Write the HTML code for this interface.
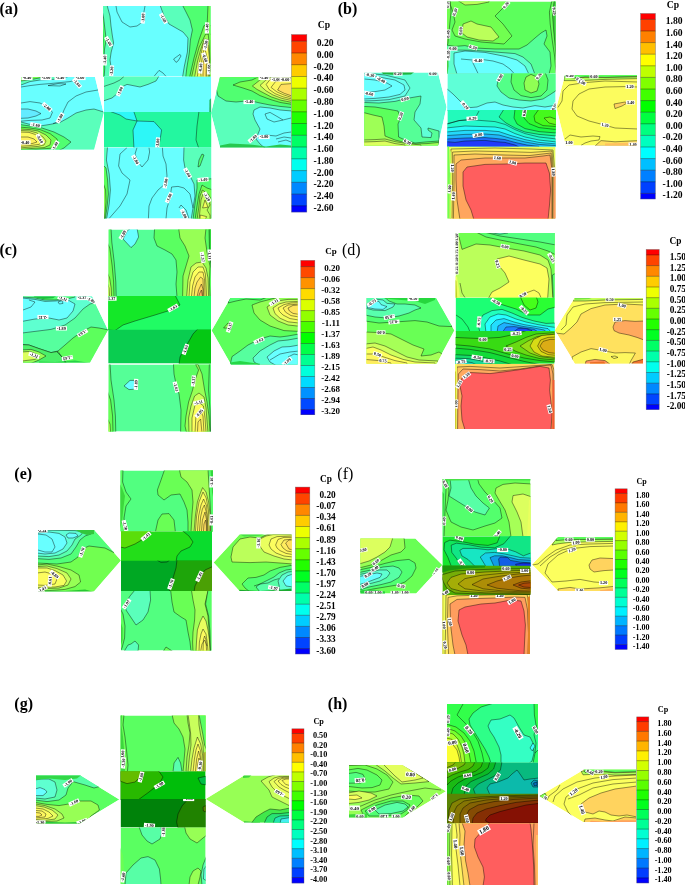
<!DOCTYPE html>
<html><head><meta charset="utf-8"><title>Cp contours</title>
<style>
html,body{margin:0;padding:0;background:#fff;}
body{width:685px;height:885px;overflow:hidden;}
svg{display:block;font-family:"Liberation Serif","DejaVu Serif",serif;}
</style></head><body>
<svg width="685" height="885" viewBox="0 0 685 885" shape-rendering="geometricPrecision">
<defs>
<filter id="bl" x="-30%" y="-30%" width="160%" height="160%"><feGaussianBlur stdDeviation="0.7"/></filter>
<clipPath id="c1"><polygon points="103,6 210.4,6 210.4,76.4 103,76.4"/></clipPath>
<clipPath id="c2"><polygon points="104,76.4 211.2,76.4 211.2,112.7 104,112.7"/></clipPath>
<clipPath id="c3"><polygon points="104,112 211.2,112 211.2,147.6 104,147.6"/></clipPath>
<clipPath id="c4"><polygon points="104,147.6 211.2,147.6 211.2,218.6 104,218.6"/></clipPath>
<clipPath id="c5"><polygon points="21,77 95,77 103.6,113 94,149.4 21,149.4"/></clipPath>
<clipPath id="c6"><polygon points="211,113 220,77 291,77 291,147.4 220,147.4"/></clipPath>
<clipPath id="c7"><polygon points="447,1.6 555.6,1.6 555.6,73.5 447,73.5"/></clipPath>
<clipPath id="c8"><polygon points="447.4,73.5 555.6,73.5 555.6,110.7 447.4,110.7"/></clipPath>
<clipPath id="c9"><polygon points="447.4,110 555.6,110 555.6,146.5 447.4,146.5"/></clipPath>
<clipPath id="c10"><polygon points="447.4,146.5 555.6,146.5 555.6,218.6 447.4,218.6"/></clipPath>
<clipPath id="c11"><polygon points="364.4,72.4 438,72.4 446.6,107 438,145.6 364.4,145.6"/></clipPath>
<clipPath id="c12"><polygon points="556.4,107.4 565,75 637,75 637,145.4 565.6,145.4"/></clipPath>
<clipPath id="c13"><polygon points="108.6,229.4 211,229.4 211,296 108.6,296"/></clipPath>
<clipPath id="c14"><polygon points="108.2,296 211,296 211,330.1 108.2,330.1"/></clipPath>
<clipPath id="c15"><polygon points="108.2,329.4 211,329.4 211,363.6 108.2,363.6"/></clipPath>
<clipPath id="c16"><polygon points="108.6,364.4 211,364.4 211,431.6 108.6,431.6"/></clipPath>
<clipPath id="c17"><polygon points="23,296.4 92,296.4 108,330 90,362.6 23,362.6"/></clipPath>
<clipPath id="c18"><polygon points="211.6,330.6 230.4,298 297.6,298 297.6,364.4 231,364.4"/></clipPath>
<clipPath id="c19"><polygon points="455.6,233 554.6,233 554.6,297.8 455.6,297.8"/></clipPath>
<clipPath id="c20"><polygon points="455.6,297.8 554.6,297.8 554.6,331.7 455.6,331.7"/></clipPath>
<clipPath id="c21"><polygon points="455.6,331 554.6,331 554.6,363.7 455.6,363.7"/></clipPath>
<clipPath id="c22"><polygon points="455.2,364 554.4,364 554.4,429 455.2,429"/></clipPath>
<clipPath id="c23"><polygon points="366.6,298 436,298 454.4,330.6 436.6,363.4 366.6,363.4"/></clipPath>
<clipPath id="c24"><polygon points="555,330.6 574.6,298.2 643,298.2 643,363.4 575,363.4"/></clipPath>
<clipPath id="c25"><polygon points="120.4,470.6 213,470.6 213,531.2 120.4,531.2"/></clipPath>
<clipPath id="c26"><polygon points="121,531.2 212,531.2 212,561.1 121,561.1"/></clipPath>
<clipPath id="c27"><polygon points="121,560.4 212,560.4 212,591 121,591"/></clipPath>
<clipPath id="c28"><polygon points="121,591 211.4,591 211.4,650.6 121,650.6"/></clipPath>
<clipPath id="c29"><polygon points="38,530 94,530 121,560.6 94,591.4 38,591.4"/></clipPath>
<clipPath id="c30"><polygon points="213.6,562.4 239.4,534.4 291.6,534.4 291.6,591 239.4,591"/></clipPath>
<clipPath id="c31"><polygon points="442.6,479 530.4,479 530.4,536.2 442.6,536.2"/></clipPath>
<clipPath id="c32"><polygon points="442.4,536.2 530.4,536.2 530.4,566.2 442.4,566.2"/></clipPath>
<clipPath id="c33"><polygon points="442.4,565.6 530.4,565.6 530.4,595 442.4,595"/></clipPath>
<clipPath id="c34"><polygon points="442.4,595 530,595 530,654 442.4,654"/></clipPath>
<clipPath id="c35"><polygon points="360.4,538.6 415.4,538.6 442.4,565 416.2,593.4 360.4,593.4"/></clipPath>
<clipPath id="c36"><polygon points="532,564.4 558,537 613,537 613,591 558,591"/></clipPath>
<clipPath id="c37"><polygon points="120.6,715.4 205.6,715.4 205.6,771.2 120.6,771.2"/></clipPath>
<clipPath id="c38"><polygon points="120.6,771.2 205.6,771.2 205.6,799.7 120.6,799.7"/></clipPath>
<clipPath id="c39"><polygon points="120.6,799 205.6,799 205.6,827.6 120.6,827.6"/></clipPath>
<clipPath id="c40"><polygon points="120.6,827.6 205.6,827.6 205.6,884 120.6,884"/></clipPath>
<clipPath id="c41"><polygon points="36,775.6 80.4,775.6 119.3,799.6 79.6,823.4 36,823.4"/></clipPath>
<clipPath id="c42"><polygon points="205.6,799 244,775.6 289,775.6 289,822.4 244,822.4"/></clipPath>
<clipPath id="c43"><polygon points="447,704 538,704 538,762.6 447,762.6"/></clipPath>
<clipPath id="c44"><polygon points="447,762.6 538,762.6 538,794 447,794"/></clipPath>
<clipPath id="c45"><polygon points="447,793.4 538,793.4 538,823.6 447,823.6"/></clipPath>
<clipPath id="c46"><polygon points="447,823.6 538,823.6 538,885 447,885"/></clipPath>
<clipPath id="c47"><polygon points="349,765 402,765 446,791.3 402.8,817.4 349,817.4"/></clipPath>
<clipPath id="c48"><polygon points="539.4,796 584,769.6 636,769.6 636,822 583,822"/></clipPath>
</defs>
<rect width="685" height="885" fill="#fff"/>
<text x="-0.6" y="14" font-size="16" font-weight="bold">(a)</text>
<g clip-path="url(#c1)">
<polygon points="103,6 210.4,6 210.4,76.4 103,76.4" fill="#68ffff"/>
<polygon points="102,5 107,5 110,16 111,26 112.4,36 113.6,43 111.2,52 110,60 111.2,68 110,78 102,78" fill="#5affbb" stroke="#000" stroke-opacity="0.85" stroke-width="0.5" stroke-linejoin="round"/>
<polygon points="102,10 103.6,18 104.8,28 106,38 105.6,43 104.4,50 104,60 104.8,68 104,78 102,78" fill="#50ff71" stroke="#000" stroke-opacity="0.85" stroke-width="0.5" stroke-linejoin="round"/>
<polygon points="102,22 103.2,30 104,40 103.2,50 102.8,60 103.2,78 102,78" fill="#28d750" filter="url(#bl)"/>
<polygon points="160,5 164,16 169,24 176,28 183,32 188,38 187.4,52 184.4,66 182.4,78 212,78 212,5" fill="#5affbb" stroke="#000" stroke-opacity="0.85" stroke-width="0.5" stroke-linejoin="round"/>
<polygon points="182.4,5 186,12 190,20 192.4,30 190.4,40 189.4,52 186.8,68 185.6,78 212,78 212,5" fill="#50ff71" stroke="#000" stroke-opacity="0.85" stroke-width="0.5" stroke-linejoin="round"/>
<polygon points="204,25.6 199,40 194,58 189.4,78 212,78 212,25.6" fill="#71ff50" stroke="#000" stroke-opacity="0.85" stroke-width="0.5" stroke-linejoin="round"/>
<polygon points="205.6,34.2 199.2,47 195.2,61 191.4,78 212,78 212,34.2" fill="#97ff55" stroke="#000" stroke-opacity="0.85" stroke-width="0.5" stroke-linejoin="round"/>
<polygon points="204.4,39 200.6,50 197.6,61 194.4,78 211,78 210,40" fill="#d3ff5d" stroke="#000" stroke-opacity="0.85" stroke-width="0.5" stroke-linejoin="round"/>
<polygon points="203.6,43 201,54 199.2,64 197.2,78 208.4,78 209.6,60 208,45" fill="#fcfd5e" stroke="#000" stroke-opacity="0.85" stroke-width="0.5" stroke-linejoin="round"/>
<polygon points="204.4,47 202,59 200.4,70 201.2,78 206.8,78 207.6,60" fill="#fdf65e" stroke="#000" stroke-opacity="0.85" stroke-width="0.5" stroke-linejoin="round"/>
<polygon points="204.8,54 203,64 203,78 206,78 206.4,64" fill="#ffe55e" stroke="#000" stroke-opacity="0.85" stroke-width="0.5" stroke-linejoin="round"/>
<polygon points="208,5 212,5 212,78 209.4,78 210,60 208.8,40 207.2,24" fill="#71ff50" stroke="#000" stroke-opacity="0.85" stroke-width="0.5" stroke-linejoin="round"/>
<polyline points="116,6 117,12 122,22 130,27 137,26 142,22.4 145,6" fill="none" stroke="#000" stroke-opacity="0.85" stroke-width="0.5" stroke-linejoin="round"/>
<polyline points="173.6,59 180,54.4 181,56 178,61 176,62.4 173.6,59" fill="none" stroke="#000" stroke-opacity="0.85" stroke-width="0.5" stroke-linejoin="round"/>
<polyline points="154,76.4 159,70.4 163,73 166,76.4" fill="none" stroke="#000" stroke-opacity="0.85" stroke-width="0.5" stroke-linejoin="round"/>
<g transform="translate(143 18) rotate(-85)"><rect x="-5.5" y="-2.1" width="11.1" height="4.2" fill="#fff"/><text x="0" y="1.4" text-anchor="middle" font-size="4.2" font-weight="bold" fill="#000">-1.80</text></g>
<g transform="translate(163.4 18.4) rotate(60)"><rect x="-5.5" y="-2.1" width="11.1" height="4.2" fill="#fff"/><text x="0" y="1.4" text-anchor="middle" font-size="4.2" font-weight="bold" fill="#000">-1.60</text></g>
<g transform="translate(108.6 41.6) rotate(60)"><rect x="-5.5" y="-2.1" width="11.1" height="4.2" fill="#fff"/><text x="0" y="1.4" text-anchor="middle" font-size="4.2" font-weight="bold" fill="#000">-1.60</text></g>
<g transform="translate(104.8 60) rotate(-88)"><rect x="-5.5" y="-2.1" width="11.1" height="4.2" fill="#fff"/><text x="0" y="1.4" text-anchor="middle" font-size="4.2" font-weight="bold" fill="#000">-1.40</text></g>
<g transform="translate(111.6 71) rotate(-85)"><rect x="-5.5" y="-2.1" width="11.1" height="4.2" fill="#fff"/><text x="0" y="1.4" text-anchor="middle" font-size="4.2" font-weight="bold" fill="#000">-1.20</text></g>
<g transform="translate(207 28) rotate(-88)"><rect x="-5.5" y="-2.1" width="11.1" height="4.2" fill="#fff"/><text x="0" y="1.4" text-anchor="middle" font-size="4.2" font-weight="bold" fill="#000">-1.40</text></g>
<g transform="translate(205.6 45) rotate(-80)"><rect x="-5.5" y="-2.1" width="11.1" height="4.2" fill="#fff"/><text x="0" y="1.4" text-anchor="middle" font-size="4.2" font-weight="bold" fill="#000">-1.20</text></g>
<g transform="translate(205 58) rotate(70)"><rect x="-5.5" y="-2.1" width="11.1" height="4.2" fill="#fff"/><text x="0" y="1.4" text-anchor="middle" font-size="4.2" font-weight="bold" fill="#000">-0.60</text></g>
<g transform="translate(200.6 68) rotate(-85)"><rect x="-5.5" y="-2.1" width="11.1" height="4.2" fill="#fff"/><text x="0" y="1.4" text-anchor="middle" font-size="4.2" font-weight="bold" fill="#000">-0.40</text></g>
<g transform="translate(209.2 69) rotate(-88)"><rect x="-5.5" y="-2.1" width="11.1" height="4.2" fill="#fff"/><text x="0" y="1.4" text-anchor="middle" font-size="4.2" font-weight="bold" fill="#000">-1.00</text></g>
</g>
<g clip-path="url(#c2)">
<polygon points="104,76.4 211.2,76.4 211.2,112.7 104,112.7" fill="#68ffff"/>
<polygon points="102,75 159.6,75 156,81 148,84.4 140,87 133,85.6 127,84.4 123,86.4 118,93 112,98 102,101.4" fill="#5affbb" stroke="#000" stroke-opacity="0.85" stroke-width="0.5" stroke-linejoin="round"/>
<polygon points="209.4,100 211.2,98 212,112.4 209.2,112.4" fill="#28be6e" filter="url(#bl)"/>
<polyline points="104,86.4 114,83 120,80 124,76.4" fill="none" stroke="#000" stroke-opacity="0.85" stroke-width="0.5" stroke-linejoin="round"/>
<g transform="translate(120 91) rotate(-65)"><rect x="-5.5" y="-2.1" width="11.1" height="4.2" fill="#fff"/><text x="0" y="1.4" text-anchor="middle" font-size="4.2" font-weight="bold" fill="#000">-1.80</text></g>
</g>
<g clip-path="url(#c3)">
<polygon points="104,112 211.2,112 211.2,147.6 104,147.6" fill="#23f7a0"/>
<polygon points="109,111 120,115 126,119 137,121 133.6,111" fill="#2df7f7" stroke="#000" stroke-opacity="0.85" stroke-width="0.5" stroke-linejoin="round"/>
<polygon points="137,121 154,121.6 161.6,130 160,140 158,149 134,149 133,130" fill="#2df7f7" stroke="#000" stroke-opacity="0.85" stroke-width="0.5" stroke-linejoin="round"/>
<polygon points="199,111 213,111 213,149 199,149 196,140 197,126" fill="#22f786" stroke="#000" stroke-opacity="0.85" stroke-width="0.5" stroke-linejoin="round"/>
<g transform="translate(157.6 143) rotate(-85)"><rect x="-5.5" y="-2.1" width="11.1" height="4.2" fill="#fff"/><text x="0" y="1.4" text-anchor="middle" font-size="4.2" font-weight="bold" fill="#000">-1.80</text></g>
</g>
<g clip-path="url(#c4)">
<polygon points="104,147.6 211.2,147.6 211.2,218.6 104,218.6" fill="#68ffff"/>
<polygon points="102,146 107.6,146 106.4,160 109.2,174 110.4,190 109.2,204 106.4,220 102,220" fill="#5affbb" stroke="#000" stroke-opacity="0.85" stroke-width="0.5" stroke-linejoin="round"/>
<polygon points="102,164 106,168 107.6,180 108.4,194 107.2,206 105.2,220 102,220" fill="#5cff5c" stroke="#000" stroke-opacity="0.85" stroke-width="0.5" stroke-linejoin="round"/>
<polygon points="102,180 105.6,190 106,202 104.4,220 102,220" fill="#84ff53" stroke="#000" stroke-opacity="0.85" stroke-width="0.5" stroke-linejoin="round"/>
<polygon points="184,146 183.6,160 185,168 190,176 194,184 195,196 193,208 191,220 213,220 213,146" fill="#5affbb" stroke="#000" stroke-opacity="0.85" stroke-width="0.5" stroke-linejoin="round"/>
<polygon points="197,180 213,178.6 213,220 193,220 194.4,208 196,196 197,188" fill="#50ff71" stroke="#000" stroke-opacity="0.85" stroke-width="0.5" stroke-linejoin="round"/>
<polygon points="202,185 207,188 213,190 213,220 195,220 197,206 199,194" fill="#71ff50" stroke="#000" stroke-opacity="0.85" stroke-width="0.5" stroke-linejoin="round"/>
<polygon points="202.4,190 208,194 211.2,199 211.2,220 197,220 199,206 200,196" fill="#a9ff57" stroke="#000" stroke-opacity="0.85" stroke-width="0.5" stroke-linejoin="round"/>
<polygon points="203,194 208,199 210,205 207,210 210,215 210,220 199,220 200,210 201,200" fill="#c2ff5b" stroke="#000" stroke-opacity="0.85" stroke-width="0.5" stroke-linejoin="round"/>
<polygon points="205,200 208,207.2 202.6,208" fill="#f6ff5e" stroke="#000" stroke-opacity="0.85" stroke-width="0.5" stroke-linejoin="round"/>
<polygon points="200.2,215 206.6,216.6 205,220 200,220" fill="#f6ff5e" stroke="#000" stroke-opacity="0.85" stroke-width="0.5" stroke-linejoin="round"/>
<polygon points="202,154 204,155 200,166 198,167 199,160" fill="#50ff71" stroke="#000" stroke-opacity="0.85" stroke-width="0.5" stroke-linejoin="round"/>
<polyline points="127,147.6 120,154 118.6,166 122,173 130,180 127,194 120,206 109,218.6" fill="none" stroke="#000" stroke-opacity="0.85" stroke-width="0.5" stroke-linejoin="round"/>
<polyline points="137,147.6 135,154 138,162 142,167 148,160 149.6,152 149,147.6" fill="none" stroke="#000" stroke-opacity="0.85" stroke-width="0.5" stroke-linejoin="round"/>
<polyline points="162.4,147.6 163,156 166,164 167,176 165,184 158,190 152,198 149,206 148.4,218.6" fill="none" stroke="#000" stroke-opacity="0.85" stroke-width="0.5" stroke-linejoin="round"/>
<polyline points="166,218.6 167,208 170,198 171.6,187 178,186.4 184,188 190,194 193,208" fill="none" stroke="#000" stroke-opacity="0.85" stroke-width="0.5" stroke-linejoin="round"/>
<polyline points="179,208 181,205 186,210 189,218.6" fill="none" stroke="#000" stroke-opacity="0.85" stroke-width="0.5" stroke-linejoin="round"/>
<g transform="translate(135.6 160) rotate(60)"><rect x="-5.5" y="-2.1" width="11.1" height="4.2" fill="#fff"/><text x="0" y="1.4" text-anchor="middle" font-size="4.2" font-weight="bold" fill="#000">-1.80</text></g>
<g transform="translate(165.6 183) rotate(-80)"><rect x="-5.5" y="-2.1" width="11.1" height="4.2" fill="#fff"/><text x="0" y="1.4" text-anchor="middle" font-size="4.2" font-weight="bold" fill="#000">-1.80</text></g>
<g transform="translate(169 197.6) rotate(-65)"><rect x="-5.5" y="-2.1" width="11.1" height="4.2" fill="#fff"/><text x="0" y="1.4" text-anchor="middle" font-size="4.2" font-weight="bold" fill="#000">-1.80</text></g>
<g transform="translate(187.6 173) rotate(60)"><rect x="-5.5" y="-2.1" width="11.1" height="4.2" fill="#fff"/><text x="0" y="1.4" text-anchor="middle" font-size="4.2" font-weight="bold" fill="#000">-1.60</text></g>
<g transform="translate(203 179.6) rotate(-5)"><rect x="-5.5" y="-2.1" width="11.1" height="4.2" fill="#fff"/><text x="0" y="1.4" text-anchor="middle" font-size="4.2" font-weight="bold" fill="#000">-1.40</text></g>
<g transform="translate(184 214) rotate(65)"><rect x="-5.5" y="-2.1" width="11.1" height="4.2" fill="#fff"/><text x="0" y="1.4" text-anchor="middle" font-size="4.2" font-weight="bold" fill="#000">-1.80</text></g>
<g transform="translate(207 197) rotate(60)"><rect x="-5.5" y="-2.1" width="11.1" height="4.2" fill="#fff"/><text x="0" y="1.4" text-anchor="middle" font-size="4.2" font-weight="bold" fill="#000">-1.20</text></g>
</g>
<g clip-path="url(#c5)">
<polygon points="21,77 95,77 103.6,113 94,149.4 21,149.4" fill="#68ffff"/>
<polygon points="21,122 30,124.4 40,126 50,124.4 60,122.4 68,118 76,113 86,110 94,109 105,112.4 105,151 19,151 19,122" fill="#5affbb" stroke="#000" stroke-opacity="0.85" stroke-width="0.5" stroke-linejoin="round"/>
<polygon points="19,124.4 30,126 42,128 54,132 64,137 71,142 64,148 58,151 19,151" fill="#50ff71" stroke="#000" stroke-opacity="0.85" stroke-width="0.5" stroke-linejoin="round"/>
<polygon points="19,127 30,128 40,129.6 50,133.6 57,139 58,144 53,148 19,151" fill="#71ff50" stroke="#000" stroke-opacity="0.85" stroke-width="0.5" stroke-linejoin="round"/>
<polygon points="19,129 30,129.6 38,131 46,135 51,140 50,145 44,147.6 19,149.4" fill="#bbff5a" stroke="#000" stroke-opacity="0.85" stroke-width="0.5" stroke-linejoin="round"/>
<polygon points="19,130.4 30,131 37,133 43,137 46,141 44,145 38,146.4 19,148" fill="#e9ff5e" stroke="#000" stroke-opacity="0.85" stroke-width="0.5" stroke-linejoin="round"/>
<polygon points="19,132 29,132.4 35,134.4 40,138.4 42,142 39,144.4 30,145.6 19,146.4" fill="#fdfa5e" stroke="#000" stroke-opacity="0.85" stroke-width="0.5" stroke-linejoin="round"/>
<polygon points="19,137 28,137 34,139 37,142 32,143.6 19,144" fill="#fef05e" stroke="#000" stroke-opacity="0.85" stroke-width="0.5" stroke-linejoin="round"/>
<polygon points="19,109 28,109 36,111 41,113.6 36,116 28,118 19,118.4" fill="#63ebff" stroke="#000" stroke-opacity="0.85" stroke-width="0.5" stroke-linejoin="round"/>
<polygon points="19,76 70,76 60,79 40,80 30,81.6 21,85 19,85" fill="#5affbb" stroke="#000" stroke-opacity="0.85" stroke-width="0.5" stroke-linejoin="round"/>
<polygon points="19,76 50,76 34,79 21,81 19,81" fill="#71ff50" stroke="#000" stroke-opacity="0.85" stroke-width="0.5" stroke-linejoin="round"/>
<polyline points="98,90 86,92 76,96 68,102 64,110 61,118 57,122 53,123.6" fill="none" stroke="#000" stroke-opacity="0.85" stroke-width="0.5" stroke-linejoin="round"/>
<polyline points="21,103 30,101.6 40,103 49,107.6 52.4,112.4 50,118 42,120 30,120.4 21,121.2" fill="none" stroke="#000" stroke-opacity="0.85" stroke-width="0.5" stroke-linejoin="round"/>
<polyline points="21,87 30,85.6 40,84.4 50,83.6 62,82.4 70,81.6 76,80 79,77.4" fill="none" stroke="#000" stroke-opacity="0.85" stroke-width="0.5" stroke-linejoin="round"/>
<polyline points="48,85.6 58,83.6 66,84 60,86 48,85.6" fill="none" stroke="#000" stroke-opacity="0.85" stroke-width="0.5" stroke-linejoin="round"/>
<g transform="translate(77 83) rotate(50)"><rect x="-5.5" y="-2.1" width="11.1" height="4.2" fill="#fff"/><text x="0" y="1.4" text-anchor="middle" font-size="4.2" font-weight="bold" fill="#000">-1.80</text></g>
<g transform="translate(47 107) rotate(40)"><rect x="-5.5" y="-2.1" width="11.1" height="4.2" fill="#fff"/><text x="0" y="1.4" text-anchor="middle" font-size="4.2" font-weight="bold" fill="#000">-2.00</text></g>
<g transform="translate(60 118) rotate(-60)"><rect x="-5.5" y="-2.1" width="11.1" height="4.2" fill="#fff"/><text x="0" y="1.4" text-anchor="middle" font-size="4.2" font-weight="bold" fill="#000">-1.80</text></g>
<g transform="translate(35.6 125) rotate(10)"><rect x="-5.5" y="-2.1" width="11.1" height="4.2" fill="#fff"/><text x="0" y="1.4" text-anchor="middle" font-size="4.2" font-weight="bold" fill="#000">-1.60</text></g>
<g transform="translate(40 139) rotate(60)"><rect x="-5.5" y="-2.1" width="11.1" height="4.2" fill="#fff"/><text x="0" y="1.4" text-anchor="middle" font-size="4.2" font-weight="bold" fill="#000">-0.60</text></g>
<g transform="translate(55 146) rotate(-60)"><rect x="-5.5" y="-2.1" width="11.1" height="4.2" fill="#fff"/><text x="0" y="1.4" text-anchor="middle" font-size="4.2" font-weight="bold" fill="#000">-1.40</text></g>
<g transform="translate(25 142.4) rotate(0)"><rect x="-5.5" y="-2.1" width="11.1" height="4.2" fill="#fff"/><text x="0" y="1.4" text-anchor="middle" font-size="4.2" font-weight="bold" fill="#000">-0.40</text></g>
<g transform="translate(27 78) rotate(0)"><rect x="-5.5" y="-2.1" width="11.1" height="4.2" fill="#fff"/><text x="0" y="1.4" text-anchor="middle" font-size="4.2" font-weight="bold" fill="#000">-0.40</text></g>
<g transform="translate(46 78) rotate(0)"><rect x="-5.5" y="-2.1" width="11.1" height="4.2" fill="#fff"/><text x="0" y="1.4" text-anchor="middle" font-size="4.2" font-weight="bold" fill="#000">-1.00</text></g>
<g transform="translate(60 78) rotate(0)"><rect x="-5.5" y="-2.1" width="11.1" height="4.2" fill="#fff"/><text x="0" y="1.4" text-anchor="middle" font-size="4.2" font-weight="bold" fill="#000">-1.40</text></g>
<g transform="translate(80 78) rotate(0)"><rect x="-5.5" y="-2.1" width="11.1" height="4.2" fill="#fff"/><text x="0" y="1.4" text-anchor="middle" font-size="4.2" font-weight="bold" fill="#000">-1.60</text></g>
</g>
<g clip-path="url(#c6)">
<polygon points="211,113 220,77 291,77 291,147.4 220,147.4" fill="#5affbb"/>
<polygon points="210,76 292,76 292,107.6 280,106.4 270,105 260,103 254,101.6 246,101 236,102 226,101 218,96 216,88 218,80" fill="#50ff71" stroke="#000" stroke-opacity="0.85" stroke-width="0.5" stroke-linejoin="round"/>
<polygon points="233,85 240,82 252,80 260,76 292,76 292,104.4 280,102.4 270,99.4 260,95.6 252,91 243,88" fill="#71ff50" stroke="#000" stroke-opacity="0.85" stroke-width="0.5" stroke-linejoin="round"/>
<polygon points="252.4,86 260,80 266,77.2 292,76.8 292,102.4 281,100.2 271,96.8 263,92.6 257,89.4" fill="#bbff5a" stroke="#000" stroke-opacity="0.85" stroke-width="0.5" stroke-linejoin="round"/>
<polygon points="260,85.4 266,80 270,78 292,77.6 292,100.6 282,98.4 273,95 266,90.8" fill="#e9ff5e" stroke="#000" stroke-opacity="0.85" stroke-width="0.5" stroke-linejoin="round"/>
<polygon points="266.2,84.4 270,79.6 292,78.4 292,99 283,96.8 275,93.6 269,89.4" fill="#fcff5e" stroke="#000" stroke-opacity="0.85" stroke-width="0.5" stroke-linejoin="round"/>
<polygon points="271,87.4 276,81 292,80 292,97.6 284,95 277,92" fill="#fdf75e" stroke="#000" stroke-opacity="0.85" stroke-width="0.5" stroke-linejoin="round"/>
<polygon points="277.6,90 281,84.4 292,83.6 292,96 284.4,93.4" fill="#ffde5e" stroke="#000" stroke-opacity="0.85" stroke-width="0.5" stroke-linejoin="round"/>
<polygon points="219,75.6 260,75.6 258,77.6 240,78.4 230,77.6 219,80" fill="#5cff5c" filter="url(#bl)"/>
<polygon points="254,110 260,107 270,108 280,110 292,111 292,149 266,149 260,144 256,139 260,129 255,120 253,114" fill="#68ffff" stroke="#000" stroke-opacity="0.85" stroke-width="0.5" stroke-linejoin="round"/>
<polygon points="220,148 291,148 291,145.6 280,144.4 266,146.4 250,144.4 230,143.6 220,145.4" fill="#28c850" filter="url(#bl)"/>
<polyline points="291,118 283,120 278,117 270,112.4 265,114 267,119 274,122 283,120" fill="none" stroke="#000" stroke-opacity="0.85" stroke-width="0.5" stroke-linejoin="round"/>
<polyline points="258,138 266,135 276,136 284,133 291,132" fill="none" stroke="#000" stroke-opacity="0.85" stroke-width="0.5" stroke-linejoin="round"/>
<polyline points="276,139 284,137 291,138" fill="none" stroke="#000" stroke-opacity="0.85" stroke-width="0.5" stroke-linejoin="round"/>
<polyline points="278,142 286,140 291,142" fill="none" stroke="#000" stroke-opacity="0.85" stroke-width="0.5" stroke-linejoin="round"/>
<g transform="translate(249 102) rotate(0)"><rect x="-5.5" y="-2.1" width="11.1" height="4.2" fill="#fff"/><text x="0" y="1.4" text-anchor="middle" font-size="4.2" font-weight="bold" fill="#000">-1.40</text></g>
<g transform="translate(253 138.4) rotate(-40)"><rect x="-5.5" y="-2.1" width="11.1" height="4.2" fill="#fff"/><text x="0" y="1.4" text-anchor="middle" font-size="4.2" font-weight="bold" fill="#000">-1.60</text></g>
<g transform="translate(264 137) rotate(0)"><rect x="-5.5" y="-2.1" width="11.1" height="4.2" fill="#fff"/><text x="0" y="1.4" text-anchor="middle" font-size="4.2" font-weight="bold" fill="#000">-1.80</text></g>
<g transform="translate(264 78) rotate(0)"><rect x="-5.5" y="-2.1" width="11.1" height="4.2" fill="#fff"/><text x="0" y="1.4" text-anchor="middle" font-size="4.2" font-weight="bold" fill="#000">-1.40</text></g>
<g transform="translate(276 79.4) rotate(0)"><rect x="-5.5" y="-2.1" width="11.1" height="4.2" fill="#fff"/><text x="0" y="1.4" text-anchor="middle" font-size="4.2" font-weight="bold" fill="#000">-1.00</text></g>
<g transform="translate(285 79.4) rotate(0)"><rect x="-5.5" y="-2.1" width="11.1" height="4.2" fill="#fff"/><text x="0" y="1.4" text-anchor="middle" font-size="4.2" font-weight="bold" fill="#000">-0.60</text></g>
</g>
<g>
<rect x="291.5" y="34.6" width="15.3" height="6.8" fill="#ff0000"/>
<rect x="291.5" y="41.2" width="15.3" height="12" fill="#ff4400"/>
<rect x="291.5" y="53" width="15.3" height="12" fill="#ff8800"/>
<rect x="291.5" y="64.7" width="15.3" height="12" fill="#ffcc00"/>
<rect x="291.5" y="76.5" width="15.3" height="12" fill="#eeff00"/>
<rect x="291.5" y="88.2" width="15.3" height="12" fill="#aaff00"/>
<rect x="291.5" y="100" width="15.3" height="12" fill="#66ff00"/>
<rect x="291.5" y="111.8" width="15.3" height="12" fill="#22ff00"/>
<rect x="291.5" y="123.5" width="15.3" height="12" fill="#00ff22"/>
<rect x="291.5" y="135.3" width="15.3" height="12" fill="#00ff66"/>
<rect x="291.5" y="147" width="15.3" height="12" fill="#00ffaa"/>
<rect x="291.5" y="158.8" width="15.3" height="12" fill="#00ffee"/>
<rect x="291.5" y="170.6" width="15.3" height="12" fill="#00ccff"/>
<rect x="291.5" y="182.3" width="15.3" height="12" fill="#0088ff"/>
<rect x="291.5" y="194.1" width="15.3" height="12" fill="#0044ff"/>
<rect x="291.5" y="205.8" width="15.3" height="6.4" fill="#0000ff"/>
<line x1="291.5" x2="306.8" y1="41.2" y2="41.2" stroke="#000" stroke-opacity="0.7" stroke-width="0.5"/>
<line x1="291.5" x2="306.8" y1="53" y2="53" stroke="#000" stroke-opacity="0.7" stroke-width="0.5"/>
<line x1="291.5" x2="306.8" y1="64.7" y2="64.7" stroke="#000" stroke-opacity="0.7" stroke-width="0.5"/>
<line x1="291.5" x2="306.8" y1="76.5" y2="76.5" stroke="#000" stroke-opacity="0.7" stroke-width="0.5"/>
<line x1="291.5" x2="306.8" y1="88.2" y2="88.2" stroke="#000" stroke-opacity="0.7" stroke-width="0.5"/>
<line x1="291.5" x2="306.8" y1="100" y2="100" stroke="#000" stroke-opacity="0.7" stroke-width="0.5"/>
<line x1="291.5" x2="306.8" y1="111.8" y2="111.8" stroke="#000" stroke-opacity="0.7" stroke-width="0.5"/>
<line x1="291.5" x2="306.8" y1="123.5" y2="123.5" stroke="#000" stroke-opacity="0.7" stroke-width="0.5"/>
<line x1="291.5" x2="306.8" y1="135.3" y2="135.3" stroke="#000" stroke-opacity="0.7" stroke-width="0.5"/>
<line x1="291.5" x2="306.8" y1="147" y2="147" stroke="#000" stroke-opacity="0.7" stroke-width="0.5"/>
<line x1="291.5" x2="306.8" y1="158.8" y2="158.8" stroke="#000" stroke-opacity="0.7" stroke-width="0.5"/>
<line x1="291.5" x2="306.8" y1="170.6" y2="170.6" stroke="#000" stroke-opacity="0.7" stroke-width="0.5"/>
<line x1="291.5" x2="306.8" y1="182.3" y2="182.3" stroke="#000" stroke-opacity="0.7" stroke-width="0.5"/>
<line x1="291.5" x2="306.8" y1="194.1" y2="194.1" stroke="#000" stroke-opacity="0.7" stroke-width="0.5"/>
<line x1="291.5" x2="306.8" y1="205.8" y2="205.8" stroke="#000" stroke-opacity="0.7" stroke-width="0.5"/>
<rect x="291.5" y="34.6" width="15.3" height="177.4" fill="none" stroke="#555" stroke-opacity="0.6" stroke-width="0.6"/>
<text x="333.6" y="46.2" text-anchor="end" font-size="9.6" font-weight="bold">0.20</text>
<text x="333.6" y="57.9" text-anchor="end" font-size="9.6" font-weight="bold">0.00</text>
<text x="333.6" y="69.7" text-anchor="end" font-size="9.6" font-weight="bold">-0.20</text>
<text x="333.6" y="81.4" text-anchor="end" font-size="9.6" font-weight="bold">-0.40</text>
<text x="333.6" y="93.2" text-anchor="end" font-size="9.6" font-weight="bold">-0.60</text>
<text x="333.6" y="105" text-anchor="end" font-size="9.6" font-weight="bold">-0.80</text>
<text x="333.6" y="116.7" text-anchor="end" font-size="9.6" font-weight="bold">-1.00</text>
<text x="333.6" y="128.5" text-anchor="end" font-size="9.6" font-weight="bold">-1.20</text>
<text x="333.6" y="140.2" text-anchor="end" font-size="9.6" font-weight="bold">-1.40</text>
<text x="333.6" y="152" text-anchor="end" font-size="9.6" font-weight="bold">-1.60</text>
<text x="333.6" y="163.8" text-anchor="end" font-size="9.6" font-weight="bold">-1.80</text>
<text x="333.6" y="175.5" text-anchor="end" font-size="9.6" font-weight="bold">-2.00</text>
<text x="333.6" y="187.3" text-anchor="end" font-size="9.6" font-weight="bold">-2.20</text>
<text x="333.6" y="199" text-anchor="end" font-size="9.6" font-weight="bold">-2.40</text>
<text x="333.6" y="210.8" text-anchor="end" font-size="9.6" font-weight="bold">-2.60</text>
<text x="324" y="28.4" text-anchor="middle" font-size="9.6" font-weight="bold">Cp</text>
</g>
<text x="337.7" y="14" font-size="16" font-weight="bold">(b)</text>
<g clip-path="url(#c7)">
<polygon points="447,1.6 555.6,1.6 555.6,73.5 447,73.5" fill="#5cff5c"/>
<polygon points="509,0 503,8 495,16 503,24 512,36 504,44 493,43 481,42 465,39 455,36 452,30 455,22 453,12 450,4 450,0" fill="#71ff50" stroke="#000" stroke-opacity="0.85" stroke-width="0.5" stroke-linejoin="round"/>
<polygon points="463,24 471,21 477,24 491,27 499,37 493,41 479,40 467,37 462,33" fill="#bbff5a" stroke="#000" stroke-opacity="0.85" stroke-width="0.5" stroke-linejoin="round"/>
<polygon points="457,0 465,5 477,4.4 489,2 489,0" fill="#bbff5a" stroke="#000" stroke-opacity="0.85" stroke-width="0.5" stroke-linejoin="round"/>
<polygon points="446,45 455,46.4 465,45.6 475,48 495,49 519,49 527,45 535,38 541,33 546,30 547,36 544,44 550,52 551,66 549,74.4 446,74.4" fill="#55ff97" stroke="#000" stroke-opacity="0.85" stroke-width="0.5" stroke-linejoin="round"/>
<polygon points="446,49.6 455,50 475,50.4 495,52 515,53.6 523,57 531,64 535,74.4 446,74.4" fill="#5effd0" stroke="#000" stroke-opacity="0.85" stroke-width="0.5" stroke-linejoin="round"/>
<polygon points="454,53 465,51 485,52.4 505,56.4 517,60 525,66 529,74.4 457,74.4 454,64" fill="#68ffff" stroke="#000" stroke-opacity="0.85" stroke-width="0.5" stroke-linejoin="round"/>
<polygon points="552,0 549.4,12 550.2,24 552.2,40 554.6,56 556.2,74.4 557,74.4 557,0" fill="#65ff57" stroke="#000" stroke-opacity="0.85" stroke-width="0.5" stroke-linejoin="round"/>
<polygon points="554.2,0 552.6,16 553.8,32 555.2,46 556.2,60 557,60 557,0" fill="#3cc83c" stroke="#000" stroke-opacity="0.85" stroke-width="0.5" stroke-linejoin="round"/>
<polygon points="446,0 450,0 451,12 449.4,28 447.8,44 446,46" fill="#71ff50" stroke="#000" stroke-opacity="0.85" stroke-width="0.5" stroke-linejoin="round"/>
<polygon points="446,48 448.2,50 448.6,66 447.4,74.4 446,74.4" fill="#46d246" filter="url(#bl)"/>
<polyline points="461,59 472,60 483,59.6 493,61 503,64 510,69 514,73.4" fill="none" stroke="#000" stroke-opacity="0.85" stroke-width="0.5" stroke-linejoin="round"/>
<polyline points="472,61 478,73.4" fill="none" stroke="#000" stroke-opacity="0.85" stroke-width="0.5" stroke-linejoin="round"/>
<g transform="translate(455 12) rotate(-70)"><rect x="-4.5" y="-2.1" width="9" height="4.2" fill="#fff"/><text x="0" y="1.4" text-anchor="middle" font-size="4.2" font-weight="bold" fill="#000">0.20</text></g>
<g transform="translate(460.6 31) rotate(-85)"><rect x="-4.5" y="-2.1" width="9" height="4.2" fill="#fff"/><text x="0" y="1.4" text-anchor="middle" font-size="4.2" font-weight="bold" fill="#000">0.60</text></g>
<g transform="translate(473 47.4) rotate(15)"><rect x="-4.5" y="-2.1" width="9" height="4.2" fill="#fff"/><text x="0" y="1.4" text-anchor="middle" font-size="4.2" font-weight="bold" fill="#000">0.20</text></g>
<g transform="translate(453 48.6) rotate(0)"><rect x="-4.5" y="-2.1" width="9" height="4.2" fill="#fff"/><text x="0" y="1.4" text-anchor="middle" font-size="4.2" font-weight="bold" fill="#000">0.00</text></g>
<g transform="translate(478 60.6) rotate(0)"><rect x="-5.5" y="-2.1" width="11.1" height="4.2" fill="#fff"/><text x="0" y="1.4" text-anchor="middle" font-size="4.2" font-weight="bold" fill="#000">-0.40</text></g>
<g transform="translate(506 5) rotate(-50)"><rect x="-4.5" y="-2.1" width="9" height="4.2" fill="#fff"/><text x="0" y="1.4" text-anchor="middle" font-size="4.2" font-weight="bold" fill="#000">0.20</text></g>
<g transform="translate(554.4 11) rotate(80)"><rect x="-4.5" y="-2.1" width="9" height="4.2" fill="#fff"/><text x="0" y="1.4" text-anchor="middle" font-size="4.2" font-weight="bold" fill="#000">0.20</text></g>
<g transform="translate(448.2 34) rotate(-88)"><rect x="-4.5" y="-2.1" width="9" height="4.2" fill="#fff"/><text x="0" y="1.4" text-anchor="middle" font-size="4.2" font-weight="bold" fill="#000">0.40</text></g>
<g transform="translate(448.2 55) rotate(-88)"><rect x="-5.5" y="-2.1" width="11.1" height="4.2" fill="#fff"/><text x="0" y="1.4" text-anchor="middle" font-size="4.2" font-weight="bold" fill="#000">-0.20</text></g>
<g transform="translate(447.8 4) rotate(-88)"><rect x="-4.5" y="-2.1" width="9" height="4.2" fill="#fff"/><text x="0" y="1.4" text-anchor="middle" font-size="4.2" font-weight="bold" fill="#000">0.20</text></g>
</g>
<g clip-path="url(#c8)">
<polygon points="447.4,73.5 555.6,73.5 555.6,110.7 447.4,110.7" fill="#5fffd7"/>
<polygon points="446,88 453,94 461,102 470,107.6 477,107 487,103 495,102 503,105 513,107 523,108 535,105.6 545,107 557,105 557,111 446,111" fill="#68ffff" stroke="#000" stroke-opacity="0.85" stroke-width="0.5" stroke-linejoin="round"/>
<polygon points="501,72 498,80 497,86 501,92 509,98 519,100 531,101 543,99 551,94 557,90 557,72" fill="#53ff88" stroke="#000" stroke-opacity="0.85" stroke-width="0.5" stroke-linejoin="round"/>
<polygon points="512,72 511,82 514,90 521,95.6 531,97.6 541,96 547,90 548,80 545,72" fill="#57ff65" stroke="#000" stroke-opacity="0.85" stroke-width="0.5" stroke-linejoin="round"/>
<polygon points="526,77 531,74.4 537,77 539,84 537,91 531,93 525,90 524,83" fill="#90ff54" stroke="#000" stroke-opacity="0.85" stroke-width="0.5" stroke-linejoin="round"/>
<g transform="translate(500 77.6) rotate(-60)"><rect x="-4.5" y="-2.1" width="9" height="4.2" fill="#fff"/><text x="0" y="1.4" text-anchor="middle" font-size="4.2" font-weight="bold" fill="#000">0.00</text></g>
<g transform="translate(539 76) rotate(-50)"><rect x="-4.5" y="-2.1" width="9" height="4.2" fill="#fff"/><text x="0" y="1.4" text-anchor="middle" font-size="4.2" font-weight="bold" fill="#000">0.20</text></g>
<g transform="translate(465 105.6) rotate(50)"><rect x="-5.5" y="-2.1" width="11.1" height="4.2" fill="#fff"/><text x="0" y="1.4" text-anchor="middle" font-size="4.2" font-weight="bold" fill="#000">-0.20</text></g>
<g transform="translate(554 107.6) rotate(-60)"><rect x="-5.5" y="-2.1" width="11.1" height="4.2" fill="#fff"/><text x="0" y="1.4" text-anchor="middle" font-size="4.2" font-weight="bold" fill="#000">-0.20</text></g>
</g>
<g clip-path="url(#c9)">
<polygon points="447.4,110 555.6,110 555.6,146.5 447.4,146.5" fill="#22fabb"/>
<polygon points="504,109 499,117 506,123 515,128 525,132 539,134.4 557,136 557,109" fill="#1efa7c" stroke="#000" stroke-opacity="0.85" stroke-width="0.5" stroke-linejoin="round"/>
<polygon points="515,109 514,118 517,124 525,128.6 539,131.6 557,133 557,109" fill="#1cfa45" stroke="#000" stroke-opacity="0.85" stroke-width="0.5" stroke-linejoin="round"/>
<polygon points="523,109 524,118 529,123.6 539,127.6 557,129.6 557,109" fill="#2ffa2f" stroke="#000" stroke-opacity="0.85" stroke-width="0.5" stroke-linejoin="round"/>
<polygon points="539,109 534,116 535,121.6 543,125.6 557,126.6 557,109" fill="#45fa1c" stroke="#000" stroke-opacity="0.85" stroke-width="0.5" stroke-linejoin="round"/>
<polygon points="544,118 550,117 557,119.6 557,125 549,123" fill="#6afa1d" stroke="#000" stroke-opacity="0.85" stroke-width="0.5" stroke-linejoin="round"/>
<polygon points="446,124 459,120.6 475,120 495,121.6 505,124.4 515,129.6 525,133.6 539,137 557,139 557,148 446,148" fill="#24facd" stroke="#000" stroke-opacity="0.85" stroke-width="0.5" stroke-linejoin="round"/>
<polygon points="446,128 465,126 495,127 505,129 515,133.6 525,137 539,140 557,142 557,148 446,148" fill="#29fafa" stroke="#000" stroke-opacity="0.85" stroke-width="0.5" stroke-linejoin="round"/>
<polygon points="446,132 465,130.4 485,130.4 499,131.6 511,135.6 525,139.6 539,142.4 557,144 557,148 446,148" fill="#24d9fa" stroke="#000" stroke-opacity="0.85" stroke-width="0.5" stroke-linejoin="round"/>
<polygon points="446,135.6 465,134.4 485,134 499,135 511,138.4 525,142 539,144.4 557,145.6 557,148 446,148" fill="#20b5fa" stroke="#000" stroke-opacity="0.85" stroke-width="0.5" stroke-linejoin="round"/>
<polygon points="446,139 465,138 485,137.6 495,138.4 505,139.6 515,142.4 527,145 539,146.4 539,148 446,148" fill="#206ffa" stroke="#000" stroke-opacity="0.85" stroke-width="0.5" stroke-linejoin="round"/>
<polygon points="446,141.6 455,142.4 465,141 485,140.4 495,141.6 505,142.4 515,145 521,148 446,148" fill="#203afa" stroke="#000" stroke-opacity="0.85" stroke-width="0.5" stroke-linejoin="round"/>
<polyline points="447.4,124 459,120.6 475,118.4 479,111" fill="none" stroke="#000" stroke-opacity="0.85" stroke-width="0.5" stroke-linejoin="round"/>
<g transform="translate(472 118.4) rotate(-5)"><rect x="-5.5" y="-2.1" width="11.1" height="4.2" fill="#fff"/><text x="0" y="1.4" text-anchor="middle" font-size="4.2" font-weight="bold" fill="#000">-0.20</text></g>
<g transform="translate(478 135) rotate(-10)"><rect x="-5.5" y="-2.1" width="11.1" height="4.2" fill="#fff"/><text x="0" y="1.4" text-anchor="middle" font-size="4.2" font-weight="bold" fill="#000">-0.80</text></g>
<g transform="translate(524.4 112.4) rotate(-80)"><rect x="-4.5" y="-2.1" width="9" height="4.2" fill="#fff"/><text x="0" y="1.4" text-anchor="middle" font-size="4.2" font-weight="bold" fill="#000">0.00</text></g>
</g>
<g clip-path="url(#c10)">
<polygon points="447.4,146.5 555.6,146.5 555.6,218.6 447.4,218.6" fill="#e9ff5e"/>
<polygon points="451,149 495,148 531,149 553,150 554.6,170 554.6,220 450,220 450.6,170" fill="#fef45e" stroke="#000" stroke-opacity="0.85" stroke-width="0.5" stroke-linejoin="round"/>
<polygon points="452.6,152 475,151 505,151.6 531,152.4 552,151 553.4,170 553.4,220 452,220 452.6,180" fill="#ffe15e" stroke="#000" stroke-opacity="0.85" stroke-width="0.5" stroke-linejoin="round"/>
<polygon points="454,155 475,154 505,155 529,155.6 551,153 552.6,170 552.6,220 453.4,220 454,180" fill="#ffc85e" stroke="#000" stroke-opacity="0.85" stroke-width="0.5" stroke-linejoin="round"/>
<polygon points="456,164 461,160 485,158 505,158 525,158 543,156 550,155 552,170 552,220 460,220 457,200 456,180" fill="#ffa55e" stroke="#000" stroke-opacity="0.85" stroke-width="0.5" stroke-linejoin="round"/>
<polygon points="463,172 467,167 485,164.4 505,164 525,163 546,163 549.4,173 550.6,190 549.4,206 548,220 474,220 471,210 466,200 463,186" fill="#ff5e5e" stroke="#000" stroke-opacity="0.85" stroke-width="0.5" stroke-linejoin="round"/>
<polygon points="446,146 449,146 450,170 449.4,220 446,220" fill="#71ff50" filter="url(#bl)"/>
<polygon points="449,149 451,152 451.4,170 451,220 449.4,220 450,170" fill="#bbff5a" filter="url(#bl)"/>
<polygon points="553.8,170 557,170 557,220 553.4,220" fill="#ff985e" filter="url(#bl)"/>
<g transform="translate(497.4 158) rotate(5)"><rect x="-4.5" y="-2.1" width="9" height="4.2" fill="#fff"/><text x="0" y="1.4" text-anchor="middle" font-size="4.2" font-weight="bold" fill="#000">1.60</text></g>
<g transform="translate(512.6 162.6) rotate(15)"><rect x="-4.5" y="-2.1" width="9" height="4.2" fill="#fff"/><text x="0" y="1.4" text-anchor="middle" font-size="4.2" font-weight="bold" fill="#000">1.80</text></g>
<g transform="translate(553.4 172) rotate(85)"><rect x="-4.5" y="-2.1" width="9" height="4.2" fill="#fff"/><text x="0" y="1.4" text-anchor="middle" font-size="4.2" font-weight="bold" fill="#000">1.80</text></g>
<g transform="translate(453.4 196) rotate(-85)"><rect x="-4.5" y="-2.1" width="9" height="4.2" fill="#fff"/><text x="0" y="1.4" text-anchor="middle" font-size="4.2" font-weight="bold" fill="#000">1.40</text></g>
<g transform="translate(449.4 189) rotate(-80)"><rect x="-4.5" y="-2.1" width="9" height="4.2" fill="#fff"/><text x="0" y="1.4" text-anchor="middle" font-size="4.2" font-weight="bold" fill="#000">1.00</text></g>
<g transform="translate(452 168) rotate(90)"><rect x="-4.5" y="-2.1" width="9" height="4.2" fill="#fff"/><text x="0" y="1.4" text-anchor="middle" font-size="4.2" font-weight="bold" fill="#000">1.20</text></g>
</g>
<g clip-path="url(#c11)">
<polygon points="364.4,72.4 438,72.4 446.6,107 438,145.6 364.4,145.6" fill="#5fffd7"/>
<polygon points="363,73 385,75 405,80 410,88 405,96 389,99.6 375,100.6 363,101" fill="#64ffeb" stroke="#000" stroke-opacity="0.85" stroke-width="0.5" stroke-linejoin="round"/>
<polygon points="363,75 379,77 395,80 404,85 405,90 400,94.4 389,97 375,98.4 363,99" fill="#68ffff" stroke="#000" stroke-opacity="0.85" stroke-width="0.5" stroke-linejoin="round"/>
<polygon points="363,102.4 379,103 395,101.4 407,98.4 415,97 421,96 420,104 415,112 414,120 421,128 422,137 431,137.6 432,133 428,130 428,128 439,131 439,147 363,147" fill="#55ff97" stroke="#000" stroke-opacity="0.85" stroke-width="0.5" stroke-linejoin="round"/>
<polygon points="363,106.4 375,107 387,109 398,111 400.6,118 398,124 398.6,137 405,140 415,143 425,142 439,141 439,147 363,147" fill="#5cff5c" stroke="#000" stroke-opacity="0.85" stroke-width="0.5" stroke-linejoin="round"/>
<polygon points="363,112.4 373,115 382,117 384,126 385,136 395,140 403,142 415,144 427,143.6 439,142.4 439,147 363,147" fill="#9eff56" stroke="#000" stroke-opacity="0.85" stroke-width="0.5" stroke-linejoin="round"/>
<polygon points="363,140 375,139.6 385,139 395,141.6 407,143.6 421,145 421,147 363,147" fill="#bbff5a" stroke="#000" stroke-opacity="0.85" stroke-width="0.5" stroke-linejoin="round"/>
<polygon points="363,142 375,141.6 385,141 395,143.6 405,145 405,147 363,147" fill="#dcff5e" stroke="#000" stroke-opacity="0.85" stroke-width="0.5" stroke-linejoin="round"/>
<polygon points="381,71.6 415,71.6 411,74.4 395,75 383,74" fill="#1eb43c" filter="url(#bl)"/>
<polyline points="364.4,79 375,80 387,83 392,86 385,90 375,91.6 364.4,92.4" fill="none" stroke="#000" stroke-opacity="0.85" stroke-width="0.5" stroke-linejoin="round"/>
<g transform="translate(370 75) rotate(10)"><rect x="-5.5" y="-2.1" width="11.1" height="4.2" fill="#fff"/><text x="0" y="1.4" text-anchor="middle" font-size="4.2" font-weight="bold" fill="#000">-0.20</text></g>
<g transform="translate(381 80) rotate(30)"><rect x="-5.5" y="-2.1" width="11.1" height="4.2" fill="#fff"/><text x="0" y="1.4" text-anchor="middle" font-size="4.2" font-weight="bold" fill="#000">-0.40</text></g>
<g transform="translate(369 93.6) rotate(10)"><rect x="-5.5" y="-2.1" width="11.1" height="4.2" fill="#fff"/><text x="0" y="1.4" text-anchor="middle" font-size="4.2" font-weight="bold" fill="#000">-0.60</text></g>
<g transform="translate(405 99) rotate(-15)"><rect x="-4.5" y="-2.1" width="9" height="4.2" fill="#fff"/><text x="0" y="1.4" text-anchor="middle" font-size="4.2" font-weight="bold" fill="#000">0.00</text></g>
<g transform="translate(400.6 116) rotate(-70)"><rect x="-4.5" y="-2.1" width="9" height="4.2" fill="#fff"/><text x="0" y="1.4" text-anchor="middle" font-size="4.2" font-weight="bold" fill="#000">0.20</text></g>
<g transform="translate(407.4 142) rotate(30)"><rect x="-4.5" y="-2.1" width="9" height="4.2" fill="#fff"/><text x="0" y="1.4" text-anchor="middle" font-size="4.2" font-weight="bold" fill="#000">0.20</text></g>
<g transform="translate(398 73.6) rotate(0)"><rect x="-4.5" y="-2.1" width="9" height="4.2" fill="#fff"/><text x="0" y="1.4" text-anchor="middle" font-size="4.2" font-weight="bold" fill="#000">0.20</text></g>
<g transform="translate(433 73.6) rotate(0)"><rect x="-4.5" y="-2.1" width="9" height="4.2" fill="#fff"/><text x="0" y="1.4" text-anchor="middle" font-size="4.2" font-weight="bold" fill="#000">0.00</text></g>
</g>
<g clip-path="url(#c12)">
<polygon points="556.4,107.4 565,75 637,75 637,145.4 565.6,145.4" fill="#fcff5e"/>
<polygon points="638,87 625,86.6 605,87 589,89 579,94 573,101 572,109 577,116 589,121 603,124.6 615,128 638,129" fill="#fcfc5e" stroke="#000" stroke-opacity="0.85" stroke-width="0.5" stroke-linejoin="round"/>
<polygon points="564,74 638,74 638,76.6 605,77.4 585,77 575,78 564,78.6" fill="#5cff5c" stroke="#000" stroke-opacity="0.85" stroke-width="0.5" stroke-linejoin="round"/>
<polygon points="564,76.6 575,78.2 585,77.4 605,77.6 638,76.8 638,78.6 605,79.4 585,80.4 575,80.6 564,80.6" fill="#adff58" stroke="#000" stroke-opacity="0.85" stroke-width="0.5" stroke-linejoin="round"/>
<polygon points="614,104 625,102 627,103 622,106 615,108.6" fill="#ffd35e" stroke="#000" stroke-opacity="0.85" stroke-width="0.5" stroke-linejoin="round"/>
<polygon points="601,140.6 615,141.8 638,140.6 638,146 595,146" fill="#ffe15e" stroke="#000" stroke-opacity="0.85" stroke-width="0.5" stroke-linejoin="round"/>
<polygon points="605,143.4 638,142.6 638,146 605,146" fill="#ffc05e" filter="url(#bl)"/>
<polyline points="638,82 605,81 585,82.6 569,85 563,91 562,101 558,107.4" fill="none" stroke="#000" stroke-opacity="0.85" stroke-width="0.5" stroke-linejoin="round"/>
<polyline points="565,139 570,135 581,137 593,136 600,136.6 599,140 591,141 585,143 581,145.4" fill="none" stroke="#000" stroke-opacity="0.85" stroke-width="0.5" stroke-linejoin="round"/>
<g transform="translate(570 76) rotate(0)"><rect x="-4.5" y="-2.1" width="9" height="4.2" fill="#fff"/><text x="0" y="1.4" text-anchor="middle" font-size="4.2" font-weight="bold" fill="#000">0.40</text></g>
<g transform="translate(594 76.4) rotate(0)"><rect x="-4.5" y="-2.1" width="9" height="4.2" fill="#fff"/><text x="0" y="1.4" text-anchor="middle" font-size="4.2" font-weight="bold" fill="#000">0.60</text></g>
<g transform="translate(580 80) rotate(25)"><rect x="-4.5" y="-2.1" width="9" height="4.2" fill="#fff"/><text x="0" y="1.4" text-anchor="middle" font-size="4.2" font-weight="bold" fill="#000">0.80</text></g>
<g transform="translate(582 82.4) rotate(25)"><rect x="-4.5" y="-2.1" width="9" height="4.2" fill="#fff"/><text x="0" y="1.4" text-anchor="middle" font-size="4.2" font-weight="bold" fill="#000">1.00</text></g>
<g transform="translate(630 86.6) rotate(0)"><rect x="-4.5" y="-2.1" width="9" height="4.2" fill="#fff"/><text x="0" y="1.4" text-anchor="middle" font-size="4.2" font-weight="bold" fill="#000">1.20</text></g>
<g transform="translate(630.6 102.4) rotate(0)"><rect x="-4.5" y="-2.1" width="9" height="4.2" fill="#fff"/><text x="0" y="1.4" text-anchor="middle" font-size="4.2" font-weight="bold" fill="#000">1.40</text></g>
<g transform="translate(605 125) rotate(10)"><rect x="-4.5" y="-2.1" width="9" height="4.2" fill="#fff"/><text x="0" y="1.4" text-anchor="middle" font-size="4.2" font-weight="bold" fill="#000">1.20</text></g>
<g transform="translate(569 143) rotate(0)"><rect x="-4.5" y="-2.1" width="9" height="4.2" fill="#fff"/><text x="0" y="1.4" text-anchor="middle" font-size="4.2" font-weight="bold" fill="#000">1.00</text></g>
<g transform="translate(633 144.6) rotate(0)"><rect x="-4.5" y="-2.1" width="9" height="4.2" fill="#fff"/><text x="0" y="1.4" text-anchor="middle" font-size="4.2" font-weight="bold" fill="#000">1.40</text></g>
</g>
<g>
<rect x="640.6" y="13.5" width="14.8" height="6.1" fill="#ff0000"/>
<rect x="640.6" y="19.4" width="14.8" height="11.8" fill="#ff4000"/>
<rect x="640.6" y="31" width="14.8" height="11.8" fill="#ff8000"/>
<rect x="640.6" y="42.6" width="14.8" height="11.8" fill="#ffbf00"/>
<rect x="640.6" y="54.2" width="14.8" height="11.8" fill="#ffff00"/>
<rect x="640.6" y="65.8" width="14.8" height="11.8" fill="#bfff00"/>
<rect x="640.6" y="77.4" width="14.8" height="11.8" fill="#80ff00"/>
<rect x="640.6" y="89" width="14.8" height="11.8" fill="#40ff00"/>
<rect x="640.6" y="100.6" width="14.8" height="11.8" fill="#00ff00"/>
<rect x="640.6" y="112.2" width="14.8" height="11.8" fill="#00ff40"/>
<rect x="640.6" y="123.8" width="14.8" height="11.8" fill="#00ff80"/>
<rect x="640.6" y="135.4" width="14.8" height="11.8" fill="#00ffbf"/>
<rect x="640.6" y="147" width="14.8" height="11.8" fill="#00ffff"/>
<rect x="640.6" y="158.6" width="14.8" height="11.8" fill="#00bfff"/>
<rect x="640.6" y="170.2" width="14.8" height="11.8" fill="#0080ff"/>
<rect x="640.6" y="181.8" width="14.8" height="11.8" fill="#0040ff"/>
<rect x="640.6" y="193.4" width="14.8" height="5.7" fill="#0000ff"/>
<line x1="640.6" x2="655.4" y1="19.4" y2="19.4" stroke="#000" stroke-opacity="0.7" stroke-width="0.5"/>
<line x1="640.6" x2="655.4" y1="31" y2="31" stroke="#000" stroke-opacity="0.7" stroke-width="0.5"/>
<line x1="640.6" x2="655.4" y1="42.6" y2="42.6" stroke="#000" stroke-opacity="0.7" stroke-width="0.5"/>
<line x1="640.6" x2="655.4" y1="54.2" y2="54.2" stroke="#000" stroke-opacity="0.7" stroke-width="0.5"/>
<line x1="640.6" x2="655.4" y1="65.8" y2="65.8" stroke="#000" stroke-opacity="0.7" stroke-width="0.5"/>
<line x1="640.6" x2="655.4" y1="77.4" y2="77.4" stroke="#000" stroke-opacity="0.7" stroke-width="0.5"/>
<line x1="640.6" x2="655.4" y1="89" y2="89" stroke="#000" stroke-opacity="0.7" stroke-width="0.5"/>
<line x1="640.6" x2="655.4" y1="100.6" y2="100.6" stroke="#000" stroke-opacity="0.7" stroke-width="0.5"/>
<line x1="640.6" x2="655.4" y1="112.2" y2="112.2" stroke="#000" stroke-opacity="0.7" stroke-width="0.5"/>
<line x1="640.6" x2="655.4" y1="123.8" y2="123.8" stroke="#000" stroke-opacity="0.7" stroke-width="0.5"/>
<line x1="640.6" x2="655.4" y1="135.4" y2="135.4" stroke="#000" stroke-opacity="0.7" stroke-width="0.5"/>
<line x1="640.6" x2="655.4" y1="147" y2="147" stroke="#000" stroke-opacity="0.7" stroke-width="0.5"/>
<line x1="640.6" x2="655.4" y1="158.6" y2="158.6" stroke="#000" stroke-opacity="0.7" stroke-width="0.5"/>
<line x1="640.6" x2="655.4" y1="170.2" y2="170.2" stroke="#000" stroke-opacity="0.7" stroke-width="0.5"/>
<line x1="640.6" x2="655.4" y1="181.8" y2="181.8" stroke="#000" stroke-opacity="0.7" stroke-width="0.5"/>
<line x1="640.6" x2="655.4" y1="193.4" y2="193.4" stroke="#000" stroke-opacity="0.7" stroke-width="0.5"/>
<rect x="640.6" y="13.5" width="14.8" height="185.4" fill="none" stroke="#555" stroke-opacity="0.6" stroke-width="0.6"/>
<text x="682.5" y="24.4" text-anchor="end" font-size="9.6" font-weight="bold">1.80</text>
<text x="682.5" y="36" text-anchor="end" font-size="9.6" font-weight="bold">1.60</text>
<text x="682.5" y="47.6" text-anchor="end" font-size="9.6" font-weight="bold">1.40</text>
<text x="682.5" y="59.2" text-anchor="end" font-size="9.6" font-weight="bold">1.20</text>
<text x="682.5" y="70.8" text-anchor="end" font-size="9.6" font-weight="bold">1.00</text>
<text x="682.5" y="82.4" text-anchor="end" font-size="9.6" font-weight="bold">0.80</text>
<text x="682.5" y="94" text-anchor="end" font-size="9.6" font-weight="bold">0.60</text>
<text x="682.5" y="105.6" text-anchor="end" font-size="9.6" font-weight="bold">0.40</text>
<text x="682.5" y="117.2" text-anchor="end" font-size="9.6" font-weight="bold">0.20</text>
<text x="682.5" y="128.8" text-anchor="end" font-size="9.6" font-weight="bold">0.00</text>
<text x="682.5" y="140.4" text-anchor="end" font-size="9.6" font-weight="bold">-0.20</text>
<text x="682.5" y="152" text-anchor="end" font-size="9.6" font-weight="bold">-0.40</text>
<text x="682.5" y="163.6" text-anchor="end" font-size="9.6" font-weight="bold">-0.60</text>
<text x="682.5" y="175.2" text-anchor="end" font-size="9.6" font-weight="bold">-0.80</text>
<text x="682.5" y="186.8" text-anchor="end" font-size="9.6" font-weight="bold">-1.00</text>
<text x="682.5" y="198.4" text-anchor="end" font-size="9.6" font-weight="bold">-1.20</text>
<text x="673" y="7.9" text-anchor="middle" font-size="9.6" font-weight="bold">Cp</text>
</g>
<text x="-0.6" y="255.3" font-size="16" font-weight="bold">(c)</text>
<g clip-path="url(#c13)">
<polygon points="108.6,229.4 211,229.4 211,296 108.6,296" fill="#55ff97"/>
<polygon points="123,239 127,231 131,228 137,228 138.6,237 135,244 131,247.6" fill="#68ffff" stroke="#000" stroke-opacity="0.85" stroke-width="0.5" stroke-linejoin="round"/>
<polygon points="154.6,228 154,238 157,246 165,250 172,254 176,260 177,272 176,284 177,297 212,297 212,228" fill="#5aff61" stroke="#000" stroke-opacity="0.85" stroke-width="0.5" stroke-linejoin="round"/>
<polygon points="178.6,228 180,238 185,246 189,256 186,266 183,276 182.6,297 212,297 212,228" fill="#97ff55" stroke="#000" stroke-opacity="0.85" stroke-width="0.5" stroke-linejoin="round"/>
<polygon points="191,267 196,263 202,262 206,268 208,278 208.6,297 186.6,297 188,280" fill="#d6ff5d" stroke="#000" stroke-opacity="0.85" stroke-width="0.5" stroke-linejoin="round"/>
<polygon points="193,272 198,267 203,267 205.4,274 206.6,297 189,297 190,282" fill="#fcff5e" stroke="#000" stroke-opacity="0.85" stroke-width="0.5" stroke-linejoin="round"/>
<polygon points="195,277 199,272 203,272 204.6,280 205,297 191.4,297 192.6,286" fill="#fef25e" stroke="#000" stroke-opacity="0.85" stroke-width="0.5" stroke-linejoin="round"/>
<polygon points="197,282 200.6,277 203,279 203.6,297 194,297 195,288" fill="#ffe45e" stroke="#000" stroke-opacity="0.85" stroke-width="0.5" stroke-linejoin="round"/>
<polygon points="198.6,290 201.4,284 203,289 202.6,297 197,297" fill="#ffd05e" stroke="#000" stroke-opacity="0.85" stroke-width="0.5" stroke-linejoin="round"/>
<polygon points="199.4,294 201.4,290 202.6,297 198.6,297" fill="#ffb15e" stroke="#000" stroke-opacity="0.85" stroke-width="0.5" stroke-linejoin="round"/>
<polygon points="206,228 212,228 212,297 210,297 209.4,282 210,266 207,252 205,238" fill="#5aff61" stroke="#000" stroke-opacity="0.85" stroke-width="0.5" stroke-linejoin="round"/>
<polygon points="209,228 212,228 212,272 210.6,262 209.4,246" fill="#32d73c" stroke="#000" stroke-opacity="0.85" stroke-width="0.5" stroke-linejoin="round"/>
<polygon points="107,228 111,228 111.8,242 114.2,262 115.8,282 116.2,297 107,297" fill="#55ff69" stroke="#000" stroke-opacity="0.85" stroke-width="0.5" stroke-linejoin="round"/>
<polygon points="107,242 109.8,248 112.2,266 113.6,282 114,297 107,297" fill="#71ff50" stroke="#000" stroke-opacity="0.85" stroke-width="0.5" stroke-linejoin="round"/>
<polygon points="107,272 109.6,278 111.2,288 111.6,297 107,297" fill="#bbff5a" stroke="#000" stroke-opacity="0.85" stroke-width="0.5" stroke-linejoin="round"/>
<polygon points="107,282 109,288 109.6,297 107,297" fill="#fcff5e" stroke="#000" stroke-opacity="0.85" stroke-width="0.5" stroke-linejoin="round"/>
<g transform="translate(123 234.4) rotate(-60)"><rect x="-5.5" y="-2.1" width="11.1" height="4.2" fill="#fff"/><text x="0" y="1.4" text-anchor="middle" font-size="4.2" font-weight="bold" fill="#000">-1.89</text></g>
<g transform="translate(202.6 257.4) rotate(80)"><rect x="-5.5" y="-2.1" width="11.1" height="4.2" fill="#fff"/><text x="0" y="1.4" text-anchor="middle" font-size="4.2" font-weight="bold" fill="#000">-1.37</text></g>
<g transform="translate(209.8 255) rotate(88)"><rect x="-5.5" y="-2.1" width="11.1" height="4.2" fill="#fff"/><text x="0" y="1.4" text-anchor="middle" font-size="4.2" font-weight="bold" fill="#000">-1.11</text></g>
</g>
<g clip-path="url(#c14)">
<polygon points="108.2,296 211,296 211,330.1 108.2,330.1" fill="#20fc64"/>
<polygon points="107,295 175,295 180,305 171,310 155,315 135,321 123,325 115,330.6 107,330" fill="#14e828" stroke="#000" stroke-opacity="0.85" stroke-width="0.5" stroke-linejoin="round"/>
<g transform="translate(173 308) rotate(-30)"><rect x="-5.5" y="-2.1" width="11.1" height="4.2" fill="#fff"/><text x="0" y="1.4" text-anchor="middle" font-size="4.2" font-weight="bold" fill="#000">-1.63</text></g>
<g transform="translate(111 298.6) rotate(0)"><rect x="-5.5" y="-2.1" width="11.1" height="4.2" fill="#fff"/><text x="0" y="1.4" text-anchor="middle" font-size="4.2" font-weight="bold" fill="#000">-1.37</text></g>
</g>
<g clip-path="url(#c15)">
<polygon points="108.2,329.4 211,329.4 211,363.6 108.2,363.6" fill="#0acd50"/>
<polygon points="198,328.6 193,334 189,341 183,351 180,357 179,364.6 212,364.6 212,328.6" fill="#05c814" stroke="#000" stroke-opacity="0.85" stroke-width="0.5" stroke-linejoin="round"/>
<g transform="translate(185.4 349.4) rotate(-70)"><rect x="-5.5" y="-2.1" width="11.1" height="4.2" fill="#fff"/><text x="0" y="1.4" text-anchor="middle" font-size="4.2" font-weight="bold" fill="#000">-1.63</text></g>
</g>
<g clip-path="url(#c16)">
<polygon points="108.6,364.4 211,364.4 211,431.6 108.6,431.6" fill="#55ff97"/>
<polygon points="124,386 130,380.4 135,380.4 136,389 129,389.6" fill="#68ffff" stroke="#000" stroke-opacity="0.85" stroke-width="0.5" stroke-linejoin="round"/>
<polygon points="173.4,363 174,374 176,384 179,394 181,410 180.6,433 212,433 212,363" fill="#5aff61" stroke="#000" stroke-opacity="0.85" stroke-width="0.5" stroke-linejoin="round"/>
<polygon points="195.6,364.4 198.6,370 195,380 192.6,390 188.6,402 186,416 185,426 186.6,433 210,433 209,416 207,402 204.6,390 202,374 198,364.4" fill="#97ff55" stroke="#000" stroke-opacity="0.85" stroke-width="0.5" stroke-linejoin="round"/>
<polygon points="194.6,396 199,393 204,397 206,408 208,433 189,433 188.6,418 191,406" fill="#cfff5c" stroke="#000" stroke-opacity="0.85" stroke-width="0.5" stroke-linejoin="round"/>
<polygon points="195,405 199,402.4 203.4,406 205,418 206,433 192,433 192,418" fill="#fcff5e" stroke="#000" stroke-opacity="0.85" stroke-width="0.5" stroke-linejoin="round"/>
<polygon points="196,414 200,410 203,416 204,433 195,433" fill="#fdf65e" stroke="#000" stroke-opacity="0.85" stroke-width="0.5" stroke-linejoin="round"/>
<polygon points="198,422 200.6,419 202,433 197.4,433" fill="#ffec5e" stroke="#000" stroke-opacity="0.85" stroke-width="0.5" stroke-linejoin="round"/>
<polygon points="209.4,363 212,363 212,433 210.6,433 210,410 208.6,390" fill="#53ff6d" stroke="#000" stroke-opacity="0.85" stroke-width="0.5" stroke-linejoin="round"/>
<polygon points="107,363 110,363 111,380 114,400 115.4,416 115.8,433 107,433" fill="#55ff69" stroke="#000" stroke-opacity="0.85" stroke-width="0.5" stroke-linejoin="round"/>
<polygon points="107,390 110.6,400 112.6,416 113,433 107,433" fill="#69ff55" stroke="#000" stroke-opacity="0.85" stroke-width="0.5" stroke-linejoin="round"/>
<polygon points="107,418 110,424 110.6,433 107,433" fill="#bbff5a" stroke="#000" stroke-opacity="0.85" stroke-width="0.5" stroke-linejoin="round"/>
<g transform="translate(136 384.4) rotate(-88)"><rect x="-5.5" y="-2.1" width="11.1" height="4.2" fill="#fff"/><text x="0" y="1.4" text-anchor="middle" font-size="4.2" font-weight="bold" fill="#000">-1.89</text></g>
<g transform="translate(176 387) rotate(75)"><rect x="-5.5" y="-2.1" width="11.1" height="4.2" fill="#fff"/><text x="0" y="1.4" text-anchor="middle" font-size="4.2" font-weight="bold" fill="#000">-1.63</text></g>
<g transform="translate(193.4 381) rotate(-85)"><rect x="-5.5" y="-2.1" width="11.1" height="4.2" fill="#fff"/><text x="0" y="1.4" text-anchor="middle" font-size="4.2" font-weight="bold" fill="#000">-1.37</text></g>
<g transform="translate(198.6 402.4) rotate(-15)"><rect x="-5.5" y="-2.1" width="11.1" height="4.2" fill="#fff"/><text x="0" y="1.4" text-anchor="middle" font-size="4.2" font-weight="bold" fill="#000">-1.11</text></g>
<g transform="translate(199.4 413) rotate(-50)"><rect x="-5.5" y="-2.1" width="11.1" height="4.2" fill="#fff"/><text x="0" y="1.4" text-anchor="middle" font-size="4.2" font-weight="bold" fill="#000">-0.85</text></g>
</g>
<g clip-path="url(#c17)">
<polygon points="23,296.4 92,296.4 108,330 90,362.6 23,362.6" fill="#56ff9e"/>
<polygon points="22,333 35,331.4 51,329.4 65,325 75,318 83,309 90,304 95,302.6 95,295 22,295" fill="#5effd0" stroke="#000" stroke-opacity="0.85" stroke-width="0.5" stroke-linejoin="round"/>
<polygon points="22,321.4 35,319 49,318 59,320 67,318 73,311 75,304 68,300 55,301 45,301.4 35,299.4 22,298" fill="#68ffff" stroke="#000" stroke-opacity="0.85" stroke-width="0.5" stroke-linejoin="round"/>
<polygon points="22,295 75,295 75,297 67,299 55,300 45,300 35,298 22,297" fill="#50ff71" stroke="#000" stroke-opacity="0.85" stroke-width="0.5" stroke-linejoin="round"/>
<polygon points="33,295.4 57,295.4 53,298.2 43,299 35,297.4" fill="#1ebe3c" filter="url(#bl)"/>
<polygon points="109,330 99,328 91,327 83,331 73,338 65,345 58,351 51,352.6 39,348.6 29,345 22,344.6 22,364 109,364" fill="#5cff5c" stroke="#000" stroke-opacity="0.85" stroke-width="0.5" stroke-linejoin="round"/>
<polygon points="22,344.6 29,345 39,348.6 51,352.6 58,351.4 62,357 66,364 22,364" fill="#4bf069" stroke="#000" stroke-opacity="0.85" stroke-width="0.5" stroke-linejoin="round"/>
<polygon points="22,350 31,349.4 39,352 46,356 39,360 31,363.4 22,363.4" fill="#97ff55" stroke="#000" stroke-opacity="0.85" stroke-width="0.5" stroke-linejoin="round"/>
<polygon points="22,352 30,351.4 36,354 40,356.6 35,359.4 22,361" fill="#dcff5e" stroke="#000" stroke-opacity="0.85" stroke-width="0.5" stroke-linejoin="round"/>
<polygon points="39,361.4 55,362 75,360.4 90,363 90,364 39,364" fill="#28d246" filter="url(#bl)"/>
<polyline points="23,310 31,307 35,302 29,300" fill="none" stroke="#000" stroke-opacity="0.85" stroke-width="0.5" stroke-linejoin="round"/>
<polyline points="58,302 62,300.6 63,303.4 59.4,304 58,302" fill="none" stroke="#000" stroke-opacity="0.85" stroke-width="0.5" stroke-linejoin="round"/>
<polyline points="57,352 62,357 66,362.6" fill="none" stroke="#000" stroke-opacity="0.85" stroke-width="0.5" stroke-linejoin="round"/>
<g transform="translate(43 317) rotate(180)"><rect x="-5.5" y="-2.1" width="11.1" height="4.2" fill="#fff"/><text x="0" y="1.4" text-anchor="middle" font-size="4.2" font-weight="bold" fill="#000">-2.15</text></g>
<g transform="translate(61.4 328.4) rotate(0)"><rect x="-5.5" y="-2.1" width="11.1" height="4.2" fill="#fff"/><text x="0" y="1.4" text-anchor="middle" font-size="4.2" font-weight="bold" fill="#000">-1.89</text></g>
<g transform="translate(82.6 333) rotate(150)"><rect x="-5.5" y="-2.1" width="11.1" height="4.2" fill="#fff"/><text x="0" y="1.4" text-anchor="middle" font-size="4.2" font-weight="bold" fill="#000">-1.63</text></g>
<g transform="translate(67.4 358) rotate(170)"><rect x="-5.5" y="-2.1" width="11.1" height="4.2" fill="#fff"/><text x="0" y="1.4" text-anchor="middle" font-size="4.2" font-weight="bold" fill="#000">-1.63</text></g>
<g transform="translate(34 355.4) rotate(20)"><rect x="-5.5" y="-2.1" width="11.1" height="4.2" fill="#fff"/><text x="0" y="1.4" text-anchor="middle" font-size="4.2" font-weight="bold" fill="#000">-1.11</text></g>
<g transform="translate(63 298.6) rotate(20)"><rect x="-5.5" y="-2.1" width="11.1" height="4.2" fill="#fff"/><text x="0" y="1.4" text-anchor="middle" font-size="4.2" font-weight="bold" fill="#000">-1.11</text></g>
<g transform="translate(91 300) rotate(30)"><rect x="-5.5" y="-2.1" width="11.1" height="4.2" fill="#fff"/><text x="0" y="1.4" text-anchor="middle" font-size="4.2" font-weight="bold" fill="#000">-1.89</text></g>
<g transform="translate(82 298) rotate(0)"><rect x="-5.5" y="-2.1" width="11.1" height="4.2" fill="#fff"/><text x="0" y="1.4" text-anchor="middle" font-size="4.2" font-weight="bold" fill="#000">-1.37</text></g>
</g>
<g clip-path="url(#c18)">
<polygon points="211.6,330.6 230.4,298 297.6,298 297.6,364.4 231,364.4" fill="#5cff5c"/>
<polygon points="230.4,296 270,296 260,300 246,299 236,301 228,303" fill="#50ff71" stroke="#000" stroke-opacity="0.85" stroke-width="0.5" stroke-linejoin="round"/>
<polygon points="252,305 260,302 270,299.4 279,297 299,297 299,331.4 284,330.6 270,326 260,320 254,313" fill="#90ff54" stroke="#000" stroke-opacity="0.85" stroke-width="0.5" stroke-linejoin="round"/>
<polygon points="267,307 273,303 280,300.6 288,299.4 299,299.4 299,326.2 288,325 278,321 270,315" fill="#c9ff5c" stroke="#000" stroke-opacity="0.85" stroke-width="0.5" stroke-linejoin="round"/>
<polygon points="273,308 279,304 286,302 299,301.4 299,323 288,321.8 280,318.2 275,313.6" fill="#efff5e" stroke="#000" stroke-opacity="0.85" stroke-width="0.5" stroke-linejoin="round"/>
<polygon points="278,308 284,304.6 291,303 299,302.6 299,320 290,318.6 283,315 279.6,311.6" fill="#fdf95e" stroke="#000" stroke-opacity="0.85" stroke-width="0.5" stroke-linejoin="round"/>
<polygon points="283,308 288,305 299,304 299,317 291,315.6 285.6,312.2" fill="#fef05e" stroke="#000" stroke-opacity="0.85" stroke-width="0.5" stroke-linejoin="round"/>
<polygon points="288,308 293,305.4 299,305 299,314.4 293,313.4 289.4,311" fill="#ffe45e" stroke="#000" stroke-opacity="0.85" stroke-width="0.5" stroke-linejoin="round"/>
<polygon points="232,356.6 240,351 248,345 260,339 270,336 280,337 288,336 299,334 299,365.4 230,365.4" fill="#56ff9e" stroke="#000" stroke-opacity="0.85" stroke-width="0.5" stroke-linejoin="round"/>
<polygon points="253,358 260,351 270,345 278,341 288,340 299,338 299,365.4 260,365.4 254,362" fill="#5effd0" stroke="#000" stroke-opacity="0.85" stroke-width="0.5" stroke-linejoin="round"/>
<polygon points="267,357 274,351 282,347 290,346.6 299,345 299,365.4 276,365.4 270,362" fill="#68ffff" stroke="#000" stroke-opacity="0.85" stroke-width="0.5" stroke-linejoin="round"/>
<polygon points="230,362.4 240,361 250,362.4 260,363.8 260,365.4 230,365.4" fill="#28d746" filter="url(#bl)"/>
<polygon points="223.6,328 228,323 231.6,328" fill="#90ff54" stroke="#000" stroke-opacity="0.85" stroke-width="0.5" stroke-linejoin="round"/>
<polyline points="270,360 280,354 290,352 299,351" fill="none" stroke="#000" stroke-opacity="0.85" stroke-width="0.5" stroke-linejoin="round"/>
<polyline points="288,357 294,354 299,355" fill="none" stroke="#000" stroke-opacity="0.85" stroke-width="0.5" stroke-linejoin="round"/>
<g transform="translate(274.4 302) rotate(-30)"><rect x="-5.5" y="-2.1" width="11.1" height="4.2" fill="#fff"/><text x="0" y="1.4" text-anchor="middle" font-size="4.2" font-weight="bold" fill="#000">-1.11</text></g>
<g transform="translate(229.6 327) rotate(-70)"><rect x="-5.5" y="-2.1" width="11.1" height="4.2" fill="#fff"/><text x="0" y="1.4" text-anchor="middle" font-size="4.2" font-weight="bold" fill="#000">-1.37</text></g>
<g transform="translate(259 340.6) rotate(-25)"><rect x="-5.5" y="-2.1" width="11.1" height="4.2" fill="#fff"/><text x="0" y="1.4" text-anchor="middle" font-size="4.2" font-weight="bold" fill="#000">-1.63</text></g>
<g transform="translate(287 361.6) rotate(-40)"><rect x="-5.5" y="-2.1" width="11.1" height="4.2" fill="#fff"/><text x="0" y="1.4" text-anchor="middle" font-size="4.2" font-weight="bold" fill="#000">-1.89</text></g>
</g>
<g>
<rect x="300.8" y="260.4" width="14" height="6.4" fill="#ff0000"/>
<rect x="300.8" y="266.6" width="14" height="11.2" fill="#ff4900"/>
<rect x="300.8" y="277.6" width="14" height="11.2" fill="#ff9200"/>
<rect x="300.8" y="288.6" width="14" height="11.2" fill="#ffdb00"/>
<rect x="300.8" y="299.6" width="14" height="11.2" fill="#dbff00"/>
<rect x="300.8" y="310.6" width="14" height="11.2" fill="#92ff00"/>
<rect x="300.8" y="321.5" width="14" height="11.2" fill="#49ff00"/>
<rect x="300.8" y="332.5" width="14" height="11.2" fill="#00ff00"/>
<rect x="300.8" y="343.5" width="14" height="11.2" fill="#00ff49"/>
<rect x="300.8" y="354.5" width="14" height="11.2" fill="#00ff92"/>
<rect x="300.8" y="365.5" width="14" height="11.2" fill="#00ffdb"/>
<rect x="300.8" y="376.5" width="14" height="11.2" fill="#00dbff"/>
<rect x="300.8" y="387.5" width="14" height="11.2" fill="#0092ff"/>
<rect x="300.8" y="398.5" width="14" height="11.2" fill="#0049ff"/>
<rect x="300.8" y="409.5" width="14" height="5.4" fill="#0000ff"/>
<line x1="300.8" x2="314.8" y1="266.6" y2="266.6" stroke="#000" stroke-opacity="0.7" stroke-width="0.5"/>
<line x1="300.8" x2="314.8" y1="277.6" y2="277.6" stroke="#000" stroke-opacity="0.7" stroke-width="0.5"/>
<line x1="300.8" x2="314.8" y1="288.6" y2="288.6" stroke="#000" stroke-opacity="0.7" stroke-width="0.5"/>
<line x1="300.8" x2="314.8" y1="299.6" y2="299.6" stroke="#000" stroke-opacity="0.7" stroke-width="0.5"/>
<line x1="300.8" x2="314.8" y1="310.6" y2="310.6" stroke="#000" stroke-opacity="0.7" stroke-width="0.5"/>
<line x1="300.8" x2="314.8" y1="321.5" y2="321.5" stroke="#000" stroke-opacity="0.7" stroke-width="0.5"/>
<line x1="300.8" x2="314.8" y1="332.5" y2="332.5" stroke="#000" stroke-opacity="0.7" stroke-width="0.5"/>
<line x1="300.8" x2="314.8" y1="343.5" y2="343.5" stroke="#000" stroke-opacity="0.7" stroke-width="0.5"/>
<line x1="300.8" x2="314.8" y1="354.5" y2="354.5" stroke="#000" stroke-opacity="0.7" stroke-width="0.5"/>
<line x1="300.8" x2="314.8" y1="365.5" y2="365.5" stroke="#000" stroke-opacity="0.7" stroke-width="0.5"/>
<line x1="300.8" x2="314.8" y1="376.5" y2="376.5" stroke="#000" stroke-opacity="0.7" stroke-width="0.5"/>
<line x1="300.8" x2="314.8" y1="387.5" y2="387.5" stroke="#000" stroke-opacity="0.7" stroke-width="0.5"/>
<line x1="300.8" x2="314.8" y1="398.5" y2="398.5" stroke="#000" stroke-opacity="0.7" stroke-width="0.5"/>
<line x1="300.8" x2="314.8" y1="409.5" y2="409.5" stroke="#000" stroke-opacity="0.7" stroke-width="0.5"/>
<rect x="300.8" y="260.4" width="14" height="154.3" fill="none" stroke="#555" stroke-opacity="0.6" stroke-width="0.6"/>
<text x="340" y="271.4" text-anchor="end" font-size="9.0" font-weight="bold">0.20</text>
<text x="340" y="282.4" text-anchor="end" font-size="9.0" font-weight="bold">-0.06</text>
<text x="340" y="293.4" text-anchor="end" font-size="9.0" font-weight="bold">-0.32</text>
<text x="340" y="304.3" text-anchor="end" font-size="9.0" font-weight="bold">-0.58</text>
<text x="340" y="315.3" text-anchor="end" font-size="9.0" font-weight="bold">-0.85</text>
<text x="340" y="326.3" text-anchor="end" font-size="9.0" font-weight="bold">-1.11</text>
<text x="340" y="337.3" text-anchor="end" font-size="9.0" font-weight="bold">-1.37</text>
<text x="340" y="348.3" text-anchor="end" font-size="9.0" font-weight="bold">-1.63</text>
<text x="340" y="359.3" text-anchor="end" font-size="9.0" font-weight="bold">-1.89</text>
<text x="340" y="370.3" text-anchor="end" font-size="9.0" font-weight="bold">-2.15</text>
<text x="340" y="381.3" text-anchor="end" font-size="9.0" font-weight="bold">-2.42</text>
<text x="340" y="392.3" text-anchor="end" font-size="9.0" font-weight="bold">-2.68</text>
<text x="340" y="403.2" text-anchor="end" font-size="9.0" font-weight="bold">-2.94</text>
<text x="340" y="414.2" text-anchor="end" font-size="9.0" font-weight="bold">-3.20</text>
<text x="331" y="254.2" text-anchor="middle" font-size="9.0" font-weight="bold">Cp</text>
</g>
<text x="341.9" y="255.2" font-size="16" font-weight="normal">(d)</text>
<g clip-path="url(#c19)">
<polygon points="455.6,233 554.6,233 554.6,297.8 455.6,297.8" fill="#bbff5a"/>
<polygon points="454,232 459,237 462,249.4 476,244 490,245 506,248 524,251 540,255 548,260 551,269 552,285 553,299 556,299 556,232" fill="#71ff50" stroke="#000" stroke-opacity="0.85" stroke-width="0.5" stroke-linejoin="round"/>
<polygon points="476,232 486,237 500,240 520,244 536,247 548,251 556,255 556,232" fill="#55ff69" stroke="#000" stroke-opacity="0.85" stroke-width="0.5" stroke-linejoin="round"/>
<polygon points="484,232 500,236 520,239 540,242 556,245 556,232" fill="#52ff80" stroke="#000" stroke-opacity="0.85" stroke-width="0.5" stroke-linejoin="round"/>
<polygon points="486,232 500,234.2 508,233 508,232" fill="#5affbb" stroke="#000" stroke-opacity="0.85" stroke-width="0.5" stroke-linejoin="round"/>
<polygon points="497,259 509,256 524,260 540,264 547,268 549,279 547.6,299 488,299 492,292 500,288 509,282 505,273 500,267" fill="#fcff5e" stroke="#000" stroke-opacity="0.85" stroke-width="0.5" stroke-linejoin="round"/>
<polygon points="454,275 457,277 459,289 460,299 454,299" fill="#e9ff5e" filter="url(#bl)"/>
<polygon points="454,279 456.4,281 457.2,299 454,299" fill="#bed228" filter="url(#bl)"/>
<polygon points="552.4,275 556,273 556,299 553.2,299" fill="#50ff71" stroke="#000" stroke-opacity="0.85" stroke-width="0.5" stroke-linejoin="round"/>
<polyline points="519,297.6 526,293 534,290 539,293 541,297.6" fill="none" stroke="#000" stroke-opacity="0.85" stroke-width="0.5" stroke-linejoin="round"/>
<polyline points="460,283 462,293 465,297.6" fill="none" stroke="#000" stroke-opacity="0.85" stroke-width="0.5" stroke-linejoin="round"/>
<g transform="translate(505 246.6) rotate(10)"><rect x="-4.5" y="-2.1" width="9" height="4.2" fill="#fff"/><text x="0" y="1.4" text-anchor="middle" font-size="4.2" font-weight="bold" fill="#000">0.00</text></g>
<g transform="translate(497.6 264) rotate(75)"><rect x="-4.5" y="-2.1" width="9" height="4.2" fill="#fff"/><text x="0" y="1.4" text-anchor="middle" font-size="4.2" font-weight="bold" fill="#000">0.25</text></g>
<g transform="translate(523 295) rotate(-30)"><rect x="-4.5" y="-2.1" width="9" height="4.2" fill="#fff"/><text x="0" y="1.4" text-anchor="middle" font-size="4.2" font-weight="bold" fill="#000">0.50</text></g>
<g transform="translate(551.6 258) rotate(60)"><rect x="-5.5" y="-2.1" width="11.1" height="4.2" fill="#fff"/><text x="0" y="1.4" text-anchor="middle" font-size="4.2" font-weight="bold" fill="#000">-0.25</text></g>
<g transform="translate(456.4 237.4) rotate(-90)"><rect x="-4.5" y="-2.1" width="9" height="4.2" fill="#fff"/><text x="0" y="1.4" text-anchor="middle" font-size="4.2" font-weight="bold" fill="#000">1.50</text></g>
<g transform="translate(456.4 245) rotate(-90)"><rect x="-4.5" y="-2.1" width="9" height="4.2" fill="#fff"/><text x="0" y="1.4" text-anchor="middle" font-size="4.2" font-weight="bold" fill="#000">1.00</text></g>
<g transform="translate(456.4 253) rotate(-90)"><rect x="-4.5" y="-2.1" width="9" height="4.2" fill="#fff"/><text x="0" y="1.4" text-anchor="middle" font-size="4.2" font-weight="bold" fill="#000">0.75</text></g>
<g transform="translate(456.4 261) rotate(-90)"><rect x="-4.5" y="-2.1" width="9" height="4.2" fill="#fff"/><text x="0" y="1.4" text-anchor="middle" font-size="4.2" font-weight="bold" fill="#000">0.50</text></g>
<g transform="translate(456.4 270) rotate(-90)"><rect x="-4.5" y="-2.1" width="9" height="4.2" fill="#fff"/><text x="0" y="1.4" text-anchor="middle" font-size="4.2" font-weight="bold" fill="#000">0.25</text></g>
</g>
<g clip-path="url(#c20)">
<polygon points="455.6,297.8 554.6,297.8 554.6,331.7 455.6,331.7" fill="#1cff74"/>
<polygon points="488,296 500,304 516,309 528,315 540,315 548,309 556,307 556,296" fill="#2aff33" stroke="#000" stroke-opacity="0.85" stroke-width="0.5" stroke-linejoin="round"/>
<polygon points="520,296 524,305 530,310 536,308 538,302 536,296" fill="#45ff1a" stroke="#000" stroke-opacity="0.85" stroke-width="0.5" stroke-linejoin="round"/>
<polygon points="480,333 478,324 483,315 492,310.6 502,309.4 512,313 522,317.4 534,321 546,323.4 556,323 556,333" fill="#20ffbe" stroke="#000" stroke-opacity="0.85" stroke-width="0.5" stroke-linejoin="round"/>
<polygon points="486,333 485,324 490,317 498,314 506,315 516,319 526,322 538,324.6 552,327 556,327.4 556,333" fill="#27ffff" stroke="#000" stroke-opacity="0.85" stroke-width="0.5" stroke-linejoin="round"/>
<polygon points="491,333 491,325 496,320 504,318.6 514,322 524,324.6 536,326.6 548,328.6 552,333" fill="#22ddff" stroke="#000" stroke-opacity="0.85" stroke-width="0.5" stroke-linejoin="round"/>
<polygon points="497,333 498,326 504,322.6 514,324.6 524,326.6 534,328 544,330 548,333" fill="#1fb1ff" stroke="#000" stroke-opacity="0.85" stroke-width="0.5" stroke-linejoin="round"/>
<polygon points="502,333 506,327 514,326.6 524,328 534,329.4 540,333" fill="#1f7fff" stroke="#000" stroke-opacity="0.85" stroke-width="0.5" stroke-linejoin="round"/>
<polygon points="512,333 518,328.6 526,328.6 532,330.6 534,333" fill="#1f4bff" stroke="#000" stroke-opacity="0.85" stroke-width="0.5" stroke-linejoin="round"/>
<polyline points="456,315 462,319 468,327 470,332" fill="none" stroke="#000" stroke-opacity="0.85" stroke-width="0.5" stroke-linejoin="round"/>
<g transform="translate(496 302) rotate(30)"><rect x="-5.5" y="-2.1" width="11.1" height="4.2" fill="#fff"/><text x="0" y="1.4" text-anchor="middle" font-size="4.2" font-weight="bold" fill="#000">-0.50</text></g>
<g transform="translate(524 310) rotate(45)"><rect x="-5.5" y="-2.1" width="11.1" height="4.2" fill="#fff"/><text x="0" y="1.4" text-anchor="middle" font-size="4.2" font-weight="bold" fill="#000">-0.25</text></g>
<g transform="translate(479 322) rotate(-85)"><rect x="-5.5" y="-2.1" width="11.1" height="4.2" fill="#fff"/><text x="0" y="1.4" text-anchor="middle" font-size="4.2" font-weight="bold" fill="#000">-0.75</text></g>
</g>
<g clip-path="url(#c21)">
<polygon points="455.6,331 554.6,331 554.6,363.7 455.6,363.7" fill="#21db29"/>
<polygon points="454,337.4 480,338.6 500,337.4 516,334 528,330 556,330 556,362 540,360.6 524,358 508,354 490,349 470,346 454,344.6" fill="#38db13" stroke="#000" stroke-opacity="0.85" stroke-width="0.5" stroke-linejoin="round"/>
<polygon points="506,346 516,342 526,337.4 536,334 556,332.6 556,360 540,358.6 526,355 516,351.4" fill="#69db14" stroke="#000" stroke-opacity="0.85" stroke-width="0.5" stroke-linejoin="round"/>
<polygon points="520,346 528,341 537,336.6 556,334 556,358.6 540,356.6 530,353" fill="#99db15" stroke="#000" stroke-opacity="0.85" stroke-width="0.5" stroke-linejoin="round"/>
<polygon points="530,346 533.6,339.4 542,335.4 556,334.2 556,357.4 542,356 534,352" fill="#d7db16" stroke="#000" stroke-opacity="0.85" stroke-width="0.5" stroke-linejoin="round"/>
<polygon points="537.6,346 540.6,340 548,337.4 556,337 556,355.4 548,354.6 541,351.4" fill="#dbc416" stroke="#000" stroke-opacity="0.85" stroke-width="0.5" stroke-linejoin="round"/>
<polygon points="540,346 543,341.4 550,339.4 556,339.4 556,353.4 549,352.6 543,350" fill="#dbac16" stroke="#000" stroke-opacity="0.85" stroke-width="0.5" stroke-linejoin="round"/>
<polygon points="454,348 470,349.4 490,352.6 508,357.4 524,361.4 540,364.6 454,364.6" fill="#13db38" stroke="#000" stroke-opacity="0.85" stroke-width="0.5" stroke-linejoin="round"/>
<polygon points="454,354.6 470,355.4 486,358 500,361 512,364.6 454,364.6" fill="#14db69" stroke="#000" stroke-opacity="0.85" stroke-width="0.5" stroke-linejoin="round"/>
<polygon points="454,358.2 468,358.6 480,360.6 490,363 494,364.6 454,364.6" fill="#17db9a" stroke="#000" stroke-opacity="0.85" stroke-width="0.5" stroke-linejoin="round"/>
<polygon points="454,361 464,361.6 472,362.6 476,364.6 454,364.6" fill="#1cdbcb" stroke="#000" stroke-opacity="0.85" stroke-width="0.5" stroke-linejoin="round"/>
<g transform="translate(483 339.4) rotate(0)"><rect x="-4.5" y="-2.1" width="9" height="4.2" fill="#fff"/><text x="0" y="1.4" text-anchor="middle" font-size="4.2" font-weight="bold" fill="#000">0.00</text></g>
<g transform="translate(508 349.4) rotate(0)"><rect x="-4.5" y="-2.1" width="9" height="4.2" fill="#fff"/><text x="0" y="1.4" text-anchor="middle" font-size="4.2" font-weight="bold" fill="#000">0.25</text></g>
<g transform="translate(515 356) rotate(10)"><rect x="-4.5" y="-2.1" width="9" height="4.2" fill="#fff"/><text x="0" y="1.4" text-anchor="middle" font-size="4.2" font-weight="bold" fill="#000">0.00</text></g>
<g transform="translate(477 357.4) rotate(10)"><rect x="-5.5" y="-2.1" width="11.1" height="4.2" fill="#fff"/><text x="0" y="1.4" text-anchor="middle" font-size="4.2" font-weight="bold" fill="#000">-0.50</text></g>
<g transform="translate(489 361) rotate(5)"><rect x="-5.5" y="-2.1" width="11.1" height="4.2" fill="#fff"/><text x="0" y="1.4" text-anchor="middle" font-size="4.2" font-weight="bold" fill="#000">-0.75</text></g>
<g transform="translate(516 333.4) rotate(-5)"><rect x="-5.5" y="-2.1" width="11.1" height="4.2" fill="#fff"/><text x="0" y="1.4" text-anchor="middle" font-size="4.2" font-weight="bold" fill="#000">-0.25</text></g>
<g transform="translate(461 362) rotate(-10)"><rect x="-5.5" y="-2.1" width="11.1" height="4.2" fill="#fff"/><text x="0" y="1.4" text-anchor="middle" font-size="4.2" font-weight="bold" fill="#000">-0.75</text></g>
</g>
<g clip-path="url(#c22)">
<polygon points="455.2,364 554.4,364 554.4,429 455.2,429" fill="#ffd85e"/>
<polygon points="457,367 470,366.4 500,368 530,366 552,364.4 554,370 555,430 456,430 456.4,390" fill="#ffc45e" stroke="#000" stroke-opacity="0.85" stroke-width="0.5" stroke-linejoin="round"/>
<polygon points="458.4,374 463,369 480,369.6 500,371 520,369 540,366 551,365 553,374 553.6,430 457.6,430 458,390" fill="#ffa95e" stroke="#000" stroke-opacity="0.85" stroke-width="0.5" stroke-linejoin="round"/>
<polygon points="460,386 462,378 468,372.4 480,373 490,373.6 506,371.6 524,369 540,366.4 549,368 550.4,380 549.6,390 551,402 552,414 551,430 465,430 462,420 461,406 462,396" fill="#ff5e5e" stroke="#000" stroke-opacity="0.85" stroke-width="0.5" stroke-linejoin="round"/>
<polygon points="454,363 457,363 456.8,430 454,430" fill="#efff5e" filter="url(#bl)"/>
<polygon points="454,370 456,372 456,430 454,430" fill="#c8be28" filter="url(#bl)"/>
<polygon points="552.6,380 556,380 556,430 552.2,430" fill="#f55a32" filter="url(#bl)"/>
<g transform="translate(466.4 375.6) rotate(-35)"><rect x="-4.5" y="-2.1" width="9" height="4.2" fill="#fff"/><text x="0" y="1.4" text-anchor="middle" font-size="4.2" font-weight="bold" fill="#000">1.50</text></g>
<g transform="translate(459 384) rotate(-60)"><rect x="-4.5" y="-2.1" width="9" height="4.2" fill="#fff"/><text x="0" y="1.4" text-anchor="middle" font-size="4.2" font-weight="bold" fill="#000">1.25</text></g>
<g transform="translate(456 404) rotate(-88)"><rect x="-4.5" y="-2.1" width="9" height="4.2" fill="#fff"/><text x="0" y="1.4" text-anchor="middle" font-size="4.2" font-weight="bold" fill="#000">1.00</text></g>
<g transform="translate(549.6 409) rotate(75)"><rect x="-4.5" y="-2.1" width="9" height="4.2" fill="#fff"/><text x="0" y="1.4" text-anchor="middle" font-size="4.2" font-weight="bold" fill="#000">1.50</text></g>
</g>
<g clip-path="url(#c23)">
<polygon points="366.6,298 436,298 454.4,330.6 436.6,363.4 366.6,363.4" fill="#69ff55"/>
<polygon points="365,321 379,323 395,322 415,320.6 427,322 439,326 452,326.6 452,296 365,296" fill="#50ff71" stroke="#000" stroke-opacity="0.85" stroke-width="0.5" stroke-linejoin="round"/>
<polygon points="365,315 375,317 387,318 399,316 409,313 415,310 421,308 415,305 405,304 397,304 389,301 383,296 365,296" fill="#58ffad" stroke="#000" stroke-opacity="0.85" stroke-width="0.5" stroke-linejoin="round"/>
<polygon points="365,308 373,310 385,310.6 393,307 395,304 387,303.4 383,300 375,299 365,305" fill="#61ffde" stroke="#000" stroke-opacity="0.85" stroke-width="0.5" stroke-linejoin="round"/>
<polygon points="367,307.4 375,309 383,309.4 387,306.6 381,304.6 379,301.4 374,301 367,305" fill="#68ffff" stroke="#000" stroke-opacity="0.85" stroke-width="0.5" stroke-linejoin="round"/>
<polygon points="381,296.6 435,296.6 435,300 425,304 415,301 395,299.4 385,298.6" fill="#28d73c" filter="url(#bl)"/>
<polygon points="365,332 379,332.6 391,334 401,339 413,345 424,349 421,356 431,355 439,352 443,354.6 437,365 365,365" fill="#a6ff57" stroke="#000" stroke-opacity="0.85" stroke-width="0.5" stroke-linejoin="round"/>
<polygon points="365,344 375,343 385,346 395,351 407,357 419,360 438,361 438,365 365,365" fill="#cfff5c" stroke="#000" stroke-opacity="0.85" stroke-width="0.5" stroke-linejoin="round"/>
<polygon points="365,348.6 373,347 381,350 391,355 403,359.4 415,362 435,363 435,365 365,365" fill="#fcff5e" stroke="#000" stroke-opacity="0.85" stroke-width="0.5" stroke-linejoin="round"/>
<polygon points="365,354 375,354 385,357.4 395,360.6 407,363 407,365 365,365" fill="#fdf65e" stroke="#000" stroke-opacity="0.85" stroke-width="0.5" stroke-linejoin="round"/>
<polygon points="365,359.4 379,360.6 391,363 391,365 365,365" fill="#ffec5e" stroke="#000" stroke-opacity="0.85" stroke-width="0.5" stroke-linejoin="round"/>
<g transform="translate(389.4 317) rotate(170)"><rect x="-5.5" y="-2.1" width="11.1" height="4.2" fill="#fff"/><text x="0" y="1.4" text-anchor="middle" font-size="4.2" font-weight="bold" fill="#000">-0.50</text></g>
<g transform="translate(394 322) rotate(175)"><rect x="-5.5" y="-2.1" width="11.1" height="4.2" fill="#fff"/><text x="0" y="1.4" text-anchor="middle" font-size="4.2" font-weight="bold" fill="#000">-0.25</text></g>
<g transform="translate(381 332.4) rotate(180)"><rect x="-4.5" y="-2.1" width="9" height="4.2" fill="#fff"/><text x="0" y="1.4" text-anchor="middle" font-size="4.2" font-weight="bold" fill="#000">0.00</text></g>
<g transform="translate(377.4 354.4) rotate(20)"><rect x="-4.5" y="-2.1" width="9" height="4.2" fill="#fff"/><text x="0" y="1.4" text-anchor="middle" font-size="4.2" font-weight="bold" fill="#000">0.50</text></g>
<g transform="translate(383 360.6) rotate(5)"><rect x="-4.5" y="-2.1" width="9" height="4.2" fill="#fff"/><text x="0" y="1.4" text-anchor="middle" font-size="4.2" font-weight="bold" fill="#000">0.75</text></g>
<g transform="translate(372 302.6) rotate(-35)"><rect x="-5.5" y="-2.1" width="11.1" height="4.2" fill="#fff"/><text x="0" y="1.4" text-anchor="middle" font-size="4.2" font-weight="bold" fill="#000">-0.75</text></g>
<g transform="translate(413 299) rotate(0)"><rect x="-5.5" y="-2.1" width="11.1" height="4.2" fill="#fff"/><text x="0" y="1.4" text-anchor="middle" font-size="4.2" font-weight="bold" fill="#000">-0.50</text></g>
</g>
<g clip-path="url(#c24)">
<polygon points="555,330.6 574.6,298.2 643,298.2 643,363.4 575,363.4" fill="#ffe15e"/>
<polygon points="553,330.6 574.6,296 644,296 644,305 625,304 605,305 591,308.6 581,314 577,322 571,328 564,334 555,333" fill="#fcff5e" stroke="#000" stroke-opacity="0.85" stroke-width="0.5" stroke-linejoin="round"/>
<polygon points="573,296 644,296 644,299.4 605,300 585,301 573,301" fill="#bbff5a" stroke="#000" stroke-opacity="0.85" stroke-width="0.5" stroke-linejoin="round"/>
<polygon points="573,296 597,296 589,299 575,299.4" fill="#5adc3c" filter="url(#bl)"/>
<polygon points="613,327 615,322 625,320.6 635,321.4 644,321 644,340 637,337.4 629,335 619,333 614,330.6" fill="#ffa95e" stroke="#000" stroke-opacity="0.85" stroke-width="0.5" stroke-linejoin="round"/>
<polygon points="572,357 581,352 591,348.6 605,351 615,353 625,352.6 635.4,353 631,360.6 629,365 573,365" fill="#fdf75e" stroke="#000" stroke-opacity="0.85" stroke-width="0.5" stroke-linejoin="round"/>
<polygon points="586,361 595,359.4 605,360.6 609,363.4 611,365 585,365" fill="#ff945e" stroke="#000" stroke-opacity="0.85" stroke-width="0.5" stroke-linejoin="round"/>
<polygon points="590,362.2 604,361.6 606,365 590,365" fill="#eb6e28" filter="url(#bl)"/>
<polygon points="633,362 644,359 644,365 631,365" fill="#f0732d" stroke="#000" stroke-opacity="0.85" stroke-width="0.5" stroke-linejoin="round"/>
<polyline points="643,302 605,302.6 585,304 573,307 567,315 566,325 561,330" fill="none" stroke="#000" stroke-opacity="0.85" stroke-width="0.5" stroke-linejoin="round"/>
<polyline points="611,356.6 615,356 618,357.4 614,358.6 611,356.6" fill="none" stroke="#000" stroke-opacity="0.85" stroke-width="0.5" stroke-linejoin="round"/>
<g transform="translate(610 299.4) rotate(0)"><rect x="-4.5" y="-2.1" width="9" height="4.2" fill="#fff"/><text x="0" y="1.4" text-anchor="middle" font-size="4.2" font-weight="bold" fill="#000">0.50</text></g>
<g transform="translate(622 305.6) rotate(15)"><rect x="-4.5" y="-2.1" width="9" height="4.2" fill="#fff"/><text x="0" y="1.4" text-anchor="middle" font-size="4.2" font-weight="bold" fill="#000">1.00</text></g>
<g transform="translate(617.4 319.4) rotate(0)"><rect x="-4.5" y="-2.1" width="9" height="4.2" fill="#fff"/><text x="0" y="1.4" text-anchor="middle" font-size="4.2" font-weight="bold" fill="#000">1.25</text></g>
<g transform="translate(603 350) rotate(15)"><rect x="-4.5" y="-2.1" width="9" height="4.2" fill="#fff"/><text x="0" y="1.4" text-anchor="middle" font-size="4.2" font-weight="bold" fill="#000">1.00</text></g>
</g>
<g>
<rect x="646.2" y="249.5" width="13" height="5.6" fill="#ff0000"/>
<rect x="646.2" y="254.9" width="13" height="10.9" fill="#ff4400"/>
<rect x="646.2" y="265.6" width="13" height="10.9" fill="#ff8800"/>
<rect x="646.2" y="276.3" width="13" height="10.9" fill="#ffcc00"/>
<rect x="646.2" y="287" width="13" height="10.9" fill="#eeff00"/>
<rect x="646.2" y="297.7" width="13" height="10.9" fill="#aaff00"/>
<rect x="646.2" y="308.3" width="13" height="10.9" fill="#66ff00"/>
<rect x="646.2" y="319" width="13" height="10.9" fill="#22ff00"/>
<rect x="646.2" y="329.7" width="13" height="10.9" fill="#00ff22"/>
<rect x="646.2" y="340.4" width="13" height="10.9" fill="#00ff66"/>
<rect x="646.2" y="351.1" width="13" height="10.9" fill="#00ffaa"/>
<rect x="646.2" y="361.8" width="13" height="10.9" fill="#00ffee"/>
<rect x="646.2" y="372.5" width="13" height="10.9" fill="#00ccff"/>
<rect x="646.2" y="383.2" width="13" height="10.9" fill="#0088ff"/>
<rect x="646.2" y="393.9" width="13" height="10.9" fill="#0044ff"/>
<rect x="646.2" y="404.6" width="13" height="5.1" fill="#0000ff"/>
<line x1="646.2" x2="659.2" y1="254.9" y2="254.9" stroke="#000" stroke-opacity="0.7" stroke-width="0.5"/>
<line x1="646.2" x2="659.2" y1="265.6" y2="265.6" stroke="#000" stroke-opacity="0.7" stroke-width="0.5"/>
<line x1="646.2" x2="659.2" y1="276.3" y2="276.3" stroke="#000" stroke-opacity="0.7" stroke-width="0.5"/>
<line x1="646.2" x2="659.2" y1="287" y2="287" stroke="#000" stroke-opacity="0.7" stroke-width="0.5"/>
<line x1="646.2" x2="659.2" y1="297.7" y2="297.7" stroke="#000" stroke-opacity="0.7" stroke-width="0.5"/>
<line x1="646.2" x2="659.2" y1="308.3" y2="308.3" stroke="#000" stroke-opacity="0.7" stroke-width="0.5"/>
<line x1="646.2" x2="659.2" y1="319" y2="319" stroke="#000" stroke-opacity="0.7" stroke-width="0.5"/>
<line x1="646.2" x2="659.2" y1="329.7" y2="329.7" stroke="#000" stroke-opacity="0.7" stroke-width="0.5"/>
<line x1="646.2" x2="659.2" y1="340.4" y2="340.4" stroke="#000" stroke-opacity="0.7" stroke-width="0.5"/>
<line x1="646.2" x2="659.2" y1="351.1" y2="351.1" stroke="#000" stroke-opacity="0.7" stroke-width="0.5"/>
<line x1="646.2" x2="659.2" y1="361.8" y2="361.8" stroke="#000" stroke-opacity="0.7" stroke-width="0.5"/>
<line x1="646.2" x2="659.2" y1="372.5" y2="372.5" stroke="#000" stroke-opacity="0.7" stroke-width="0.5"/>
<line x1="646.2" x2="659.2" y1="383.2" y2="383.2" stroke="#000" stroke-opacity="0.7" stroke-width="0.5"/>
<line x1="646.2" x2="659.2" y1="393.9" y2="393.9" stroke="#000" stroke-opacity="0.7" stroke-width="0.5"/>
<line x1="646.2" x2="659.2" y1="404.6" y2="404.6" stroke="#000" stroke-opacity="0.7" stroke-width="0.5"/>
<rect x="646.2" y="249.5" width="13" height="160" fill="none" stroke="#555" stroke-opacity="0.6" stroke-width="0.6"/>
<text x="686" y="259.8" text-anchor="end" font-size="9.3" font-weight="bold">1.50</text>
<text x="686" y="270.5" text-anchor="end" font-size="9.3" font-weight="bold">1.25</text>
<text x="686" y="281.1" text-anchor="end" font-size="9.3" font-weight="bold">1.00</text>
<text x="686" y="291.8" text-anchor="end" font-size="9.3" font-weight="bold">0.75</text>
<text x="686" y="302.5" text-anchor="end" font-size="9.3" font-weight="bold">0.50</text>
<text x="686" y="313.2" text-anchor="end" font-size="9.3" font-weight="bold">0.25</text>
<text x="686" y="323.9" text-anchor="end" font-size="9.3" font-weight="bold">0.00</text>
<text x="686" y="334.6" text-anchor="end" font-size="9.3" font-weight="bold">-0.25</text>
<text x="686" y="345.3" text-anchor="end" font-size="9.3" font-weight="bold">-0.50</text>
<text x="686" y="356" text-anchor="end" font-size="9.3" font-weight="bold">-0.75</text>
<text x="686" y="366.7" text-anchor="end" font-size="9.3" font-weight="bold">-1.00</text>
<text x="686" y="377.4" text-anchor="end" font-size="9.3" font-weight="bold">-1.25</text>
<text x="686" y="388" text-anchor="end" font-size="9.3" font-weight="bold">-1.50</text>
<text x="686" y="398.7" text-anchor="end" font-size="9.3" font-weight="bold">-1.75</text>
<text x="686" y="409.4" text-anchor="end" font-size="9.3" font-weight="bold">-2.00</text>
<text x="675.5" y="243.8" text-anchor="middle" font-size="9.3" font-weight="bold">Cp</text>
</g>
<text x="14.3" y="478.7" font-size="16" font-weight="bold">(e)</text>
<g clip-path="url(#c25)">
<polygon points="120.4,470.6 213,470.6 213,531.2 120.4,531.2" fill="#52ff80"/>
<polygon points="164.6,469.6 161,480 157.4,490 158,495 164,500 171,495 180,494 184,502 187,510 188,522 188,532 214,532 214,469.6" fill="#69ff55" stroke="#000" stroke-opacity="0.85" stroke-width="0.5" stroke-linejoin="round"/>
<polygon points="155.4,532 158,520 162,514 169,513.6 174,520 175.4,532" fill="#69ff55" stroke="#000" stroke-opacity="0.85" stroke-width="0.5" stroke-linejoin="round"/>
<polygon points="179.4,469.6 181,477 187,482 192,490 193,502 192,514 191,532 214,532 214,469.6" fill="#9eff56" stroke="#000" stroke-opacity="0.85" stroke-width="0.5" stroke-linejoin="round"/>
<polygon points="202.6,487.6 206,492 208.6,502 210,514 210.6,532 194,532 195.4,516 197.4,502 200,494" fill="#dcff5e" stroke="#000" stroke-opacity="0.85" stroke-width="0.5" stroke-linejoin="round"/>
<polygon points="203,492 206.2,498 208.4,510 209.4,532 195.4,532 196.6,516 199,502" fill="#fcff5e" stroke="#000" stroke-opacity="0.85" stroke-width="0.5" stroke-linejoin="round"/>
<polygon points="203.6,499 206.6,506 208.2,532 197.4,532 198.6,516 201,505" fill="#fdf75e" stroke="#000" stroke-opacity="0.85" stroke-width="0.5" stroke-linejoin="round"/>
<polygon points="204.4,505 206.8,514 207.4,532 199.4,532 200.6,517 202.4,509" fill="#fef05e" stroke="#000" stroke-opacity="0.85" stroke-width="0.5" stroke-linejoin="round"/>
<polygon points="205,512 206.6,520 206.8,532 201.4,532 202.4,520" fill="#ffe65e" stroke="#000" stroke-opacity="0.85" stroke-width="0.5" stroke-linejoin="round"/>
<polygon points="205.6,520 206.4,526 206.4,532 203.4,532 204,524" fill="#ffdb5e" stroke="#000" stroke-opacity="0.85" stroke-width="0.5" stroke-linejoin="round"/>
<polygon points="208,469.6 214,469.6 214,532 211,532 210.6,512 209.4,492" fill="#55ff69" stroke="#000" stroke-opacity="0.85" stroke-width="0.5" stroke-linejoin="round"/>
<polygon points="210.6,469.6 214,469.6 214,502 212,492" fill="#32d73c" filter="url(#bl)"/>
<polygon points="119,469.6 123,469.6 122.6,482 126,492 131,499 126,506 124,518 125,532 119,532" fill="#5aff61" stroke="#000" stroke-opacity="0.85" stroke-width="0.5" stroke-linejoin="round"/>
<polygon points="119,482 122,488 125,496 123.4,508 122,522 119,532" fill="#3cd73c" filter="url(#bl)"/>
<g transform="translate(211.6 482) rotate(-88)"><rect x="-5.5" y="-2.1" width="11.1" height="4.2" fill="#fff"/><text x="0" y="1.4" text-anchor="middle" font-size="4.2" font-weight="bold" fill="#000">-1.16</text></g>
<g transform="translate(211.6 520) rotate(-88)"><rect x="-5.5" y="-2.1" width="11.1" height="4.2" fill="#fff"/><text x="0" y="1.4" text-anchor="middle" font-size="4.2" font-weight="bold" fill="#000">-0.61</text></g>
<g transform="translate(125 525.6) rotate(75)"><rect x="-5.5" y="-2.1" width="11.1" height="4.2" fill="#fff"/><text x="0" y="1.4" text-anchor="middle" font-size="4.2" font-weight="bold" fill="#000">-1.70</text></g>
</g>
<g clip-path="url(#c26)">
<polygon points="121,531.2 212,531.2 212,561.1 121,561.1" fill="#23de19"/>
<polygon points="120,530.4 151,530.4 145,538 135,544 125,548 120,547" fill="#5ade0a" stroke="#000" stroke-opacity="0.85" stroke-width="0.5" stroke-linejoin="round"/>
<polygon points="182,530.4 189,536 193,542 190,547 181,551 177,556 176,562 213,562 213,530.4" fill="#0adc2d" stroke="#000" stroke-opacity="0.85" stroke-width="0.5" stroke-linejoin="round"/>
<g transform="translate(146 536.4) rotate(-40)"><rect x="-5.5" y="-2.1" width="11.1" height="4.2" fill="#fff"/><text x="0" y="1.4" text-anchor="middle" font-size="4.2" font-weight="bold" fill="#000">-1.43</text></g>
</g>
<g clip-path="url(#c27)">
<polygon points="121,560.4 212,560.4 212,591 121,591" fill="#00a823"/>
<polygon points="177,559.6 176,568 173,578 169,592 213,592 213,559.6" fill="#1ea50a" stroke="#000" stroke-opacity="0.85" stroke-width="0.5" stroke-linejoin="round"/>
<polygon points="213,566.4 205,570 199,578 195,586 194,592 213,592" fill="#4ba005" stroke="#000" stroke-opacity="0.85" stroke-width="0.5" stroke-linejoin="round"/>
<polyline points="157.4,560.4 161,562.4 167,562 169.4,560.4" fill="none" stroke="#000" stroke-opacity="0.85" stroke-width="0.5" stroke-linejoin="round"/>
<g transform="translate(171 584) rotate(-70)"><rect x="-5.5" y="-2.1" width="11.1" height="4.2" fill="#fff"/><text x="0" y="1.4" text-anchor="middle" font-size="4.2" font-weight="bold" fill="#000">-1.70</text></g>
<g transform="translate(199.4 576.4) rotate(-65)"><rect x="-5.5" y="-2.1" width="11.1" height="4.2" fill="#fff"/><text x="0" y="1.4" text-anchor="middle" font-size="4.2" font-weight="bold" fill="#000">-1.43</text></g>
</g>
<g clip-path="url(#c28)">
<polygon points="121,591 211.4,591 211.4,650.6 121,650.6" fill="#52ff80"/>
<polygon points="125,604 130,596 135,590 150,590 150.6,600 148,612 143,620 136,625 130,616 126,610" fill="#5affbb" stroke="#000" stroke-opacity="0.85" stroke-width="0.5" stroke-linejoin="round"/>
<polygon points="124,651.6 128,645 131,644 135,641 138.6,645 138,651.6" fill="#5affbb" stroke="#000" stroke-opacity="0.85" stroke-width="0.5" stroke-linejoin="round"/>
<polygon points="170.6,590 172,602 174,612 181,617 186,620 188,632 190,642 191,651.6 213,651.6 213,590" fill="#69ff55" stroke="#000" stroke-opacity="0.85" stroke-width="0.5" stroke-linejoin="round"/>
<polygon points="163,651.6 166,647 173,651.6" fill="#69ff55" stroke="#000" stroke-opacity="0.85" stroke-width="0.5" stroke-linejoin="round"/>
<polygon points="191.4,590 193,600 195,610 194.6,620 193,632 192.6,642 193,651.6 210,651.6 209,630 208,616 205,604 208,591 208,590" fill="#9eff56" stroke="#000" stroke-opacity="0.85" stroke-width="0.5" stroke-linejoin="round"/>
<polygon points="203,616 206,621 208,630 209.4,640 210,651.6 196,651.6 196.6,640 197.4,630 200,622" fill="#e9ff5e" stroke="#000" stroke-opacity="0.85" stroke-width="0.5" stroke-linejoin="round"/>
<polygon points="203,629 206,634 207.4,644 208,651.6 199,651.6 199.4,642 201,634" fill="#fcfb5e" stroke="#000" stroke-opacity="0.85" stroke-width="0.5" stroke-linejoin="round"/>
<polygon points="208,590 213,590 213,651.6 210.6,651.6 209.8,630 208.6,616 205.6,604" fill="#57ff65" stroke="#000" stroke-opacity="0.85" stroke-width="0.5" stroke-linejoin="round"/>
<polygon points="120,608 123,614 125,626 124.6,638 122,648 120,651.6" fill="#5cff5c" stroke="#000" stroke-opacity="0.85" stroke-width="0.5" stroke-linejoin="round"/>
<polygon points="120,620 122.6,628 122.6,640 120,648" fill="#3cd73c" filter="url(#bl)"/>
<polyline points="203,651.6 203.4,640 204.6,636 206,640 206.6,651.6" fill="none" stroke="#000" stroke-opacity="0.85" stroke-width="0.5" stroke-linejoin="round"/>
<polyline points="200.6,651.6 202,644 204.6,640 207,646" fill="none" stroke="#000" stroke-opacity="0.85" stroke-width="0.5" stroke-linejoin="round"/>
<g transform="translate(126.6 604) rotate(-55)"><rect x="-5.5" y="-2.1" width="11.1" height="4.2" fill="#fff"/><text x="0" y="1.4" text-anchor="middle" font-size="4.2" font-weight="bold" fill="#000">-1.97</text></g>
</g>
<g clip-path="url(#c29)">
<polygon points="38,530 94,530 121,560.6 94,591.4 38,591.4" fill="#71ff50"/>
<polygon points="37,563 57,564 71,562 78,557 82,549 89,546 105,548 114,552.6 114,529 37,529" fill="#51ff79" stroke="#000" stroke-opacity="0.85" stroke-width="0.5" stroke-linejoin="round"/>
<polygon points="37,558.6 49,559.4 61,558 71,554 76,547 80,540 85,536 91,534 94,531 94,529 37,529" fill="#58ffad" stroke="#000" stroke-opacity="0.85" stroke-width="0.5" stroke-linejoin="round"/>
<polygon points="37,556 49,556.6 59,555 67,551 72,545 75,539 81,535 83,532 75,530.6 37,530" fill="#5fffd7" stroke="#000" stroke-opacity="0.85" stroke-width="0.5" stroke-linejoin="round"/>
<polygon points="37,553 45,554 55,553 63,549 67,543 65,537 59,533.4 49,532 37,533" fill="#68ffff" stroke="#000" stroke-opacity="0.85" stroke-width="0.5" stroke-linejoin="round"/>
<polygon points="66,535 69,533 76,533.4 78,536 73,538 68,538" fill="#68ffff" stroke="#000" stroke-opacity="0.85" stroke-width="0.5" stroke-linejoin="round"/>
<polygon points="75,529.4 94,529.4 94,534 87,535 81,533" fill="#32c83c" filter="url(#bl)"/>
<polygon points="37,565 47,564 59,566.6 71,570 79,575 80.6,582 75,586.6 65,589.4 49,590.6 37,591" fill="#97ff55" stroke="#000" stroke-opacity="0.85" stroke-width="0.5" stroke-linejoin="round"/>
<polygon points="37,566.6 47,566 57,568.6 67,573 71,579 68,585 59,588 37,589" fill="#c9ff5c" stroke="#000" stroke-opacity="0.85" stroke-width="0.5" stroke-linejoin="round"/>
<polygon points="37,568 47,568 55,570.6 63,575 66.6,581 64,585.4 55,587 37,587.4" fill="#f6ff5e" stroke="#000" stroke-opacity="0.85" stroke-width="0.5" stroke-linejoin="round"/>
<polygon points="37,573 45,572 52,574 57,579 55,584 45,585.4 37,585" fill="#fcfb5e" stroke="#000" stroke-opacity="0.85" stroke-width="0.5" stroke-linejoin="round"/>
<polygon points="45,590.4 65,591 85,589.4 94,591.8 45,592.6" fill="#28c832" filter="url(#bl)"/>
<polyline points="38,550 45,552 52,552 55,547 52,539 46,535 38,534" fill="none" stroke="#000" stroke-opacity="0.85" stroke-width="0.5" stroke-linejoin="round"/>
<g transform="translate(82 552) rotate(-70)"><rect x="-5.5" y="-2.1" width="11.1" height="4.2" fill="#fff"/><text x="0" y="1.4" text-anchor="middle" font-size="4.2" font-weight="bold" fill="#000">-1.70</text></g>
<g transform="translate(54.6 574.6) rotate(40)"><rect x="-5.5" y="-2.1" width="11.1" height="4.2" fill="#fff"/><text x="0" y="1.4" text-anchor="middle" font-size="4.2" font-weight="bold" fill="#000">-0.89</text></g>
<g transform="translate(50 581) rotate(-85)"><rect x="-5.5" y="-2.1" width="11.1" height="4.2" fill="#fff"/><text x="0" y="1.4" text-anchor="middle" font-size="4.2" font-weight="bold" fill="#000">-0.61</text></g>
<g transform="translate(42 589.4) rotate(-30)"><rect x="-5.5" y="-2.1" width="11.1" height="4.2" fill="#fff"/><text x="0" y="1.4" text-anchor="middle" font-size="4.2" font-weight="bold" fill="#000">-1.43</text></g>
<g transform="translate(42 530.4) rotate(0)"><rect x="-5.5" y="-2.1" width="11.1" height="4.2" fill="#fff"/><text x="0" y="1.4" text-anchor="middle" font-size="4.2" font-weight="bold" fill="#000">-2.24</text></g>
</g>
<g clip-path="url(#c30)">
<polygon points="213.6,562.4 239.4,534.4 291.6,534.4 291.6,591 239.4,591" fill="#71ff50"/>
<polygon points="231,557 233,547 240,539 250,537 260,538 266,535 272,533.4 293,533.4 293,564 280,563 266,562 250,562.6 232,562" fill="#bbff5a" stroke="#000" stroke-opacity="0.85" stroke-width="0.5" stroke-linejoin="round"/>
<polygon points="259,545 260,539 266,536 273,534.6 293,534.6 293,560 284,559 274,556 264,552" fill="#e9ff5e" stroke="#000" stroke-opacity="0.85" stroke-width="0.5" stroke-linejoin="round"/>
<polygon points="269,545 271,539 277,536.6 293,536 293,557 284,556 276,553 271,549" fill="#fcfd5e" stroke="#000" stroke-opacity="0.85" stroke-width="0.5" stroke-linejoin="round"/>
<polygon points="275.6,545 278,539.4 284,537.4 293,537.4 293,554.6 286,553.4 280,550.6 277,548" fill="#fdf65e" stroke="#000" stroke-opacity="0.85" stroke-width="0.5" stroke-linejoin="round"/>
<polygon points="281,544.6 284,540 293,539 293,552 287,551 283,548" fill="#ffec5e" stroke="#000" stroke-opacity="0.85" stroke-width="0.5" stroke-linejoin="round"/>
<polygon points="285.6,543 289,540 293,540 293,550 289,549" fill="#ffde5e" stroke="#000" stroke-opacity="0.85" stroke-width="0.5" stroke-linejoin="round"/>
<polygon points="242,584 248,578 256,577.4 264,575 270,571 280,567.4 288,566 293,565 293,592 250,592 245,588" fill="#50ff71" stroke="#000" stroke-opacity="0.85" stroke-width="0.5" stroke-linejoin="round"/>
<polygon points="260,584 268,580 274,577 279,573 286,570 293,569 293,592 260,592 256,587" fill="#57ffa6" stroke="#000" stroke-opacity="0.85" stroke-width="0.5" stroke-linejoin="round"/>
<polygon points="278,581 282,575 288,572 293,571.4 293,592 280,592 279,585" fill="#5effd0" stroke="#000" stroke-opacity="0.85" stroke-width="0.5" stroke-linejoin="round"/>
<polygon points="283,581 287,576 293,574 293,587 286,586" fill="#68ffff" stroke="#000" stroke-opacity="0.85" stroke-width="0.5" stroke-linejoin="round"/>
<polygon points="239.4,589.8 260,591 280,589.8 291.6,588.4 291.6,592.6 239.4,592.6" fill="#1eaa32" filter="url(#bl)"/>
<polygon points="238,533.4 266,533.4 260,535.8 244,536.6" fill="#46e146" filter="url(#bl)"/>
<polyline points="254,586 260,584 268,583 274,580 279,578.6" fill="none" stroke="#000" stroke-opacity="0.85" stroke-width="0.5" stroke-linejoin="round"/>
<g transform="translate(258.4 543) rotate(-88)"><rect x="-5.5" y="-2.1" width="11.1" height="4.2" fill="#fff"/><text x="0" y="1.4" text-anchor="middle" font-size="4.2" font-weight="bold" fill="#000">-1.16</text></g>
<g transform="translate(273.6 588) rotate(10)"><rect x="-5.5" y="-2.1" width="11.1" height="4.2" fill="#fff"/><text x="0" y="1.4" text-anchor="middle" font-size="4.2" font-weight="bold" fill="#000">-1.97</text></g>
</g>
<g>
<rect x="295.4" y="487.1" width="14.4" height="6.3" fill="#ff0000"/>
<rect x="295.4" y="493.2" width="14.4" height="11.3" fill="#ff4400"/>
<rect x="295.4" y="504.3" width="14.4" height="11.3" fill="#ff8800"/>
<rect x="295.4" y="515.4" width="14.4" height="11.3" fill="#ffcc00"/>
<rect x="295.4" y="526.5" width="14.4" height="11.3" fill="#eeff00"/>
<rect x="295.4" y="537.6" width="14.4" height="11.3" fill="#aaff00"/>
<rect x="295.4" y="548.7" width="14.4" height="11.3" fill="#66ff00"/>
<rect x="295.4" y="559.8" width="14.4" height="11.3" fill="#22ff00"/>
<rect x="295.4" y="570.9" width="14.4" height="11.3" fill="#00ff22"/>
<rect x="295.4" y="582" width="14.4" height="11.3" fill="#00ff66"/>
<rect x="295.4" y="593.1" width="14.4" height="11.3" fill="#00ffaa"/>
<rect x="295.4" y="604.2" width="14.4" height="11.3" fill="#00ffee"/>
<rect x="295.4" y="615.3" width="14.4" height="11.3" fill="#00ccff"/>
<rect x="295.4" y="626.4" width="14.4" height="11.3" fill="#0088ff"/>
<rect x="295.4" y="637.5" width="14.4" height="11.3" fill="#0044ff"/>
<rect x="295.4" y="648.6" width="14.4" height="5.5" fill="#0000ff"/>
<line x1="295.4" x2="309.8" y1="493.2" y2="493.2" stroke="#000" stroke-opacity="0.7" stroke-width="0.5"/>
<line x1="295.4" x2="309.8" y1="504.3" y2="504.3" stroke="#000" stroke-opacity="0.7" stroke-width="0.5"/>
<line x1="295.4" x2="309.8" y1="515.4" y2="515.4" stroke="#000" stroke-opacity="0.7" stroke-width="0.5"/>
<line x1="295.4" x2="309.8" y1="526.5" y2="526.5" stroke="#000" stroke-opacity="0.7" stroke-width="0.5"/>
<line x1="295.4" x2="309.8" y1="537.6" y2="537.6" stroke="#000" stroke-opacity="0.7" stroke-width="0.5"/>
<line x1="295.4" x2="309.8" y1="548.7" y2="548.7" stroke="#000" stroke-opacity="0.7" stroke-width="0.5"/>
<line x1="295.4" x2="309.8" y1="559.8" y2="559.8" stroke="#000" stroke-opacity="0.7" stroke-width="0.5"/>
<line x1="295.4" x2="309.8" y1="570.9" y2="570.9" stroke="#000" stroke-opacity="0.7" stroke-width="0.5"/>
<line x1="295.4" x2="309.8" y1="582" y2="582" stroke="#000" stroke-opacity="0.7" stroke-width="0.5"/>
<line x1="295.4" x2="309.8" y1="593.1" y2="593.1" stroke="#000" stroke-opacity="0.7" stroke-width="0.5"/>
<line x1="295.4" x2="309.8" y1="604.2" y2="604.2" stroke="#000" stroke-opacity="0.7" stroke-width="0.5"/>
<line x1="295.4" x2="309.8" y1="615.3" y2="615.3" stroke="#000" stroke-opacity="0.7" stroke-width="0.5"/>
<line x1="295.4" x2="309.8" y1="626.4" y2="626.4" stroke="#000" stroke-opacity="0.7" stroke-width="0.5"/>
<line x1="295.4" x2="309.8" y1="637.5" y2="637.5" stroke="#000" stroke-opacity="0.7" stroke-width="0.5"/>
<line x1="295.4" x2="309.8" y1="648.6" y2="648.6" stroke="#000" stroke-opacity="0.7" stroke-width="0.5"/>
<rect x="295.4" y="487.1" width="14.4" height="166.8" fill="none" stroke="#555" stroke-opacity="0.6" stroke-width="0.6"/>
<text x="335.7" y="498.1" text-anchor="end" font-size="9.3" font-weight="bold">0.20</text>
<text x="335.7" y="509.2" text-anchor="end" font-size="9.3" font-weight="bold">-0.07</text>
<text x="335.7" y="520.3" text-anchor="end" font-size="9.3" font-weight="bold">-0.34</text>
<text x="335.7" y="531.4" text-anchor="end" font-size="9.3" font-weight="bold">-0.61</text>
<text x="335.7" y="542.5" text-anchor="end" font-size="9.3" font-weight="bold">-0.89</text>
<text x="335.7" y="553.6" text-anchor="end" font-size="9.3" font-weight="bold">-1.16</text>
<text x="335.7" y="564.7" text-anchor="end" font-size="9.3" font-weight="bold">-1.43</text>
<text x="335.7" y="575.8" text-anchor="end" font-size="9.3" font-weight="bold">-1.70</text>
<text x="335.7" y="586.9" text-anchor="end" font-size="9.3" font-weight="bold">-1.97</text>
<text x="335.7" y="598" text-anchor="end" font-size="9.3" font-weight="bold">-2.24</text>
<text x="335.7" y="609.1" text-anchor="end" font-size="9.3" font-weight="bold">-2.51</text>
<text x="335.7" y="620.2" text-anchor="end" font-size="9.3" font-weight="bold">-2.79</text>
<text x="335.7" y="631.3" text-anchor="end" font-size="9.3" font-weight="bold">-3.06</text>
<text x="335.7" y="642.4" text-anchor="end" font-size="9.3" font-weight="bold">-3.33</text>
<text x="335.7" y="653.5" text-anchor="end" font-size="9.3" font-weight="bold">-3.60</text>
<text x="326" y="481.6" text-anchor="middle" font-size="9.3" font-weight="bold">Cp</text>
</g>
<text x="337.3" y="478.7" font-size="16" font-weight="normal">(f)</text>
<g clip-path="url(#c31)">
<polygon points="442.6,479 530.4,479 530.4,536.2 442.6,536.2" fill="#69ff55"/>
<polygon points="446,478 449,490 448,500 446,510 451,522 461,527 473,530 485,526 495,523 502,518 500,508 493,500 485,492 479,484 477.4,478" fill="#53ff6d" stroke="#000" stroke-opacity="0.85" stroke-width="0.5" stroke-linejoin="round"/>
<polygon points="450,478 451,488 449,496 457,501 465,506 475,512 485,515 489.4,508 483,503 476,496 471,488 468,478" fill="#57ffa6" stroke="#000" stroke-opacity="0.85" stroke-width="0.5" stroke-linejoin="round"/>
<polygon points="532,484 515,483 503,484.4 496,488 495,493 499,500 505,510 509,522 511,537 532,537" fill="#a6ff57" stroke="#000" stroke-opacity="0.85" stroke-width="0.5" stroke-linejoin="round"/>
<polygon points="532,497 523,494 513,495.6 512,502 517,512 521,522 523,537 532,537" fill="#dcff5e" stroke="#000" stroke-opacity="0.85" stroke-width="0.5" stroke-linejoin="round"/>
<polygon points="529,500 532,500 532,537 527,537 528,520" fill="#e9ff5e" filter="url(#bl)"/>
<polygon points="441,478 445,478 446,490 445,510 444,537 441,537" fill="#55ff69" stroke="#000" stroke-opacity="0.85" stroke-width="0.5" stroke-linejoin="round"/>
<polygon points="441,490 444,494 443.4,520 441,530" fill="#32d23c" filter="url(#bl)"/>
<polygon points="441,478 532,478 532,480.4 485,480 441,480.8" fill="#46e146" filter="url(#bl)"/>
<g transform="translate(490.6 499) rotate(60)"><rect x="-4.5" y="-2.1" width="9" height="4.2" fill="#fff"/><text x="0" y="1.4" text-anchor="middle" font-size="4.2" font-weight="bold" fill="#000">0.20</text></g>
<g transform="translate(469.4 509) rotate(40)"><rect x="-4.5" y="-2.1" width="9" height="4.2" fill="#fff"/><text x="0" y="1.4" text-anchor="middle" font-size="4.2" font-weight="bold" fill="#000">0.00</text></g>
<g transform="translate(445 484) rotate(60)"><rect x="-4.5" y="-2.1" width="9" height="4.2" fill="#fff"/><text x="0" y="1.4" text-anchor="middle" font-size="4.2" font-weight="bold" fill="#000">0.20</text></g>
<g transform="translate(444 521) rotate(-88)"><rect x="-4.5" y="-2.1" width="9" height="4.2" fill="#fff"/><text x="0" y="1.4" text-anchor="middle" font-size="4.2" font-weight="bold" fill="#000">0.40</text></g>
<g transform="translate(497.4 534) rotate(-50)"><rect x="-4.5" y="-2.1" width="9" height="4.2" fill="#fff"/><text x="0" y="1.4" text-anchor="middle" font-size="4.2" font-weight="bold" fill="#000">0.40</text></g>
</g>
<g clip-path="url(#c32)">
<polygon points="442.4,536.2 530.4,536.2 530.4,566.2 442.4,566.2" fill="#17e630"/>
<polygon points="444.6,542.6 449.8,540.2 461.8,541.6 474.8,544.2 488,545.4 497.2,542.8 500.4,534.6 534,534.6 534,567.6 451.8,567.6 448,557.6 444,549.8" fill="#10e65b" stroke="#000" stroke-opacity="0.85" stroke-width="0.5" stroke-linejoin="round"/>
<polygon points="451.2,545.2 456.4,543.2 468.2,544.6 481.4,547.2 494.6,547.8 503.8,543.8 511.6,534.6 534,534.6 534,567.6 461.8,567.6 456.4,558.4 451.8,552.4" fill="#11e686" stroke="#000" stroke-opacity="0.85" stroke-width="0.5" stroke-linejoin="round"/>
<polygon points="459.8,550.4 463,548.4 474.8,548.4 488,549.8 498.6,548.4 507.8,549.2 515.6,551.8 523.4,555.8 534,551.8 534,567.6 476.2,567.6 468.2,559.6 461.8,555.8" fill="#17e6c3" stroke="#000" stroke-opacity="0.85" stroke-width="0.5" stroke-linejoin="round"/>
<polygon points="480.2,557 485.4,553 494.6,552.4 503.8,553.8 513,555.8 520.8,557.6 534,558.4 534,567.6 486.6,567.6" fill="#17d0e6" stroke="#000" stroke-opacity="0.85" stroke-width="0.5" stroke-linejoin="round"/>
<polygon points="490,557.6 494.6,555.8 502.4,555.8 510.4,557.6 518.2,559.6 534,560.4 534,567.6 494.6,567.6" fill="#129ce6" stroke="#000" stroke-opacity="0.85" stroke-width="0.5" stroke-linejoin="round"/>
<polygon points="498.6,559 500.4,557 507.8,557.6 510.4,560.4 520.8,562.2 534,563 534,567.6 499.8,567.6" fill="#125fe6" stroke="#000" stroke-opacity="0.85" stroke-width="0.5" stroke-linejoin="round"/>
<polygon points="515.6,564.2 523.4,563 534,563.6 534,567.6 516.8,567.6" fill="#122fe6" stroke="#000" stroke-opacity="0.85" stroke-width="0.5" stroke-linejoin="round"/>
<g transform="translate(459.4 538) rotate(20)"><rect x="-4.5" y="-2.1" width="9" height="4.2" fill="#fff"/><text x="0" y="1.4" text-anchor="middle" font-size="4.2" font-weight="bold" fill="#000">0.00</text></g>
<g transform="translate(462 564) rotate(55)"><rect x="-5.5" y="-2.1" width="11.1" height="4.2" fill="#fff"/><text x="0" y="1.4" text-anchor="middle" font-size="4.2" font-weight="bold" fill="#000">-0.20</text></g>
<g transform="translate(502.6 550) rotate(0)"><rect x="-5.5" y="-2.1" width="11.1" height="4.2" fill="#fff"/><text x="0" y="1.4" text-anchor="middle" font-size="4.2" font-weight="bold" fill="#000">-0.80</text></g>
</g>
<g clip-path="url(#c33)">
<polygon points="442.4,565.6 530.4,565.6 530.4,595 442.4,595" fill="#4ead06"/>
<polygon points="441,565 485,565 485,567.4 465,568.6 449,570.6 441,573" fill="#1e960a" filter="url(#bl)"/>
<polygon points="441,575 455,571 475,569.8 505,568.8 532,568.6 532,594.6 505,594.2 475,593.8 455,593 447,588.6 443.4,582" fill="#76ad07" stroke="#000" stroke-opacity="0.85" stroke-width="0.5" stroke-linejoin="round"/>
<polygon points="447,583 451,577.4 461,574 485,572 515,570.6 532,570.2 532,594.2 515,593.6 485,592.8 461,591.2 451,588.6" fill="#a4ad07" stroke="#000" stroke-opacity="0.85" stroke-width="0.5" stroke-linejoin="round"/>
<polygon points="458,584 465,578.6 481,575.4 505,573 532,572 532,593.2 505,592.2 481,590.8 465,588.8" fill="#aca207" stroke="#000" stroke-opacity="0.85" stroke-width="0.5" stroke-linejoin="round"/>
<polygon points="472,584.6 483,579 501,576 521,573.6 532,573 532,592.2 521,591.8 501,590.8 483,588.8" fill="#ad8e07" stroke="#000" stroke-opacity="0.85" stroke-width="0.5" stroke-linejoin="round"/>
<polygon points="487,585 497,581 509,578 521,576 532,575 532,591.2 521,590.8 509,589.6 497,588.2" fill="#ad7807" stroke="#000" stroke-opacity="0.85" stroke-width="0.5" stroke-linejoin="round"/>
<polygon points="513,585 521,582 532,580.6 532,589.2 521,588.2" fill="#ad5c07" stroke="#000" stroke-opacity="0.85" stroke-width="0.5" stroke-linejoin="round"/>
<polygon points="518.6,585 524,583.2 532,582.6 532,587.6 524,587" fill="#ad4907" stroke="#000" stroke-opacity="0.85" stroke-width="0.5" stroke-linejoin="round"/>
<g transform="translate(470.6 572.6) rotate(0)"><rect x="-4.5" y="-2.1" width="9" height="4.2" fill="#fff"/><text x="0" y="1.4" text-anchor="middle" font-size="4.2" font-weight="bold" fill="#000">0.80</text></g>
<g transform="translate(506 568.6) rotate(0)"><rect x="-4.5" y="-2.1" width="9" height="4.2" fill="#fff"/><text x="0" y="1.4" text-anchor="middle" font-size="4.2" font-weight="bold" fill="#000">0.60</text></g>
<g transform="translate(524.6 571) rotate(0)"><rect x="-4.5" y="-2.1" width="9" height="4.2" fill="#fff"/><text x="0" y="1.4" text-anchor="middle" font-size="4.2" font-weight="bold" fill="#000">1.00</text></g>
<g transform="translate(507 578) rotate(-25)"><rect x="-4.5" y="-2.1" width="9" height="4.2" fill="#fff"/><text x="0" y="1.4" text-anchor="middle" font-size="4.2" font-weight="bold" fill="#000">1.20</text></g>
<g transform="translate(445 593) rotate(-30)"><rect x="-4.5" y="-2.1" width="9" height="4.2" fill="#fff"/><text x="0" y="1.4" text-anchor="middle" font-size="4.2" font-weight="bold" fill="#000">0.40</text></g>
</g>
<g clip-path="url(#c34)">
<polygon points="442.4,595 530,595 530,654 442.4,654" fill="#efff5e"/>
<polygon points="446,595 455,594 485,593.4 530,593 531,655 445,655 445.6,625" fill="#ffec5e" stroke="#000" stroke-opacity="0.85" stroke-width="0.5" stroke-linejoin="round"/>
<polygon points="448,597.4 457,595.8 485,595 515,594.4 527,593.8 529,605 529.4,655 448.6,655 447.4,625" fill="#ffd05e" stroke="#000" stroke-opacity="0.85" stroke-width="0.5" stroke-linejoin="round"/>
<polygon points="450,604 457,599.4 475,598.6 495,598 515,597 525,597.4 527.4,609 528.6,635 528,655 455,655 453,645 450.6,625" fill="#ff9e5e" stroke="#000" stroke-opacity="0.85" stroke-width="0.5" stroke-linejoin="round"/>
<polygon points="459,610 465,607 481,604 495,603 511,600 521,601 524,611 525.4,625 524.6,641 524,655 468,655 466,645 462,635 458,621" fill="#ff5e5e" stroke="#000" stroke-opacity="0.85" stroke-width="0.5" stroke-linejoin="round"/>
<polygon points="527.4,597 531,596 531,655 527.4,655 528.2,625" fill="#e18228" filter="url(#bl)"/>
<polygon points="441,594 443.4,594 443.4,655 441,655" fill="#c8c828" filter="url(#bl)"/>
<g transform="translate(512 601) rotate(-30)"><rect x="-4.7" y="-2.2" width="9.4" height="4.4" fill="#fff"/><text x="0" y="1.5" text-anchor="middle" font-size="4.4" font-weight="bold" fill="#000">1.80</text></g>
<g transform="translate(450 622) rotate(80)"><rect x="-4.5" y="-2.1" width="9" height="4.2" fill="#fff"/><text x="0" y="1.4" text-anchor="middle" font-size="4.2" font-weight="bold" fill="#000">1.60</text></g>
<g transform="translate(444 625) rotate(85)"><rect x="-4.5" y="-2.1" width="9" height="4.2" fill="#fff"/><text x="0" y="1.4" text-anchor="middle" font-size="4.2" font-weight="bold" fill="#000">1.00</text></g>
<g transform="translate(445 645) rotate(80)"><rect x="-4.5" y="-2.1" width="9" height="4.2" fill="#fff"/><text x="0" y="1.4" text-anchor="middle" font-size="4.2" font-weight="bold" fill="#000">0.20</text></g>
<g transform="translate(474 596) rotate(0)"><rect x="-4.5" y="-2.1" width="9" height="4.2" fill="#fff"/><text x="0" y="1.4" text-anchor="middle" font-size="4.2" font-weight="bold" fill="#000">1.40</text></g>
<g transform="translate(500 596) rotate(0)"><rect x="-4.5" y="-2.1" width="9" height="4.2" fill="#fff"/><text x="0" y="1.4" text-anchor="middle" font-size="4.2" font-weight="bold" fill="#000">1.40</text></g>
</g>
<g clip-path="url(#c35)">
<polygon points="360.4,538.6 415.4,538.6 442.4,565 416.2,593.4 360.4,593.4" fill="#69ff55"/>
<polygon points="359,568 371,565 381,560.6 391,555 401,552 405,548 404,537 359,537" fill="#97ff55" stroke="#000" stroke-opacity="0.85" stroke-width="0.5" stroke-linejoin="round"/>
<polygon points="359,564 369,561 377,557 385,552 390,547 393,537 359,537" fill="#dcff5e" stroke="#000" stroke-opacity="0.85" stroke-width="0.5" stroke-linejoin="round"/>
<polygon points="359,570 371,567.4 385,563.4 397,560.6 409,559.4 415,563 416,568 412,576 405,582 397,585 385,587 373,589 359,592" fill="#50ff71" stroke="#000" stroke-opacity="0.85" stroke-width="0.5" stroke-linejoin="round"/>
<polygon points="359,572.6 371,570 383,567 393,566 399,568 402,572 399,577.4 391,582 381,584.6 369,587 359,590" fill="#57ffa6" stroke="#000" stroke-opacity="0.85" stroke-width="0.5" stroke-linejoin="round"/>
<polygon points="359,574.6 369,572.6 379,570 387,570 390,573 387,577.4 380,581 371,583.4 359,587" fill="#5effd0" stroke="#000" stroke-opacity="0.85" stroke-width="0.5" stroke-linejoin="round"/>
<polygon points="359,576.6 369,574.6 377,573 382,574 380,577.4 373,580 365,583 359,584.6" fill="#68ffff" stroke="#000" stroke-opacity="0.85" stroke-width="0.5" stroke-linejoin="round"/>
<polygon points="359,590.6 373,589.4 385,591.4 385,594.6 359,594.6" fill="#28d23c" filter="url(#bl)"/>
<g transform="translate(376 562) rotate(-40)"><rect x="-4.5" y="-2.1" width="9" height="4.2" fill="#fff"/><text x="0" y="1.4" text-anchor="middle" font-size="4.2" font-weight="bold" fill="#000">0.60</text></g>
<g transform="translate(375 568.6) rotate(-30)"><rect x="-4.5" y="-2.1" width="9" height="4.2" fill="#fff"/><text x="0" y="1.4" text-anchor="middle" font-size="4.2" font-weight="bold" fill="#000">0.40</text></g>
<g transform="translate(368 575) rotate(-30)"><rect x="-4.5" y="-2.1" width="9" height="4.2" fill="#fff"/><text x="0" y="1.4" text-anchor="middle" font-size="4.2" font-weight="bold" fill="#000">0.20</text></g>
<g transform="translate(365 585) rotate(-30)"><rect x="-4.5" y="-2.1" width="9" height="4.2" fill="#fff"/><text x="0" y="1.4" text-anchor="middle" font-size="4.2" font-weight="bold" fill="#000">0.00</text></g>
<g transform="translate(401 586) rotate(10)"><rect x="-4.5" y="-2.1" width="9" height="4.2" fill="#fff"/><text x="0" y="1.4" text-anchor="middle" font-size="4.2" font-weight="bold" fill="#000">0.20</text></g>
<g transform="translate(436 572) rotate(-60)"><rect x="-4.5" y="-2.1" width="9" height="4.2" fill="#fff"/><text x="0" y="1.4" text-anchor="middle" font-size="4.2" font-weight="bold" fill="#000">0.40</text></g>
<g transform="translate(363 550) rotate(-10)"><rect x="-4.5" y="-2.1" width="9" height="4.2" fill="#fff"/><text x="0" y="1.4" text-anchor="middle" font-size="4.2" font-weight="bold" fill="#000">0.80</text></g>
<g transform="translate(369 593) rotate(0)"><rect x="-4.5" y="-2.1" width="9" height="4.2" fill="#fff"/><text x="0" y="1.4" text-anchor="middle" font-size="4.2" font-weight="bold" fill="#000">0.60</text></g>
<g transform="translate(378 593) rotate(0)"><rect x="-4.5" y="-2.1" width="9" height="4.2" fill="#fff"/><text x="0" y="1.4" text-anchor="middle" font-size="4.2" font-weight="bold" fill="#000">1.00</text></g>
<g transform="translate(395 593) rotate(0)"><rect x="-4.5" y="-2.1" width="9" height="4.2" fill="#fff"/><text x="0" y="1.4" text-anchor="middle" font-size="4.2" font-weight="bold" fill="#000">1.40</text></g>
<g transform="translate(405 593) rotate(0)"><rect x="-4.5" y="-2.1" width="9" height="4.2" fill="#fff"/><text x="0" y="1.4" text-anchor="middle" font-size="4.2" font-weight="bold" fill="#000">1.00</text></g>
</g>
<g clip-path="url(#c36)">
<polygon points="532,564.4 558,537 613,537 613,591 558,591" fill="#fcff5e"/>
<polygon points="556,539 614,539 614,541.4 590,541.8 570,542.4 558,543.8 552,545" fill="#adff58" stroke="#000" stroke-opacity="0.85" stroke-width="0.5" stroke-linejoin="round"/>
<polygon points="556,535.4 614,535.4 614,539 590,539.4 570,539.4 556,540.6" fill="#5cff5c" stroke="#000" stroke-opacity="0.85" stroke-width="0.5" stroke-linejoin="round"/>
<polygon points="589,565 592,560 600,558 614,558.6 614,570 604,570.6 594,572 590,569" fill="#ffd35e" stroke="#000" stroke-opacity="0.85" stroke-width="0.5" stroke-linejoin="round"/>
<polygon points="558,589 570,587.4 580,589 600,587.8 614,586.4 614,592 558,592" fill="#ffde5e" stroke="#000" stroke-opacity="0.85" stroke-width="0.5" stroke-linejoin="round"/>
<polygon points="600,590.2 614,588.2 614,592 600,592" fill="#ffb45e" filter="url(#bl)"/>
<polyline points="614,543.4 590,544 570,545 556,550 546,557 538,564 532.4,565" fill="none" stroke="#000" stroke-opacity="0.85" stroke-width="0.5" stroke-linejoin="round"/>
<polyline points="614,546 590,546.6 572,548.6 558,555 548,564 545,573 552,582 566,581 580,579.4 594,582 608,583" fill="none" stroke="#000" stroke-opacity="0.85" stroke-width="0.5" stroke-linejoin="round"/>
<polyline points="540,566 550,557 562,550 576,546.6" fill="none" stroke="#000" stroke-opacity="0.85" stroke-width="0.5" stroke-linejoin="round"/>
<g transform="translate(569 539.6) rotate(0)"><rect x="-4.5" y="-2.1" width="9" height="4.2" fill="#fff"/><text x="0" y="1.4" text-anchor="middle" font-size="4.2" font-weight="bold" fill="#000">0.60</text></g>
<g transform="translate(590.4 539.6) rotate(0)"><rect x="-4.5" y="-2.1" width="9" height="4.2" fill="#fff"/><text x="0" y="1.4" text-anchor="middle" font-size="4.2" font-weight="bold" fill="#000">0.80</text></g>
<g transform="translate(576 542.6) rotate(-10)"><rect x="-4.5" y="-2.1" width="9" height="4.2" fill="#fff"/><text x="0" y="1.4" text-anchor="middle" font-size="4.2" font-weight="bold" fill="#000">1.00</text></g>
<g transform="translate(572 550) rotate(-20)"><rect x="-4.5" y="-2.1" width="9" height="4.2" fill="#fff"/><text x="0" y="1.4" text-anchor="middle" font-size="4.2" font-weight="bold" fill="#000">1.20</text></g>
<g transform="translate(603.6 583) rotate(0)"><rect x="-4.5" y="-2.1" width="9" height="4.2" fill="#fff"/><text x="0" y="1.4" text-anchor="middle" font-size="4.2" font-weight="bold" fill="#000">1.20</text></g>
<g transform="translate(579.6 590.6) rotate(0)"><rect x="-4.5" y="-2.1" width="9" height="4.2" fill="#fff"/><text x="0" y="1.4" text-anchor="middle" font-size="4.2" font-weight="bold" fill="#000">1.40</text></g>
</g>
<g>
<rect x="615.1" y="488.8" width="12.1" height="4.8" fill="#ff0000"/>
<rect x="615.1" y="493.4" width="12.1" height="9.6" fill="#ff3c00"/>
<rect x="615.1" y="502.8" width="12.1" height="9.6" fill="#ff7800"/>
<rect x="615.1" y="512.3" width="12.1" height="9.7" fill="#ffb400"/>
<rect x="615.1" y="521.8" width="12.1" height="9.6" fill="#fff000"/>
<rect x="615.1" y="531.2" width="12.1" height="9.7" fill="#d2ff00"/>
<rect x="615.1" y="540.6" width="12.1" height="9.7" fill="#96ff00"/>
<rect x="615.1" y="550.1" width="12.1" height="9.6" fill="#5aff00"/>
<rect x="615.1" y="559.5" width="12.1" height="9.7" fill="#1eff00"/>
<rect x="615.1" y="569" width="12.1" height="9.6" fill="#00ff1e"/>
<rect x="615.1" y="578.4" width="12.1" height="9.7" fill="#00ff5a"/>
<rect x="615.1" y="587.9" width="12.1" height="9.6" fill="#00ff96"/>
<rect x="615.1" y="597.3" width="12.1" height="9.7" fill="#00ffd2"/>
<rect x="615.1" y="606.8" width="12.1" height="9.7" fill="#00f0ff"/>
<rect x="615.1" y="616.2" width="12.1" height="9.6" fill="#00b4ff"/>
<rect x="615.1" y="625.7" width="12.1" height="9.7" fill="#0078ff"/>
<rect x="615.1" y="635.1" width="12.1" height="9.6" fill="#003cff"/>
<rect x="615.1" y="644.6" width="12.1" height="4.9" fill="#0000ff"/>
<line x1="615.1" x2="627.2" y1="493.4" y2="493.4" stroke="#000" stroke-opacity="0.7" stroke-width="0.5"/>
<line x1="615.1" x2="627.2" y1="502.8" y2="502.8" stroke="#000" stroke-opacity="0.7" stroke-width="0.5"/>
<line x1="615.1" x2="627.2" y1="512.3" y2="512.3" stroke="#000" stroke-opacity="0.7" stroke-width="0.5"/>
<line x1="615.1" x2="627.2" y1="521.8" y2="521.8" stroke="#000" stroke-opacity="0.7" stroke-width="0.5"/>
<line x1="615.1" x2="627.2" y1="531.2" y2="531.2" stroke="#000" stroke-opacity="0.7" stroke-width="0.5"/>
<line x1="615.1" x2="627.2" y1="540.6" y2="540.6" stroke="#000" stroke-opacity="0.7" stroke-width="0.5"/>
<line x1="615.1" x2="627.2" y1="550.1" y2="550.1" stroke="#000" stroke-opacity="0.7" stroke-width="0.5"/>
<line x1="615.1" x2="627.2" y1="559.5" y2="559.5" stroke="#000" stroke-opacity="0.7" stroke-width="0.5"/>
<line x1="615.1" x2="627.2" y1="569" y2="569" stroke="#000" stroke-opacity="0.7" stroke-width="0.5"/>
<line x1="615.1" x2="627.2" y1="578.4" y2="578.4" stroke="#000" stroke-opacity="0.7" stroke-width="0.5"/>
<line x1="615.1" x2="627.2" y1="587.9" y2="587.9" stroke="#000" stroke-opacity="0.7" stroke-width="0.5"/>
<line x1="615.1" x2="627.2" y1="597.3" y2="597.3" stroke="#000" stroke-opacity="0.7" stroke-width="0.5"/>
<line x1="615.1" x2="627.2" y1="606.8" y2="606.8" stroke="#000" stroke-opacity="0.7" stroke-width="0.5"/>
<line x1="615.1" x2="627.2" y1="616.2" y2="616.2" stroke="#000" stroke-opacity="0.7" stroke-width="0.5"/>
<line x1="615.1" x2="627.2" y1="625.7" y2="625.7" stroke="#000" stroke-opacity="0.7" stroke-width="0.5"/>
<line x1="615.1" x2="627.2" y1="635.1" y2="635.1" stroke="#000" stroke-opacity="0.7" stroke-width="0.5"/>
<line x1="615.1" x2="627.2" y1="644.6" y2="644.6" stroke="#000" stroke-opacity="0.7" stroke-width="0.5"/>
<rect x="615.1" y="488.8" width="12.1" height="160.5" fill="none" stroke="#555" stroke-opacity="0.6" stroke-width="0.6"/>
<text x="649.5" y="497.8" text-anchor="end" font-size="8.0" font-weight="bold">1.80</text>
<text x="649.5" y="507.3" text-anchor="end" font-size="8.0" font-weight="bold">1.60</text>
<text x="649.5" y="516.7" text-anchor="end" font-size="8.0" font-weight="bold">1.40</text>
<text x="649.5" y="526.2" text-anchor="end" font-size="8.0" font-weight="bold">1.20</text>
<text x="649.5" y="535.6" text-anchor="end" font-size="8.0" font-weight="bold">1.00</text>
<text x="649.5" y="545.1" text-anchor="end" font-size="8.0" font-weight="bold">0.80</text>
<text x="649.5" y="554.5" text-anchor="end" font-size="8.0" font-weight="bold">0.60</text>
<text x="649.5" y="564" text-anchor="end" font-size="8.0" font-weight="bold">0.40</text>
<text x="649.5" y="573.4" text-anchor="end" font-size="8.0" font-weight="bold">0.20</text>
<text x="649.5" y="582.9" text-anchor="end" font-size="8.0" font-weight="bold">0.00</text>
<text x="649.5" y="592.3" text-anchor="end" font-size="8.0" font-weight="bold">-0.20</text>
<text x="649.5" y="601.8" text-anchor="end" font-size="8.0" font-weight="bold">-0.40</text>
<text x="649.5" y="611.2" text-anchor="end" font-size="8.0" font-weight="bold">-0.60</text>
<text x="649.5" y="620.7" text-anchor="end" font-size="8.0" font-weight="bold">-0.80</text>
<text x="649.5" y="630.1" text-anchor="end" font-size="8.0" font-weight="bold">-1.00</text>
<text x="649.5" y="639.6" text-anchor="end" font-size="8.0" font-weight="bold">-1.20</text>
<text x="649.5" y="649" text-anchor="end" font-size="8.0" font-weight="bold">-1.40</text>
<text x="641.5" y="483.7" text-anchor="middle" font-size="8.0" font-weight="bold">Cp</text>
</g>
<text x="14.3" y="709.3" font-size="16" font-weight="bold">(g)</text>
<g clip-path="url(#c37)">
<polygon points="120.6,715.4 205.6,715.4 205.6,771.2 120.6,771.2" fill="#5aff61"/>
<polygon points="172,714.4 174,723 179,729 183,737 185,749 184,761 183,772 207,772 207,714.4" fill="#97ff55" stroke="#000" stroke-opacity="0.85" stroke-width="0.5" stroke-linejoin="round"/>
<polygon points="187,714.4 188,723 190,733 189,745 187,757 186,772 207,772 207,714.4" fill="#adff58" stroke="#000" stroke-opacity="0.85" stroke-width="0.5" stroke-linejoin="round"/>
<polygon points="188,714.4 198.6,714.4 199,725 200.6,735 203,745 204.2,772 188,772 189.4,757 191,745 190.6,733" fill="#c9ff5c" stroke="#000" stroke-opacity="0.85" stroke-width="0.5" stroke-linejoin="round"/>
<polygon points="197.4,737 200.6,744 202.6,755 203.4,772 190.6,772 192,759 194,748" fill="#efff5e" stroke="#000" stroke-opacity="0.85" stroke-width="0.5" stroke-linejoin="round"/>
<polygon points="198,744 200.6,751 202,772 193,772 194.4,759 196,750" fill="#fcfb5e" stroke="#000" stroke-opacity="0.85" stroke-width="0.5" stroke-linejoin="round"/>
<polygon points="198.6,751 200.6,759 201,772 195.4,772 196.6,759" fill="#fef45e" stroke="#000" stroke-opacity="0.85" stroke-width="0.5" stroke-linejoin="round"/>
<polygon points="199,758 200.2,765 200.2,772 197.4,772 197.8,764" fill="#ffec5e" stroke="#000" stroke-opacity="0.85" stroke-width="0.5" stroke-linejoin="round"/>
<polygon points="173,772 174,763 178,757.4 180.6,763 182,772" fill="#58ffad" stroke="#000" stroke-opacity="0.85" stroke-width="0.5" stroke-linejoin="round"/>
<polygon points="199,714.4 207,714.4 207,751 204.6,745 202.6,733 200.6,723" fill="#5aff61" stroke="#000" stroke-opacity="0.85" stroke-width="0.5" stroke-linejoin="round"/>
<polygon points="203.4,753 207,751 207,772 204.2,772" fill="#aaaa32" filter="url(#bl)"/>
<polygon points="119,714.4 124,714.4 123,725 125,737 126.6,751 128,765 127.4,772 119,772" fill="#69ff55" stroke="#000" stroke-opacity="0.85" stroke-width="0.5" stroke-linejoin="round"/>
<polygon points="119,714.4 122,714.4 121.4,725 123,737 124.2,751 125,772 119,772" fill="#3cd73c" filter="url(#bl)"/>
<g transform="translate(200 766) rotate(-80)"><rect x="-5.5" y="-2.1" width="11.1" height="4.2" fill="#fff"/><text x="0" y="1.4" text-anchor="middle" font-size="4.2" font-weight="bold" fill="#000">-0.10</text></g>
<g transform="translate(122.6 755) rotate(-85)"><rect x="-5.5" y="-2.1" width="11.1" height="4.2" fill="#fff"/><text x="0" y="1.4" text-anchor="middle" font-size="4.2" font-weight="bold" fill="#000">-1.00</text></g>
<g transform="translate(123.4 763) rotate(-85)"><rect x="-5.5" y="-2.1" width="11.1" height="4.2" fill="#fff"/><text x="0" y="1.4" text-anchor="middle" font-size="4.2" font-weight="bold" fill="#000">-1.30</text></g>
</g>
<g clip-path="url(#c38)">
<polygon points="120.6,771.2 205.6,771.2 205.6,799.7 120.6,799.7" fill="#00be0a"/>
<polygon points="120,770 158,770 163,777 159,784 149,792 138,800 120,800" fill="#28b900" stroke="#000" stroke-opacity="0.85" stroke-width="0.5" stroke-linejoin="round"/>
<polygon points="120,770 142,770 140,777 135,782 127,783.6 120,781" fill="#64bc00" stroke="#000" stroke-opacity="0.85" stroke-width="0.5" stroke-linejoin="round"/>
<polygon points="198,778 207,776 207,785 201,784" fill="#00be46" stroke="#000" stroke-opacity="0.85" stroke-width="0.5" stroke-linejoin="round"/>
<g transform="translate(141 777) rotate(-75)"><rect x="-5.5" y="-2.1" width="11.1" height="4.2" fill="#fff"/><text x="0" y="1.4" text-anchor="middle" font-size="4.2" font-weight="bold" fill="#000">-1.60</text></g>
<g transform="translate(159.4 785) rotate(-30)"><rect x="-5.5" y="-2.1" width="11.1" height="4.2" fill="#fff"/><text x="0" y="1.4" text-anchor="middle" font-size="4.2" font-weight="bold" fill="#000">-1.90</text></g>
</g>
<g clip-path="url(#c39)">
<polygon points="120.6,799 205.6,799 205.6,827.6 120.6,827.6" fill="#00820a"/>
<polygon points="189,798 182,806 178,814 176.6,822 178,828.4 207,828.4 207,798" fill="#208200" stroke="#000" stroke-opacity="0.85" stroke-width="0.5" stroke-linejoin="round"/>
<polygon points="203,807 207,805 207,812.4 203.4,811" fill="#5a8200" stroke="#000" stroke-opacity="0.85" stroke-width="0.5" stroke-linejoin="round"/>
<g transform="translate(188.6 799) rotate(0)"><rect x="-5.5" y="-2.1" width="11.1" height="4.2" fill="#fff"/><text x="0" y="1.4" text-anchor="middle" font-size="4.2" font-weight="bold" fill="#000">-1.90</text></g>
<g transform="translate(149.4 825.4) rotate(5)"><rect x="-5.5" y="-2.1" width="11.1" height="4.2" fill="#fff"/><text x="0" y="1.4" text-anchor="middle" font-size="4.2" font-weight="bold" fill="#000">-1.90</text></g>
</g>
<g clip-path="url(#c40)">
<polygon points="120.6,827.6 205.6,827.6 205.6,884 120.6,884" fill="#5aff61"/>
<polygon points="139,826.6 142,835 147,841 152,844 160,839 162,833 161,826.6" fill="#57ffa6" stroke="#000" stroke-opacity="0.85" stroke-width="0.5" stroke-linejoin="round"/>
<polygon points="125,885 126,873 133,865 141,858 148,856.6 155,860 159.4,869 160.6,879 161,885" fill="#57ffa6" stroke="#000" stroke-opacity="0.85" stroke-width="0.5" stroke-linejoin="round"/>
<polygon points="184.6,826.6 186,833 190,839 197,843 203,838 207,835 207,826.6" fill="#97ff55" stroke="#000" stroke-opacity="0.85" stroke-width="0.5" stroke-linejoin="round"/>
<polygon points="189,885 190,877 193,871 198,868 201,871 200,877 198,885" fill="#97ff55" stroke="#000" stroke-opacity="0.85" stroke-width="0.5" stroke-linejoin="round"/>
<polygon points="203,865 207,855 207,885 202,885 201,875" fill="#58ffad" stroke="#000" stroke-opacity="0.85" stroke-width="0.5" stroke-linejoin="round"/>
<polygon points="204,869 207,865 207,881 203.4,879" fill="#61ffde" stroke="#000" stroke-opacity="0.85" stroke-width="0.5" stroke-linejoin="round"/>
<polygon points="119,845 123,855 124,869 122,885 119,885" fill="#69ff55" filter="url(#bl)"/>
<g transform="translate(163.4 831.4) rotate(-88)"><rect x="-5.5" y="-2.1" width="11.1" height="4.2" fill="#fff"/><text x="0" y="1.4" text-anchor="middle" font-size="4.2" font-weight="bold" fill="#000">-1.60</text></g>
<g transform="translate(123 877) rotate(-80)"><rect x="-5.5" y="-2.1" width="11.1" height="4.2" fill="#fff"/><text x="0" y="1.4" text-anchor="middle" font-size="4.2" font-weight="bold" fill="#000">-1.60</text></g>
</g>
<g clip-path="url(#c41)">
<polygon points="36,775.6 80.4,775.6 119.3,799.6 79.6,823.4 36,823.4" fill="#5aff61"/>
<polygon points="35,800 47,801.6 59,800 66,795 68,788 73,781.6 85,785 94,788 100,786.4 85,774 35,774" fill="#57ffa6" stroke="#000" stroke-opacity="0.85" stroke-width="0.5" stroke-linejoin="round"/>
<polygon points="35,798 45,799 55,797 57,790 55,782 49,779 41,779 35,780" fill="#5effd0" stroke="#000" stroke-opacity="0.85" stroke-width="0.5" stroke-linejoin="round"/>
<polygon points="35,789 40,787.6 45,789.6 47,792 43,795.6 35,795.6" fill="#68ffff" stroke="#000" stroke-opacity="0.85" stroke-width="0.5" stroke-linejoin="round"/>
<polygon points="35,774.4 82,774.4 77,778.4 65,780 49,778.4 35,780" fill="#32d746" filter="url(#bl)"/>
<polygon points="35,802.4 47,804.4 59,805.6 71,803.6 79,801 91,801 98,805 99.4,810 91,816 85,824 35,824" fill="#97ff55" stroke="#000" stroke-opacity="0.85" stroke-width="0.5" stroke-linejoin="round"/>
<polygon points="35,804 45,805.6 55,809 62,814 64,818 57,821 35,822" fill="#bbff5a" stroke="#000" stroke-opacity="0.85" stroke-width="0.5" stroke-linejoin="round"/>
<polygon points="35,805.6 44,807 52,810 58,815 55,819 45,820.4 35,821" fill="#e9ff5e" stroke="#000" stroke-opacity="0.85" stroke-width="0.5" stroke-linejoin="round"/>
<polygon points="35,808 43,809 49,812 53,816 48,818.4 35,819.6" fill="#fcfd5e" stroke="#000" stroke-opacity="0.85" stroke-width="0.5" stroke-linejoin="round"/>
<polygon points="35,810.4 42,811 46,814 45,817 35,818" fill="#fdf65e" stroke="#000" stroke-opacity="0.85" stroke-width="0.5" stroke-linejoin="round"/>
<polygon points="35,812.4 40,813 42,815 39,816.4 35,816.4" fill="#fef05e" stroke="#000" stroke-opacity="0.85" stroke-width="0.5" stroke-linejoin="round"/>
<polygon points="45,821.8 65,822.6 85,821.8 85,824 45,824" fill="#28c83c" filter="url(#bl)"/>
<g transform="translate(68 783) rotate(-35)"><rect x="-5.5" y="-2.1" width="11.1" height="4.2" fill="#fff"/><text x="0" y="1.4" text-anchor="middle" font-size="4.2" font-weight="bold" fill="#000">-1.90</text></g>
<g transform="translate(74 802.4) rotate(-25)"><rect x="-5.5" y="-2.1" width="11.1" height="4.2" fill="#fff"/><text x="0" y="1.4" text-anchor="middle" font-size="4.2" font-weight="bold" fill="#000">-1.60</text></g>
<g transform="translate(82 821.6) rotate(-20)"><rect x="-5.5" y="-2.1" width="11.1" height="4.2" fill="#fff"/><text x="0" y="1.4" text-anchor="middle" font-size="4.2" font-weight="bold" fill="#000">-1.00</text></g>
<g transform="translate(40 822.4) rotate(0)"><rect x="-5.5" y="-2.1" width="11.1" height="4.2" fill="#fff"/><text x="0" y="1.4" text-anchor="middle" font-size="4.2" font-weight="bold" fill="#000">-1.30</text></g>
</g>
<g clip-path="url(#c42)">
<polygon points="205.6,799 244,775.6 289,775.6 289,822.4 244,822.4" fill="#97ff55"/>
<polygon points="261,781 268,777 276,774.4 290,774.4 290,806 280,801 272,797 269,790" fill="#c9ff5c" stroke="#000" stroke-opacity="0.85" stroke-width="0.5" stroke-linejoin="round"/>
<polygon points="269,781.6 274,778 280,776.4 290,776.4 290,799 284,796 277,792 272,787" fill="#e9ff5e" stroke="#000" stroke-opacity="0.85" stroke-width="0.5" stroke-linejoin="round"/>
<polygon points="274,781.6 278,778.4 284,777.2 290,777.2 290,793 284,790 279,787" fill="#f6ff5e" stroke="#000" stroke-opacity="0.85" stroke-width="0.5" stroke-linejoin="round"/>
<polygon points="278,781 282,778.4 290,778 290,789 285,787 281,784.4" fill="#fcff5e" stroke="#000" stroke-opacity="0.85" stroke-width="0.5" stroke-linejoin="round"/>
<polygon points="282,780.4 286,779 290,779 290,785.6 285.6,784.4" fill="#fcfb5e" stroke="#000" stroke-opacity="0.85" stroke-width="0.5" stroke-linejoin="round"/>
<polygon points="251,823.6 256,817 264,812 270,809 280,810 290,808 290,824" fill="#41e84b" stroke="#000" stroke-opacity="0.85" stroke-width="0.5" stroke-linejoin="round"/>
<polygon points="264,823.6 267,817 272,813.6 280,813.6 290,812.4 290,824" fill="#28e473" stroke="#000" stroke-opacity="0.85" stroke-width="0.5" stroke-linejoin="round"/>
<polygon points="273,823.6 275,818 280,816 290,815.6 290,824" fill="#23e4af" stroke="#000" stroke-opacity="0.85" stroke-width="0.5" stroke-linejoin="round"/>
<polygon points="280,823.6 281,819 290,817.6 290,824" fill="#46eef0" stroke="#000" stroke-opacity="0.85" stroke-width="0.5" stroke-linejoin="round"/>
<polygon points="243,774.4 252,774.4 249,777.6 243,778" fill="#3cd73c" filter="url(#bl)"/>
<polygon points="244,821.2 260,822.2 260,824 244,824" fill="#32c83c" filter="url(#bl)"/>
<g transform="translate(279.6 793) rotate(210)"><rect x="-5.5" y="-2.1" width="11.1" height="4.2" fill="#fff"/><text x="0" y="1.4" text-anchor="middle" font-size="4.2" font-weight="bold" fill="#000">-1.60</text></g>
</g>
<g>
<rect x="291.9" y="728.8" width="12.1" height="4.9" fill="#ff0000"/>
<rect x="291.9" y="733.5" width="12.1" height="9.8" fill="#ff4000"/>
<rect x="291.9" y="743.1" width="12.1" height="9.8" fill="#ff8000"/>
<rect x="291.9" y="752.7" width="12.1" height="9.8" fill="#ffbf00"/>
<rect x="291.9" y="762.3" width="12.1" height="9.8" fill="#ffff00"/>
<rect x="291.9" y="771.9" width="12.1" height="9.8" fill="#bfff00"/>
<rect x="291.9" y="781.5" width="12.1" height="9.8" fill="#80ff00"/>
<rect x="291.9" y="791.1" width="12.1" height="9.8" fill="#40ff00"/>
<rect x="291.9" y="800.7" width="12.1" height="9.8" fill="#00ff00"/>
<rect x="291.9" y="810.3" width="12.1" height="9.8" fill="#00ff40"/>
<rect x="291.9" y="819.9" width="12.1" height="9.8" fill="#00ff80"/>
<rect x="291.9" y="829.5" width="12.1" height="9.8" fill="#00ffbf"/>
<rect x="291.9" y="839.1" width="12.1" height="9.8" fill="#00ffff"/>
<rect x="291.9" y="848.7" width="12.1" height="9.8" fill="#00bfff"/>
<rect x="291.9" y="858.3" width="12.1" height="9.8" fill="#0080ff"/>
<rect x="291.9" y="867.9" width="12.1" height="9.8" fill="#0040ff"/>
<rect x="291.9" y="877.5" width="12.1" height="5.7" fill="#0000ff"/>
<line x1="291.9" x2="304" y1="733.5" y2="733.5" stroke="#000" stroke-opacity="0.7" stroke-width="0.5"/>
<line x1="291.9" x2="304" y1="743.1" y2="743.1" stroke="#000" stroke-opacity="0.7" stroke-width="0.5"/>
<line x1="291.9" x2="304" y1="752.7" y2="752.7" stroke="#000" stroke-opacity="0.7" stroke-width="0.5"/>
<line x1="291.9" x2="304" y1="762.3" y2="762.3" stroke="#000" stroke-opacity="0.7" stroke-width="0.5"/>
<line x1="291.9" x2="304" y1="771.9" y2="771.9" stroke="#000" stroke-opacity="0.7" stroke-width="0.5"/>
<line x1="291.9" x2="304" y1="781.5" y2="781.5" stroke="#000" stroke-opacity="0.7" stroke-width="0.5"/>
<line x1="291.9" x2="304" y1="791.1" y2="791.1" stroke="#000" stroke-opacity="0.7" stroke-width="0.5"/>
<line x1="291.9" x2="304" y1="800.7" y2="800.7" stroke="#000" stroke-opacity="0.7" stroke-width="0.5"/>
<line x1="291.9" x2="304" y1="810.3" y2="810.3" stroke="#000" stroke-opacity="0.7" stroke-width="0.5"/>
<line x1="291.9" x2="304" y1="819.9" y2="819.9" stroke="#000" stroke-opacity="0.7" stroke-width="0.5"/>
<line x1="291.9" x2="304" y1="829.5" y2="829.5" stroke="#000" stroke-opacity="0.7" stroke-width="0.5"/>
<line x1="291.9" x2="304" y1="839.1" y2="839.1" stroke="#000" stroke-opacity="0.7" stroke-width="0.5"/>
<line x1="291.9" x2="304" y1="848.7" y2="848.7" stroke="#000" stroke-opacity="0.7" stroke-width="0.5"/>
<line x1="291.9" x2="304" y1="858.3" y2="858.3" stroke="#000" stroke-opacity="0.7" stroke-width="0.5"/>
<line x1="291.9" x2="304" y1="867.9" y2="867.9" stroke="#000" stroke-opacity="0.7" stroke-width="0.5"/>
<line x1="291.9" x2="304" y1="877.5" y2="877.5" stroke="#000" stroke-opacity="0.7" stroke-width="0.5"/>
<rect x="291.9" y="728.8" width="12.1" height="154.2" fill="none" stroke="#555" stroke-opacity="0.6" stroke-width="0.6"/>
<text x="327.3" y="738" text-anchor="end" font-size="8.2" font-weight="bold">0.50</text>
<text x="327.3" y="747.6" text-anchor="end" font-size="8.2" font-weight="bold">0.20</text>
<text x="327.3" y="757.2" text-anchor="end" font-size="8.2" font-weight="bold">-0.10</text>
<text x="327.3" y="766.8" text-anchor="end" font-size="8.2" font-weight="bold">-0.40</text>
<text x="327.3" y="776.4" text-anchor="end" font-size="8.2" font-weight="bold">-0.70</text>
<text x="327.3" y="786" text-anchor="end" font-size="8.2" font-weight="bold">-1.00</text>
<text x="327.3" y="795.6" text-anchor="end" font-size="8.2" font-weight="bold">-1.30</text>
<text x="327.3" y="805.2" text-anchor="end" font-size="8.2" font-weight="bold">-1.60</text>
<text x="327.3" y="814.8" text-anchor="end" font-size="8.2" font-weight="bold">-1.90</text>
<text x="327.3" y="824.4" text-anchor="end" font-size="8.2" font-weight="bold">-2.20</text>
<text x="327.3" y="834" text-anchor="end" font-size="8.2" font-weight="bold">-2.50</text>
<text x="327.3" y="843.6" text-anchor="end" font-size="8.2" font-weight="bold">-2.80</text>
<text x="327.3" y="853.2" text-anchor="end" font-size="8.2" font-weight="bold">-3.10</text>
<text x="327.3" y="862.8" text-anchor="end" font-size="8.2" font-weight="bold">-3.40</text>
<text x="327.3" y="872.4" text-anchor="end" font-size="8.2" font-weight="bold">-3.70</text>
<text x="327.3" y="882" text-anchor="end" font-size="8.2" font-weight="bold">-4.00</text>
<text x="318.7" y="723.8" text-anchor="middle" font-size="8.2" font-weight="bold">Cp</text>
</g>
<text x="327.8" y="709.4" font-size="16" font-weight="bold">(h)</text>
<g clip-path="url(#c43)">
<polygon points="447,704 538,704 538,762.6 447,762.6" fill="#32ff4a"/>
<polygon points="494,703 481,707 473,713 469,719 470,725 475,733 480,741 485,749 489,757 491,763.4 539,763.4 539,703" fill="#2eff88" stroke="#000" stroke-opacity="0.85" stroke-width="0.5" stroke-linejoin="round"/>
<polygon points="488,726 491,720 500,719 510,715 514,718 519,727 524,735 530,737 533,743 534,753 532,761 529,763.4 501,763.4 501,755 499,747 494,737 490,731" fill="#34ffc4" stroke="#000" stroke-opacity="0.85" stroke-width="0.5" stroke-linejoin="round"/>
<polygon points="530,748 533,743 535,746 532.4,751" fill="#3cffff" stroke="#000" stroke-opacity="0.85" stroke-width="0.5" stroke-linejoin="round"/>
<polygon points="446,724 456,727 464,733 470,741 474,751 476.4,763.4 446,763.4" fill="#4aff32" stroke="#000" stroke-opacity="0.85" stroke-width="0.5" stroke-linejoin="round"/>
<polygon points="446,728 455,731 461,736 466,744 469,753 471,763.4 446,763.4" fill="#76ff2d" stroke="#000" stroke-opacity="0.85" stroke-width="0.5" stroke-linejoin="round"/>
<polygon points="446,732 453,734 458,739 462,747 464,755 465,763.4 446,763.4" fill="#aaff30" stroke="#000" stroke-opacity="0.85" stroke-width="0.5" stroke-linejoin="round"/>
<polygon points="446,738 452,739.4 457,745 460,753 461.6,763.4 446,763.4" fill="#dbff33" stroke="#000" stroke-opacity="0.85" stroke-width="0.5" stroke-linejoin="round"/>
<polygon points="446,743 452.4,744 457,750 459,757 460,763.4 446,763.4" fill="#fbff33" stroke="#000" stroke-opacity="0.85" stroke-width="0.5" stroke-linejoin="round"/>
<polygon points="534,703 539,703 539,735 536,725 534.4,715" fill="#32ff4a" stroke="#000" stroke-opacity="0.85" stroke-width="0.5" stroke-linejoin="round"/>
<polygon points="535,753 539,749 539,763.4 533,763.4" fill="#2cff65" stroke="#000" stroke-opacity="0.85" stroke-width="0.5" stroke-linejoin="round"/>
<polyline points="463,704 457,715 465,723 472,731 478,741 482,753 484,762.4" fill="none" stroke="#000" stroke-opacity="0.85" stroke-width="0.5" stroke-linejoin="round"/>
<polyline points="536,725 534,735 536,743 535,753" fill="none" stroke="#000" stroke-opacity="0.85" stroke-width="0.5" stroke-linejoin="round"/>
<g transform="translate(469 730) rotate(50)"><rect x="-5.5" y="-2.6" width="11" height="5.2" fill="#fff"/><text x="0" y="1.8" text-anchor="middle" font-size="5.2" font-weight="bold" fill="#000">0.20</text></g>
<g transform="translate(466 748) rotate(70)"><rect x="-5.5" y="-2.6" width="11" height="5.2" fill="#fff"/><text x="0" y="1.8" text-anchor="middle" font-size="5.2" font-weight="bold" fill="#000">0.60</text></g>
<g transform="translate(452.4 742.6) rotate(-10)"><rect x="-5.3" y="-2.5" width="10.6" height="5" fill="#fff"/><text x="0" y="1.7" text-anchor="middle" font-size="5" font-weight="bold" fill="#000">0.80</text></g>
<g transform="translate(518 733) rotate(60)"><rect x="-6.8" y="-2.6" width="13.6" height="5.2" fill="#fff"/><text x="0" y="1.8" text-anchor="middle" font-size="5.2" font-weight="bold" fill="#000">-0.20</text></g>
<g transform="translate(535.6 730) rotate(60)"><rect x="-4.5" y="-2.1" width="9" height="4.2" fill="#fff"/><text x="0" y="1.4" text-anchor="middle" font-size="4.2" font-weight="bold" fill="#000">0.00</text></g>
<g transform="translate(448 719) rotate(-88)"><rect x="-4.5" y="-2.1" width="9" height="4.2" fill="#fff"/><text x="0" y="1.4" text-anchor="middle" font-size="4.2" font-weight="bold" fill="#000">0.20</text></g>
<g transform="translate(448 732) rotate(-88)"><rect x="-4.5" y="-2.1" width="9" height="4.2" fill="#fff"/><text x="0" y="1.4" text-anchor="middle" font-size="4.2" font-weight="bold" fill="#000">0.40</text></g>
</g>
<g clip-path="url(#c44)">
<polygon points="447,762.6 538,762.6 538,794 447,794" fill="#08ba7f"/>
<polygon points="487,788 490,784 498,782 508,778 512,774 517,770 520,774 524,780 530,779 539,778 539,795 490,795" fill="#0cbaab" stroke="#000" stroke-opacity="0.85" stroke-width="0.5" stroke-linejoin="round"/>
<polygon points="531,783 534,780 538,781 538,787 533,787" fill="#0996ba" stroke="#000" stroke-opacity="0.85" stroke-width="0.5" stroke-linejoin="round"/>
<polygon points="533.6,783 537,782 537,785.6 534,785.6" fill="#076bba" stroke="#000" stroke-opacity="0.85" stroke-width="0.5" stroke-linejoin="round"/>
<polygon points="502,761.4 500.4,770 494.4,776 486.4,780 478.4,784 473.4,789 475.6,795 446,795 446,761.4" fill="#07ba4c" stroke="#000" stroke-opacity="0.85" stroke-width="0.5" stroke-linejoin="round"/>
<polygon points="496,761.4 493.6,769 488,774 480,777.6 471,781.6 466,786 464,795 446,795 446,761.4" fill="#0aba25" stroke="#000" stroke-opacity="0.85" stroke-width="0.5" stroke-linejoin="round"/>
<polygon points="490,761.4 488,768 482,772.4 474,775.6 465,779 458,783 453,788 451,795 446,795 446,761.4" fill="#1aba14" stroke="#000" stroke-opacity="0.85" stroke-width="0.5" stroke-linejoin="round"/>
<polygon points="483,761.4 481,767 476,771 468,774 458,777 451,781 447,785 446,761.4" fill="#2fba06" stroke="#000" stroke-opacity="0.85" stroke-width="0.5" stroke-linejoin="round"/>
<polygon points="475,761.4 473,766 468,769.6 460,772 452,775 447,778 446,761.4" fill="#54ba07" stroke="#000" stroke-opacity="0.85" stroke-width="0.5" stroke-linejoin="round"/>
<polygon points="466,761.4 464,765 458,768.4 450,771 446,772.4 446,761.4" fill="#77ba07" stroke="#000" stroke-opacity="0.85" stroke-width="0.5" stroke-linejoin="round"/>
<polygon points="456,761.4 453,765 446,768 446,761.4" fill="#9bba07" stroke="#000" stroke-opacity="0.85" stroke-width="0.5" stroke-linejoin="round"/>
<g transform="translate(452.4 769.6) rotate(-15)"><rect x="-4.5" y="-2.1" width="9" height="4.2" fill="#fff"/><text x="0" y="1.4" text-anchor="middle" font-size="4.2" font-weight="bold" fill="#000">0.80</text></g>
<g transform="translate(467.6 775.4) rotate(-10)"><rect x="-4.5" y="-2.1" width="9" height="4.2" fill="#fff"/><text x="0" y="1.4" text-anchor="middle" font-size="4.2" font-weight="bold" fill="#000">0.60</text></g>
<g transform="translate(497 777) rotate(-60)"><rect x="-4.5" y="-2.1" width="9" height="4.2" fill="#fff"/><text x="0" y="1.4" text-anchor="middle" font-size="4.2" font-weight="bold" fill="#000">0.20</text></g>
<g transform="translate(465.6 789) rotate(20)"><rect x="-4.5" y="-2.1" width="9" height="4.2" fill="#fff"/><text x="0" y="1.4" text-anchor="middle" font-size="4.2" font-weight="bold" fill="#000">0.40</text></g>
</g>
<g clip-path="url(#c45)">
<polygon points="447,793.4 538,793.4 538,823.6 447,823.6" fill="#5a8504"/>
<polygon points="449,810 452,803 460,799 480,797 510,795.6 539,795 539,824.4 448,824.4" fill="#838204" stroke="#000" stroke-opacity="0.85" stroke-width="0.5" stroke-linejoin="round"/>
<polygon points="454,812 457,806 464,801 480,798.4 510,796.6 539,795.8 539,824.4 453,824.4" fill="#857504" stroke="#000" stroke-opacity="0.85" stroke-width="0.5" stroke-linejoin="round"/>
<polygon points="460,814 463,808 470,803 486,800 510,798 539,796.8 539,824.4 460,824.4" fill="#856304" stroke="#000" stroke-opacity="0.85" stroke-width="0.5" stroke-linejoin="round"/>
<polygon points="466,816 469,810 478,805 494,801.6 514,799.4 539,798 539,824.4 467,824.4" fill="#854c04" stroke="#000" stroke-opacity="0.85" stroke-width="0.5" stroke-linejoin="round"/>
<polygon points="473,818 477,813 486,809 500,805.6 516,802.4 539,800 539,824.4 472,824.4" fill="#852f04" stroke="#000" stroke-opacity="0.85" stroke-width="0.5" stroke-linejoin="round"/>
<polygon points="486,819 490,815 500,811.6 514,808 526,805 539,803.4 539,823.2 490,823.2 485.6,821" fill="#851104" stroke="#000" stroke-opacity="0.85" stroke-width="0.5" stroke-linejoin="round"/>
<g transform="translate(504 798.4) rotate(0)"><rect x="-4.5" y="-2.1" width="9" height="4.2" fill="#fff"/><text x="0" y="1.4" text-anchor="middle" font-size="4.2" font-weight="bold" fill="#000">1.20</text></g>
<g transform="translate(467 819) rotate(75)"><rect x="-4.5" y="-2.1" width="9" height="4.2" fill="#fff"/><text x="0" y="1.4" text-anchor="middle" font-size="4.2" font-weight="bold" fill="#000">1.60</text></g>
<g transform="translate(451.6 817) rotate(-70)"><rect x="-4.5" y="-2.1" width="9" height="4.2" fill="#fff"/><text x="0" y="1.4" text-anchor="middle" font-size="4.2" font-weight="bold" fill="#000">1.00</text></g>
</g>
<g clip-path="url(#c46)">
<polygon points="447,823.6 538,823.6 538,885 447,885" fill="#90ff54"/>
<polygon points="450,822.6 539,822.6 539,886 450,886 449.6,855" fill="#d6ff5d" stroke="#000" stroke-opacity="0.85" stroke-width="0.5" stroke-linejoin="round"/>
<polygon points="452,822.6 539,822.6 539,886 452.4,886 451.6,855" fill="#fcff5e" stroke="#000" stroke-opacity="0.85" stroke-width="0.5" stroke-linejoin="round"/>
<polygon points="455.6,822.6 457,835 456,849 458,865 460,886 539,886 539,822.6" fill="#fef05e" stroke="#000" stroke-opacity="0.85" stroke-width="0.5" stroke-linejoin="round"/>
<polygon points="459,822.6 460,835 459.6,849 461.6,865 464,886 539,886 539,822.6" fill="#ffd55e" stroke="#000" stroke-opacity="0.85" stroke-width="0.5" stroke-linejoin="round"/>
<polygon points="462,822.6 465,831 464,845 465.6,861 468,873 470,886 539,886 539,822.6" fill="#ff9b5e" stroke="#000" stroke-opacity="0.85" stroke-width="0.5" stroke-linejoin="round"/>
<polygon points="490,822.6 482,831 475,839 474.4,847 478,857 483,867 484.4,877 483,886 534,886 533.6,865 532.4,845 531,829 530,822.6" fill="#ff5e5e" stroke="#000" stroke-opacity="0.85" stroke-width="0.5" stroke-linejoin="round"/>
<polygon points="534,822.6 539,822.6 539,886 535,886 534.4,865 533,845" fill="#ff9b5e" stroke="#000" stroke-opacity="0.85" stroke-width="0.5" stroke-linejoin="round"/>
<polygon points="536,835 539,835 539,886 536.4,886" fill="#ffc05e" filter="url(#bl)"/>
<polygon points="446,822.6 448.4,822.6 448,886 446,886" fill="#6edc3c" filter="url(#bl)"/>
<g transform="translate(484 830) rotate(-30)"><rect x="-6.3" y="-3" width="12.6" height="6" fill="#fff"/><text x="0" y="2" text-anchor="middle" font-size="6" font-weight="bold" fill="#000">1.80</text></g>
<g transform="translate(455.6 844) rotate(85)"><rect x="-5.3" y="-2.5" width="10.6" height="5" fill="#fff"/><text x="0" y="1.7" text-anchor="middle" font-size="5" font-weight="bold" fill="#000">1.40</text></g>
<g transform="translate(462 851) rotate(85)"><rect x="-5.3" y="-2.5" width="10.6" height="5" fill="#fff"/><text x="0" y="1.7" text-anchor="middle" font-size="5" font-weight="bold" fill="#000">1.60</text></g>
<g transform="translate(448.4 828) rotate(-75)"><rect x="-4.5" y="-2.1" width="9" height="4.2" fill="#fff"/><text x="0" y="1.4" text-anchor="middle" font-size="4.2" font-weight="bold" fill="#000">0.40</text></g>
<g transform="translate(448.4 861) rotate(85)"><rect x="-4.5" y="-2.1" width="9" height="4.2" fill="#fff"/><text x="0" y="1.4" text-anchor="middle" font-size="4.2" font-weight="bold" fill="#000">0.60</text></g>
<g transform="translate(449 876) rotate(85)"><rect x="-4.5" y="-2.1" width="9" height="4.2" fill="#fff"/><text x="0" y="1.4" text-anchor="middle" font-size="4.2" font-weight="bold" fill="#000">0.80</text></g>
</g>
<g clip-path="url(#c47)">
<polygon points="349,765 402,765 446,791.3 402.8,817.4 349,817.4" fill="#97ff55"/>
<polygon points="375,764 385,771 393,778 401,784 415,783 429,781.6 402,764" fill="#c9ff5c" stroke="#000" stroke-opacity="0.85" stroke-width="0.5" stroke-linejoin="round"/>
<polygon points="383,764 389,770 395,776 402,782 415,780 423,778 402,764" fill="#e3ff5e" stroke="#000" stroke-opacity="0.85" stroke-width="0.5" stroke-linejoin="round"/>
<polygon points="348,765.6 365,765 377,769 387,775 393,782 389,789 375,792 361,792 348,791" fill="#71ff50" stroke="#000" stroke-opacity="0.85" stroke-width="0.5" stroke-linejoin="round"/>
<polygon points="348,770 358,768.4 367,770 377,775 382,780 380,785 372,787.6 362,788 348,786.4" fill="#5aff61" stroke="#000" stroke-opacity="0.85" stroke-width="0.5" stroke-linejoin="round"/>
<polygon points="348,773.6 356,772.4 363,774.4 365.4,779.6 361,783 348,783.2" fill="#52ff80" stroke="#000" stroke-opacity="0.85" stroke-width="0.5" stroke-linejoin="round"/>
<polygon points="348,793 359,791 371,793 377,796 369,800 359,802.4 348,803.6" fill="#d6ff5d" stroke="#000" stroke-opacity="0.85" stroke-width="0.5" stroke-linejoin="round"/>
<polygon points="348,795.6 357,795 362,798 355,799.6 348,799" fill="#fcff5e" stroke="#000" stroke-opacity="0.85" stroke-width="0.5" stroke-linejoin="round"/>
<polygon points="361,810 375,803 391,798 407,795 419,796 423,801 417,807 409,812 403,818.4 365,818.4" fill="#65ff57" stroke="#000" stroke-opacity="0.85" stroke-width="0.5" stroke-linejoin="round"/>
<polygon points="365,811 377,805 391,801 403,801 410,805 407,810 401,814 385,816 369,816" fill="#50ff71" stroke="#000" stroke-opacity="0.85" stroke-width="0.5" stroke-linejoin="round"/>
<polygon points="375,810 385,805 397,802.4 405,804 408,807 403,811 391,813.6 379,814" fill="#57ffa6" stroke="#000" stroke-opacity="0.85" stroke-width="0.5" stroke-linejoin="round"/>
<polygon points="348,814.4 367,813.4 367,818.4 348,818.4" fill="#3cd73c" filter="url(#bl)"/>
<polyline points="349,808 361,806 375,800 391,795 409,791 425,788 441,790" fill="none" stroke="#000" stroke-opacity="0.85" stroke-width="0.5" stroke-linejoin="round"/>
<g transform="translate(410.6 774.4) rotate(5)"><rect x="-5.3" y="-2.5" width="10.6" height="5" fill="#fff"/><text x="0" y="1.7" text-anchor="middle" font-size="5" font-weight="bold" fill="#000">0.80</text></g>
<g transform="translate(360 780.4) rotate(175)"><rect x="-5.3" y="-2.5" width="10.6" height="5" fill="#fff"/><text x="0" y="1.7" text-anchor="middle" font-size="5" font-weight="bold" fill="#000">0.20</text></g>
<g transform="translate(406.6 797) rotate(5)"><rect x="-5.3" y="-2.5" width="10.6" height="5" fill="#fff"/><text x="0" y="1.7" text-anchor="middle" font-size="5" font-weight="bold" fill="#000">0.20</text></g>
<g transform="translate(354.6 808) rotate(0)"><rect x="-5.3" y="-2.5" width="10.6" height="5" fill="#fff"/><text x="0" y="1.7" text-anchor="middle" font-size="5" font-weight="bold" fill="#000">0.40</text></g>
<g transform="translate(372 809.6) rotate(-30)"><rect x="-4.5" y="-2.1" width="9" height="4.2" fill="#fff"/><text x="0" y="1.4" text-anchor="middle" font-size="4.2" font-weight="bold" fill="#000">0.00</text></g>
<g transform="translate(360 816.4) rotate(0)"><rect x="-4.5" y="-2.1" width="9" height="4.2" fill="#fff"/><text x="0" y="1.4" text-anchor="middle" font-size="4.2" font-weight="bold" fill="#000">0.60</text></g>
<g transform="translate(434.6 797) rotate(140)"><rect x="-4.5" y="-2.1" width="9" height="4.2" fill="#fff"/><text x="0" y="1.4" text-anchor="middle" font-size="4.2" font-weight="bold" fill="#000">1.20</text></g>
<g transform="translate(384 816.4) rotate(180)"><rect x="-4.5" y="-2.1" width="9" height="4.2" fill="#fff"/><text x="0" y="1.4" text-anchor="middle" font-size="4.2" font-weight="bold" fill="#000">1.40</text></g>
<g transform="translate(396 816.4) rotate(0)"><rect x="-4.5" y="-2.1" width="9" height="4.2" fill="#fff"/><text x="0" y="1.4" text-anchor="middle" font-size="4.2" font-weight="bold" fill="#000">1.00</text></g>
<g transform="translate(412 809) rotate(-45)"><rect x="-4.5" y="-2.1" width="9" height="4.2" fill="#fff"/><text x="0" y="1.4" text-anchor="middle" font-size="4.2" font-weight="bold" fill="#000">1.60</text></g>
</g>
<g clip-path="url(#c48)">
<polygon points="539.4,796 584,769.6 636,769.6 636,822 583,822" fill="#fcff5e"/>
<polygon points="581,771 601,771.6 615,772.8 637,772 637,774.4 615,775.2 601,774 583,774.8" fill="#adff58" stroke="#000" stroke-opacity="0.85" stroke-width="0.5" stroke-linejoin="round"/>
<polygon points="583,768 637,768 637,771.6 615,772.4 601,771 585,772.4" fill="#5cff5c" stroke="#000" stroke-opacity="0.85" stroke-width="0.5" stroke-linejoin="round"/>
<polygon points="581,804 589,798 601,793 615,789 637,786 637,817 627,815 619,816 611,815 605,812 599,811 593,814 585,812 582,808" fill="#ffd35e" stroke="#000" stroke-opacity="0.85" stroke-width="0.5" stroke-linejoin="round"/>
<polygon points="585,819 595,818 605,820 613,821 625,817 637,818 637,823 584,823" fill="#ffd05e" stroke="#000" stroke-opacity="0.85" stroke-width="0.5" stroke-linejoin="round"/>
<polygon points="591,820.8 605,821.8 621,820.2 637,820.2 637,823 589,823" fill="#ffa25e" filter="url(#bl)"/>
<polygon points="539.4,796 545,793 547,797 544,799" fill="#80ff52" stroke="#000" stroke-opacity="0.85" stroke-width="0.5" stroke-linejoin="round"/>
<polyline points="637,775 615,776 595,778 577,782 563,789 555,796 553,802" fill="none" stroke="#000" stroke-opacity="0.85" stroke-width="0.5" stroke-linejoin="round"/>
<polyline points="637,778 613,779.6 593,783 577,789 566,797 564,804 568,812 573,817" fill="none" stroke="#000" stroke-opacity="0.85" stroke-width="0.5" stroke-linejoin="round"/>
<polyline points="637,782 613,784 593,788 579,795 568,799" fill="none" stroke="#000" stroke-opacity="0.85" stroke-width="0.5" stroke-linejoin="round"/>
<polyline points="560,785 557,790 549,796 547,800" fill="none" stroke="#000" stroke-opacity="0.85" stroke-width="0.5" stroke-linejoin="round"/>
<g transform="translate(599 771.6) rotate(0)"><rect x="-4.5" y="-2.1" width="9" height="4.2" fill="#fff"/><text x="0" y="1.4" text-anchor="middle" font-size="4.2" font-weight="bold" fill="#000">0.20</text></g>
<g transform="translate(604 777) rotate(-10)"><rect x="-4.5" y="-2.1" width="9" height="4.2" fill="#fff"/><text x="0" y="1.4" text-anchor="middle" font-size="4.2" font-weight="bold" fill="#000">1.00</text></g>
<g transform="translate(573.6 792) rotate(-40)"><rect x="-5.3" y="-2.5" width="10.6" height="5" fill="#fff"/><text x="0" y="1.7" text-anchor="middle" font-size="5" font-weight="bold" fill="#000">1.20</text></g>
<g transform="translate(582 809.6) rotate(70)"><rect x="-5.3" y="-2.5" width="10.6" height="5" fill="#fff"/><text x="0" y="1.7" text-anchor="middle" font-size="5" font-weight="bold" fill="#000">1.40</text></g>
<g transform="translate(544.6 800) rotate(-70)"><rect x="-4.5" y="-2.1" width="9" height="4.2" fill="#fff"/><text x="0" y="1.4" text-anchor="middle" font-size="4.2" font-weight="bold" fill="#000">0.60</text></g>
<g transform="translate(590 772) rotate(30)"><rect x="-4.5" y="-2.1" width="9" height="4.2" fill="#fff"/><text x="0" y="1.4" text-anchor="middle" font-size="4.2" font-weight="bold" fill="#000">0.40</text></g>
</g>
<g>
<rect x="636.7" y="716.9" width="12.1" height="4.9" fill="#ff0000"/>
<rect x="636.7" y="721.6" width="12.1" height="10" fill="#ff3c00"/>
<rect x="636.7" y="731.4" width="12.1" height="10" fill="#ff7800"/>
<rect x="636.7" y="741.1" width="12.1" height="10" fill="#ffb400"/>
<rect x="636.7" y="750.9" width="12.1" height="10" fill="#fff000"/>
<rect x="636.7" y="760.7" width="12.1" height="10" fill="#d2ff00"/>
<rect x="636.7" y="770.5" width="12.1" height="10" fill="#96ff00"/>
<rect x="636.7" y="780.2" width="12.1" height="10" fill="#5aff00"/>
<rect x="636.7" y="790" width="12.1" height="10" fill="#1eff00"/>
<rect x="636.7" y="799.8" width="12.1" height="10" fill="#00ff1e"/>
<rect x="636.7" y="809.5" width="12.1" height="10" fill="#00ff5a"/>
<rect x="636.7" y="819.3" width="12.1" height="10" fill="#00ff96"/>
<rect x="636.7" y="829.1" width="12.1" height="10" fill="#00ffd2"/>
<rect x="636.7" y="838.8" width="12.1" height="10" fill="#00f0ff"/>
<rect x="636.7" y="848.6" width="12.1" height="10" fill="#00b4ff"/>
<rect x="636.7" y="858.4" width="12.1" height="10" fill="#0078ff"/>
<rect x="636.7" y="868.1" width="12.1" height="10" fill="#003cff"/>
<rect x="636.7" y="877.9" width="12.1" height="5.2" fill="#0000ff"/>
<line x1="636.7" x2="648.8" y1="721.6" y2="721.6" stroke="#000" stroke-opacity="0.7" stroke-width="0.5"/>
<line x1="636.7" x2="648.8" y1="731.4" y2="731.4" stroke="#000" stroke-opacity="0.7" stroke-width="0.5"/>
<line x1="636.7" x2="648.8" y1="741.1" y2="741.1" stroke="#000" stroke-opacity="0.7" stroke-width="0.5"/>
<line x1="636.7" x2="648.8" y1="750.9" y2="750.9" stroke="#000" stroke-opacity="0.7" stroke-width="0.5"/>
<line x1="636.7" x2="648.8" y1="760.7" y2="760.7" stroke="#000" stroke-opacity="0.7" stroke-width="0.5"/>
<line x1="636.7" x2="648.8" y1="770.5" y2="770.5" stroke="#000" stroke-opacity="0.7" stroke-width="0.5"/>
<line x1="636.7" x2="648.8" y1="780.2" y2="780.2" stroke="#000" stroke-opacity="0.7" stroke-width="0.5"/>
<line x1="636.7" x2="648.8" y1="790" y2="790" stroke="#000" stroke-opacity="0.7" stroke-width="0.5"/>
<line x1="636.7" x2="648.8" y1="799.8" y2="799.8" stroke="#000" stroke-opacity="0.7" stroke-width="0.5"/>
<line x1="636.7" x2="648.8" y1="809.5" y2="809.5" stroke="#000" stroke-opacity="0.7" stroke-width="0.5"/>
<line x1="636.7" x2="648.8" y1="819.3" y2="819.3" stroke="#000" stroke-opacity="0.7" stroke-width="0.5"/>
<line x1="636.7" x2="648.8" y1="829.1" y2="829.1" stroke="#000" stroke-opacity="0.7" stroke-width="0.5"/>
<line x1="636.7" x2="648.8" y1="838.8" y2="838.8" stroke="#000" stroke-opacity="0.7" stroke-width="0.5"/>
<line x1="636.7" x2="648.8" y1="848.6" y2="848.6" stroke="#000" stroke-opacity="0.7" stroke-width="0.5"/>
<line x1="636.7" x2="648.8" y1="858.4" y2="858.4" stroke="#000" stroke-opacity="0.7" stroke-width="0.5"/>
<line x1="636.7" x2="648.8" y1="868.1" y2="868.1" stroke="#000" stroke-opacity="0.7" stroke-width="0.5"/>
<line x1="636.7" x2="648.8" y1="877.9" y2="877.9" stroke="#000" stroke-opacity="0.7" stroke-width="0.5"/>
<rect x="636.7" y="716.9" width="12.1" height="166" fill="none" stroke="#555" stroke-opacity="0.6" stroke-width="0.6"/>
<text x="671.7" y="726.1" text-anchor="end" font-size="8.2" font-weight="bold">1.80</text>
<text x="671.7" y="735.9" text-anchor="end" font-size="8.2" font-weight="bold">1.60</text>
<text x="671.7" y="745.6" text-anchor="end" font-size="8.2" font-weight="bold">1.40</text>
<text x="671.7" y="755.4" text-anchor="end" font-size="8.2" font-weight="bold">1.20</text>
<text x="671.7" y="765.2" text-anchor="end" font-size="8.2" font-weight="bold">1.00</text>
<text x="671.7" y="775" text-anchor="end" font-size="8.2" font-weight="bold">0.80</text>
<text x="671.7" y="784.7" text-anchor="end" font-size="8.2" font-weight="bold">0.60</text>
<text x="671.7" y="794.5" text-anchor="end" font-size="8.2" font-weight="bold">0.40</text>
<text x="671.7" y="804.3" text-anchor="end" font-size="8.2" font-weight="bold">0.20</text>
<text x="671.7" y="814" text-anchor="end" font-size="8.2" font-weight="bold">0.00</text>
<text x="671.7" y="823.8" text-anchor="end" font-size="8.2" font-weight="bold">-0.20</text>
<text x="671.7" y="833.6" text-anchor="end" font-size="8.2" font-weight="bold">-0.40</text>
<text x="671.7" y="843.3" text-anchor="end" font-size="8.2" font-weight="bold">-0.60</text>
<text x="671.7" y="853.1" text-anchor="end" font-size="8.2" font-weight="bold">-0.80</text>
<text x="671.7" y="862.9" text-anchor="end" font-size="8.2" font-weight="bold">-1.00</text>
<text x="671.7" y="872.7" text-anchor="end" font-size="8.2" font-weight="bold">-1.20</text>
<text x="671.7" y="882.4" text-anchor="end" font-size="8.2" font-weight="bold">-1.40</text>
<text x="663" y="711.5" text-anchor="middle" font-size="8.2" font-weight="bold">Cp</text>
</g>
</svg>
</body></html>
